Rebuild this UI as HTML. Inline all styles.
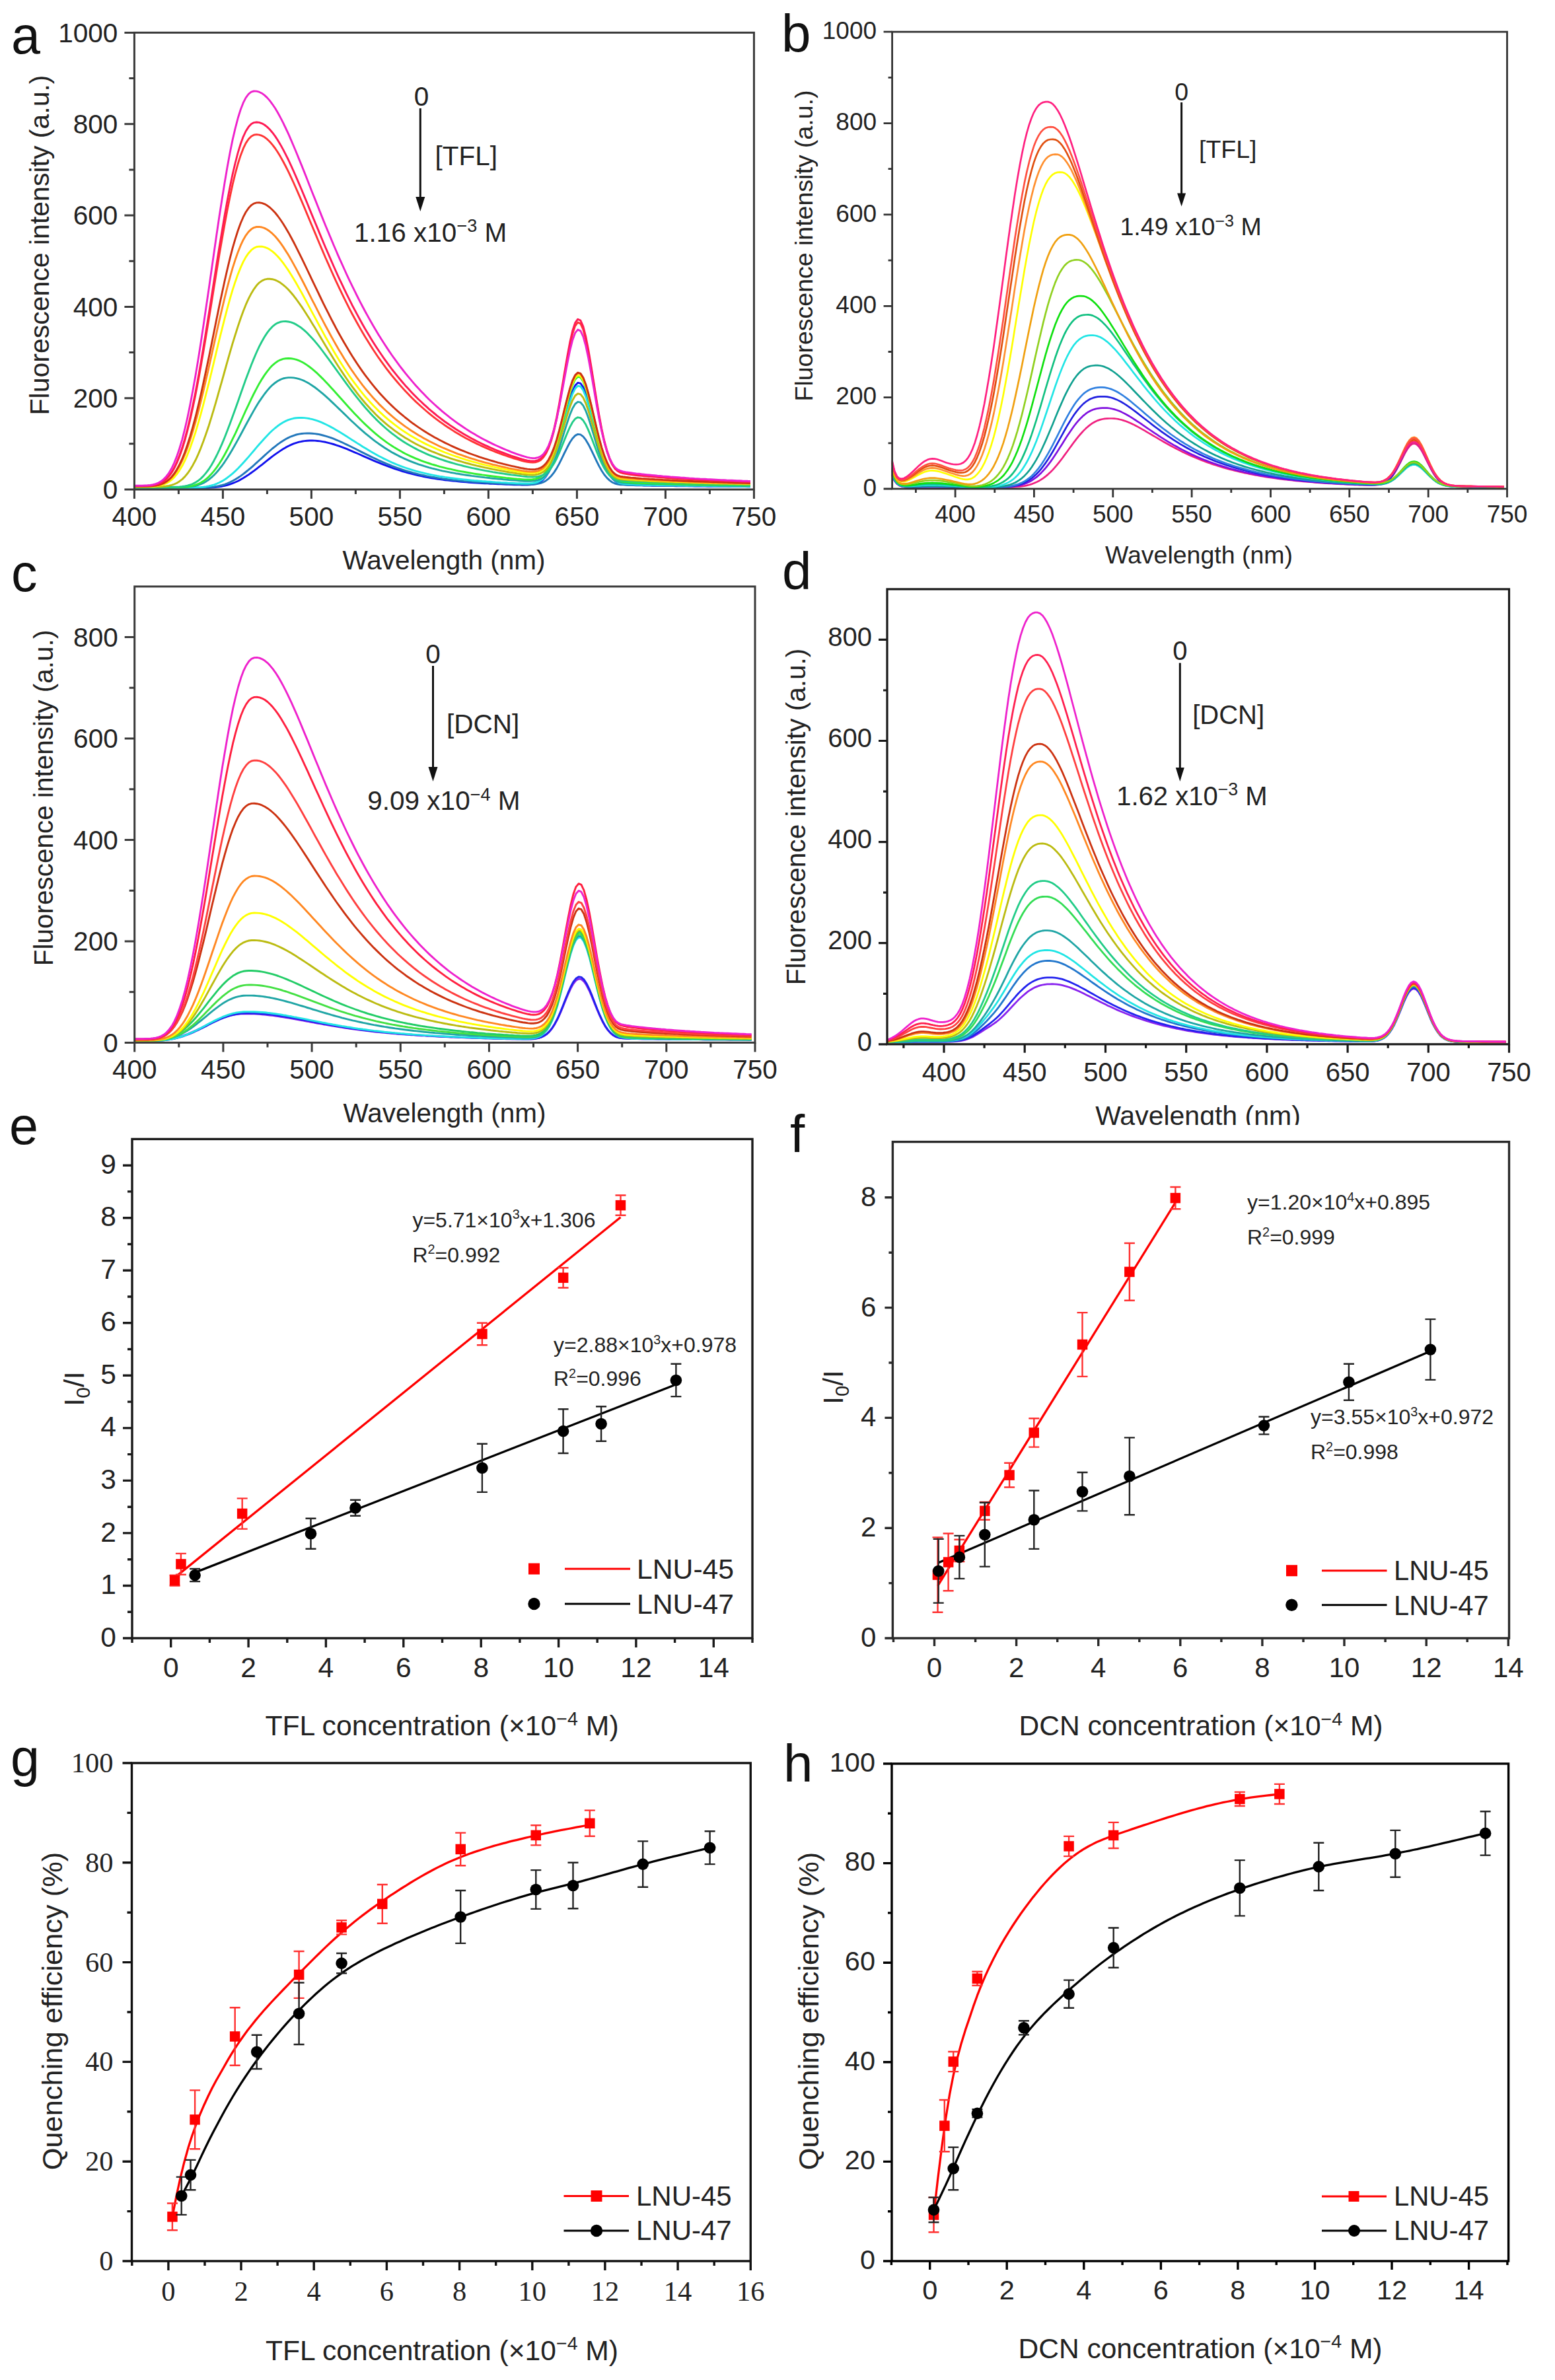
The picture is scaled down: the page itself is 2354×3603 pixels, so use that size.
<!DOCTYPE html>
<html><head><meta charset="utf-8"><title>Figure</title>
<style>html,body{margin:0;padding:0;background:#fff}svg{display:block}</style></head>
<body><svg width="2354" height="3603" viewBox="0 0 2354 3603">
<rect width="2354" height="3603" fill="#fff"/>
<path d="M203.4 738.5 207.4 738.5 211.4 738.5 215.5 738.5 219.5 738.5 223.5 738.5 227.5 738.5 231.5 738.5 235.6 738.5 239.6 738.5 243.6 738.5 247.6 738.5 251.6 738.5 255.7 738.5 259.7 738.5 263.7 738.5 267.7 738.5 271.7 738.5 275.8 738.5 279.8 738.5 283.8 738.5 287.8 738.5 291.8 738.5 295.9 738.5 299.9 738.5 303.9 738.4 307.9 738.4 311.9 738.3 316.0 738.2 320.0 738.0 324.0 737.7 328.0 737.4 332.0 736.9 336.1 736.2 340.1 735.4 344.1 734.4 348.1 733.1 352.1 731.7 356.2 730.0 360.2 728.2 364.2 726.1 368.2 723.8 372.2 721.3 376.3 718.6 380.3 715.8 384.3 712.9 388.3 709.8 392.3 706.7 396.4 703.6 400.4 700.4 404.4 697.2 408.4 694.0 412.4 690.9 416.5 687.9 420.5 685.1 424.5 682.4 428.5 679.8 432.5 677.4 436.6 675.3 440.6 673.4 444.6 671.7 448.6 670.3 452.6 669.2 456.7 668.3 460.7 667.6 464.7 667.2 468.7 667.0 472.7 667.0 476.8 667.1 480.8 667.5 484.8 667.9 488.8 668.6 492.8 669.3 496.9 670.3 500.9 671.3 504.9 672.5 508.9 673.8 512.9 675.1 517.0 676.6 521.0 678.1 525.0 679.7 529.0 681.4 533.0 683.1 537.1 684.8 541.1 686.5 545.1 688.3 549.1 690.1 553.1 691.8 557.2 693.6 561.2 695.3 565.2 697.1 569.2 698.8 573.2 700.4 577.3 702.1 581.3 703.7 585.3 705.2 589.3 706.7 593.3 708.2 597.4 709.6 601.4 710.9 605.4 712.2 609.4 713.5 613.4 714.7 617.5 715.8 621.5 716.9 625.5 717.9 629.5 718.9 633.5 719.8 637.6 720.7 641.6 721.5 645.6 722.3 649.6 723.0 653.6 723.7 657.7 724.4 661.7 725.0 665.7 725.6 669.7 726.1 673.7 726.7 677.8 727.1 681.8 727.6 685.8 728.0 689.8 728.4 693.8 728.8 697.9 729.2 701.9 729.5 705.9 729.9 709.9 730.2 713.9 730.5 718.0 730.7 722.0 731.0 726.0 731.3 730.0 731.5 734.0 731.7 738.1 731.9 742.1 732.2 746.1 732.4 750.1 732.5 754.1 732.7 758.2 732.9 762.2 733.1 766.2 733.2 770.2 733.4 774.2 733.6 778.3 733.7 782.3 733.8 786.3 733.9 790.3 734.0 794.3 734.0 798.4 734.0 802.4 733.8 806.4 733.3 810.4 732.5 814.4 731.1 818.5 729.0 822.5 725.8 826.5 721.3 830.5 715.0 834.5 706.7 838.6 696.3 842.6 683.6 846.6 669.0 850.6 652.9 854.6 636.0 858.7 619.5 862.7 604.4 866.7 592.1 870.7 583.5 874.7 579.4 878.8 580.3 882.8 586.1 886.8 596.2 890.8 609.7 894.8 625.5 898.9 642.4 902.9 659.3 906.9 675.1 910.9 689.3 914.9 701.3 919.0 711.1 923.0 718.8 927.0 724.4 931.0 728.3 935.0 730.9 939.1 732.4 943.1 733.3 947.1 733.8 951.1 734.2 955.1 734.4 959.2 734.6 963.2 734.7 967.2 734.8 971.2 734.9 975.2 735.0 979.3 735.1 983.3 735.1 987.3 735.2 991.3 735.2 995.3 735.3 999.4 735.4 1003.4 735.4 1007.4 735.5 1011.4 735.5 1015.4 735.6 1019.5 735.6 1023.5 735.7 1027.5 735.7 1031.5 735.8 1035.5 735.8 1039.6 735.9 1043.6 735.9 1047.6 735.9 1051.6 736.0 1055.6 736.0 1059.7 736.1 1063.7 736.1 1067.7 736.1 1071.7 736.2 1075.7 736.2 1079.8 736.3 1083.8 736.3 1087.8 736.3 1091.8 736.4 1095.8 736.4 1099.9 736.4 1103.9 736.5 1107.9 736.5 1111.9 736.5 1115.9 736.6 1120.0 736.6 1124.0 736.6 1128.0 736.6 1132.0 736.7 1136.0 736.7" fill="none" stroke="#1111ee" stroke-width="2.9" stroke-linejoin="round"/>
<path d="M203.4 738.4 207.4 738.4 211.4 738.4 215.5 738.4 219.5 738.4 223.5 738.4 227.5 738.4 231.5 738.4 235.6 738.4 239.6 738.4 243.6 738.4 247.6 738.4 251.6 738.4 255.7 738.4 259.7 738.4 263.7 738.4 267.7 738.4 271.7 738.4 275.8 738.4 279.8 738.4 283.8 738.4 287.8 738.4 291.8 738.4 295.9 738.4 299.9 738.3 303.9 738.3 307.9 738.2 311.9 738.0 316.0 737.8 320.0 737.4 324.0 737.0 328.0 736.3 332.0 735.5 336.1 734.5 340.1 733.3 344.1 731.8 348.1 730.0 352.1 728.0 356.2 725.8 360.2 723.3 364.2 720.6 368.2 717.7 372.2 714.5 376.3 711.2 380.3 707.8 384.3 704.3 388.3 700.6 392.3 697.0 396.4 693.3 400.4 689.6 404.4 686.0 408.4 682.5 412.4 679.0 416.5 675.8 420.5 672.7 424.5 669.8 428.5 667.2 432.5 664.8 436.6 662.6 440.6 660.8 444.6 659.3 448.6 658.0 452.6 657.1 456.7 656.5 460.7 656.1 464.7 655.9 468.7 656.0 472.7 656.2 476.8 656.6 480.8 657.2 484.8 658.0 488.8 659.0 492.8 660.1 496.9 661.3 500.9 662.7 504.9 664.2 508.9 665.8 512.9 667.5 517.0 669.3 521.0 671.2 525.0 673.1 529.0 675.0 533.0 677.0 537.1 679.0 541.1 681.0 545.1 683.1 549.1 685.1 553.1 687.1 557.2 689.1 561.2 691.1 565.2 693.0 569.2 694.9 573.2 696.8 577.3 698.6 581.3 700.4 585.3 702.1 589.3 703.7 593.3 705.3 597.4 706.8 601.4 708.3 605.4 709.7 609.4 711.1 613.4 712.4 617.5 713.6 621.5 714.7 625.5 715.9 629.5 716.9 633.5 717.9 637.6 718.8 641.6 719.7 645.6 720.6 649.6 721.4 653.6 722.1 657.7 722.8 661.7 723.5 665.7 724.1 669.7 724.7 673.7 725.2 677.8 725.8 681.8 726.3 685.8 726.7 689.8 727.2 693.8 727.6 697.9 728.0 701.9 728.4 705.9 728.7 709.9 729.0 713.9 729.4 718.0 729.7 722.0 730.0 726.0 730.2 730.0 730.5 734.0 730.8 738.1 731.0 742.1 731.2 746.1 731.5 750.1 731.7 754.1 731.9 758.2 732.1 762.2 732.3 766.2 732.5 770.2 732.6 774.2 732.8 778.3 733.0 782.3 733.1 786.3 733.3 790.3 733.4 794.3 733.5 798.4 733.5 802.4 733.5 806.4 733.4 810.4 733.0 814.4 732.4 818.5 731.4 822.5 729.9 826.5 727.7 830.5 724.6 834.5 720.5 838.6 715.4 842.6 709.1 846.6 701.9 850.6 693.8 854.6 685.5 858.7 677.3 862.7 669.8 866.7 663.7 870.7 659.4 874.7 657.4 878.8 657.9 882.8 660.8 886.8 665.9 890.8 672.7 894.8 680.7 898.9 689.2 902.9 697.6 906.9 705.6 910.9 712.7 914.9 718.7 919.0 723.6 923.0 727.4 927.0 730.2 931.0 732.0 935.0 733.1 939.1 733.7 943.1 733.9 947.1 734.0 951.1 734.2 955.1 734.3 959.2 734.4 963.2 734.5 967.2 734.6 971.2 734.6 975.2 734.7 979.3 734.8 983.3 734.8 987.3 734.9 991.3 735.0 995.3 735.0 999.4 735.1 1003.4 735.1 1007.4 735.2 1011.4 735.3 1015.4 735.3 1019.5 735.4 1023.5 735.4 1027.5 735.5 1031.5 735.5 1035.5 735.6 1039.6 735.6 1043.6 735.7 1047.6 735.7 1051.6 735.8 1055.6 735.8 1059.7 735.9 1063.7 735.9 1067.7 735.9 1071.7 736.0 1075.7 736.0 1079.8 736.1 1083.8 736.1 1087.8 736.1 1091.8 736.2 1095.8 736.2 1099.9 736.3 1103.9 736.3 1107.9 736.3 1111.9 736.4 1115.9 736.4 1120.0 736.4 1124.0 736.5 1128.0 736.5 1132.0 736.5 1136.0 736.5" fill="none" stroke="#2277bb" stroke-width="2.9" stroke-linejoin="round"/>
<path d="M203.4 738.3 207.4 738.3 211.4 738.3 215.5 738.3 219.5 738.3 223.5 738.3 227.5 738.3 231.5 738.3 235.6 738.3 239.6 738.3 243.6 738.3 247.6 738.3 251.6 738.3 255.7 738.3 259.7 738.3 263.7 738.3 267.7 738.3 271.7 738.3 275.8 738.3 279.8 738.3 283.8 738.2 287.8 738.2 291.8 738.1 295.9 738.0 299.9 737.9 303.9 737.6 307.9 737.2 311.9 736.7 316.0 735.9 320.0 735.0 324.0 733.8 328.0 732.3 332.0 730.5 336.1 728.4 340.1 726.0 344.1 723.2 348.1 720.2 352.1 716.8 356.2 713.1 360.2 709.2 364.2 705.1 368.2 700.7 372.2 696.2 376.3 691.6 380.3 686.9 384.3 682.2 388.3 677.4 392.3 672.7 396.4 668.2 400.4 663.7 404.4 659.4 408.4 655.3 412.4 651.5 416.5 648.0 420.5 644.8 424.5 642.0 428.5 639.5 432.5 637.4 436.6 635.6 440.6 634.3 444.6 633.3 448.6 632.7 452.6 632.5 456.7 632.4 460.7 632.6 464.7 633.1 468.7 633.8 472.7 634.7 476.8 635.8 480.8 637.2 484.8 638.7 488.8 640.4 492.8 642.3 496.9 644.3 500.9 646.4 504.9 648.6 508.9 650.9 512.9 653.3 517.0 655.8 521.0 658.3 525.0 660.8 529.0 663.4 533.0 666.0 537.1 668.5 541.1 671.1 545.1 673.6 549.1 676.2 553.1 678.6 557.2 681.1 561.2 683.4 565.2 685.8 569.2 688.0 573.2 690.2 577.3 692.3 581.3 694.4 585.3 696.3 589.3 698.2 593.3 700.1 597.4 701.8 601.4 703.5 605.4 705.1 609.4 706.6 613.4 708.0 617.5 709.4 621.5 710.7 625.5 711.9 629.5 713.1 633.5 714.2 637.6 715.2 641.6 716.2 645.6 717.1 649.6 718.0 653.6 718.8 657.7 719.6 661.7 720.4 665.7 721.1 669.7 721.7 673.7 722.4 677.8 722.9 681.8 723.5 685.8 724.0 689.8 724.5 693.8 725.0 697.9 725.5 701.9 725.9 705.9 726.3 709.9 726.7 713.9 727.1 718.0 727.5 722.0 727.8 726.0 728.1 730.0 728.5 734.0 728.8 738.1 729.1 742.1 729.3 746.1 729.6 750.1 729.9 754.1 730.1 758.2 730.4 762.2 730.6 766.2 730.8 770.2 731.1 774.2 731.3 778.3 731.5 782.3 731.7 786.3 731.8 790.3 732.0 794.3 732.0 798.4 732.0 802.4 731.9 806.4 731.5 810.4 730.8 814.4 729.5 818.5 727.5 822.5 724.5 826.5 720.2 830.5 714.2 834.5 706.3 838.6 696.3 842.6 684.2 846.6 670.1 850.6 654.7 854.6 638.5 858.7 622.6 862.7 608.2 866.7 596.3 870.7 588.1 874.7 584.2 878.8 585.1 882.8 590.7 886.8 600.4 890.8 613.5 894.8 628.7 898.9 645.0 902.9 661.2 906.9 676.5 910.9 690.1 914.9 701.7 919.0 711.2 923.0 718.5 927.0 724.0 931.0 727.7 935.0 730.1 939.1 731.6 943.1 732.4 947.1 732.9 951.1 733.2 955.1 733.4 959.2 733.6 963.2 733.8 967.2 733.9 971.2 734.0 975.2 734.1 979.3 734.2 983.3 734.2 987.3 734.3 991.3 734.4 995.3 734.5 999.4 734.5 1003.4 734.6 1007.4 734.7 1011.4 734.7 1015.4 734.8 1019.5 734.9 1023.5 734.9 1027.5 735.0 1031.5 735.0 1035.5 735.1 1039.6 735.2 1043.6 735.2 1047.6 735.3 1051.6 735.3 1055.6 735.4 1059.7 735.4 1063.7 735.5 1067.7 735.5 1071.7 735.6 1075.7 735.6 1079.8 735.7 1083.8 735.7 1087.8 735.7 1091.8 735.8 1095.8 735.8 1099.9 735.9 1103.9 735.9 1107.9 736.0 1111.9 736.0 1115.9 736.0 1120.0 736.1 1124.0 736.1 1128.0 736.1 1132.0 736.2 1136.0 736.2" fill="none" stroke="#22e5e5" stroke-width="2.9" stroke-linejoin="round"/>
<path d="M203.4 737.9 207.4 737.9 211.4 737.9 215.5 737.9 219.5 737.9 223.5 737.9 227.5 737.9 231.5 737.9 235.6 737.9 239.6 737.9 243.6 737.9 247.6 737.9 251.6 737.9 255.7 737.9 259.7 737.9 263.7 737.9 267.7 737.9 271.7 737.8 275.8 737.7 279.8 737.5 283.8 737.3 287.8 736.9 291.8 736.3 295.9 735.5 299.9 734.4 303.9 733.0 307.9 731.2 311.9 728.9 316.0 726.2 320.0 722.9 324.0 719.2 328.0 715.0 332.0 710.2 336.1 705.0 340.1 699.3 344.1 693.2 348.1 686.7 352.1 679.9 356.2 672.8 360.2 665.6 364.2 658.2 368.2 650.7 372.2 643.2 376.3 635.8 380.3 628.5 384.3 621.4 388.3 614.6 392.3 608.1 396.4 602.1 400.4 596.5 404.4 591.4 408.4 586.8 412.4 582.8 416.5 579.5 420.5 576.7 424.5 574.6 428.5 573.0 432.5 572.1 436.6 571.6 440.6 571.6 444.6 571.9 448.6 572.6 452.6 573.6 456.7 575.0 460.7 576.7 464.7 578.8 468.7 581.1 472.7 583.7 476.8 586.5 480.8 589.6 484.8 592.8 488.8 596.2 492.8 599.7 496.9 603.3 500.9 607.1 504.9 610.9 508.9 614.7 512.9 618.6 517.0 622.5 521.0 626.4 525.0 630.3 529.0 634.2 533.0 638.0 537.1 641.8 541.1 645.5 545.1 649.1 549.1 652.6 553.1 656.1 557.2 659.4 561.2 662.7 565.2 665.8 569.2 668.8 573.2 671.7 577.3 674.5 581.3 677.2 585.3 679.8 589.3 682.3 593.3 684.7 597.4 686.9 601.4 689.0 605.4 691.1 609.4 693.0 613.4 694.9 617.5 696.6 621.5 698.3 625.5 699.9 629.5 701.4 633.5 702.8 637.6 704.1 641.6 705.4 645.6 706.6 649.6 707.8 653.6 708.9 657.7 709.9 661.7 710.9 665.7 711.9 669.7 712.8 673.7 713.6 677.8 714.4 681.8 715.2 685.8 715.9 689.8 716.7 693.8 717.3 697.9 718.0 701.9 718.6 705.9 719.2 709.9 719.8 713.9 720.4 718.0 720.9 722.0 721.4 726.0 721.9 730.0 722.4 734.0 722.9 738.1 723.3 742.1 723.8 746.1 724.2 750.1 724.6 754.1 725.0 758.2 725.4 762.2 725.8 766.2 726.1 770.2 726.5 774.2 726.8 778.3 727.1 782.3 727.4 786.3 727.7 790.3 728.0 794.3 728.2 798.4 728.3 802.4 728.3 806.4 728.1 810.4 727.7 814.4 726.7 818.5 725.2 822.5 722.8 826.5 719.4 830.5 714.5 834.5 708.1 838.6 700.0 842.6 690.1 846.6 678.6 850.6 665.9 854.6 652.7 858.7 639.7 862.7 627.9 866.7 618.2 870.7 611.5 874.7 608.4 878.8 609.2 882.8 613.9 886.8 622.0 890.8 632.8 894.8 645.4 898.9 658.9 902.9 672.4 906.9 685.0 910.9 696.3 914.9 705.9 919.0 713.7 923.0 719.8 927.0 724.3 931.0 727.3 935.0 729.2 939.1 730.2 943.1 730.8 947.1 731.1 951.1 731.4 955.1 731.6 959.2 731.8 963.2 732.0 967.2 732.1 971.2 732.2 975.2 732.4 979.3 732.5 983.3 732.6 987.3 732.7 991.3 732.8 995.3 732.9 999.4 733.0 1003.4 733.1 1007.4 733.2 1011.4 733.3 1015.4 733.4 1019.5 733.5 1023.5 733.6 1027.5 733.6 1031.5 733.7 1035.5 733.8 1039.6 733.9 1043.6 734.0 1047.6 734.0 1051.6 734.1 1055.6 734.2 1059.7 734.2 1063.7 734.3 1067.7 734.4 1071.7 734.4 1075.7 734.5 1079.8 734.6 1083.8 734.6 1087.8 734.7 1091.8 734.7 1095.8 734.8 1099.9 734.9 1103.9 734.9 1107.9 735.0 1111.9 735.0 1115.9 735.1 1120.0 735.1 1124.0 735.2 1128.0 735.2 1132.0 735.3 1136.0 735.3" fill="none" stroke="#1fa5a5" stroke-width="2.9" stroke-linejoin="round"/>
<path d="M203.4 737.7 207.4 737.7 211.4 737.7 215.5 737.7 219.5 737.7 223.5 737.7 227.5 737.7 231.5 737.7 235.6 737.7 239.6 737.7 243.6 737.7 247.6 737.7 251.6 737.7 255.7 737.7 259.7 737.7 263.7 737.7 267.7 737.6 271.7 737.5 275.8 737.4 279.8 737.1 283.8 736.7 287.8 736.2 291.8 735.3 295.9 734.2 299.9 732.7 303.9 730.7 307.9 728.3 311.9 725.3 316.0 721.8 320.0 717.6 324.0 712.9 328.0 707.6 332.0 701.7 336.1 695.2 340.1 688.2 344.1 680.8 348.1 672.9 352.1 664.7 356.2 656.3 360.2 647.6 364.2 638.8 368.2 630.0 372.2 621.2 376.3 612.6 380.3 604.2 384.3 596.0 388.3 588.3 392.3 580.9 396.4 574.1 400.4 567.9 404.4 562.3 408.4 557.3 412.4 553.1 416.5 549.6 420.5 546.8 424.5 544.8 428.5 543.4 432.5 542.7 436.6 542.5 440.6 542.7 444.6 543.4 448.6 544.4 452.6 545.9 456.7 547.8 460.7 550.0 464.7 552.6 468.7 555.5 472.7 558.6 476.8 562.1 480.8 565.7 484.8 569.6 488.8 573.6 492.8 577.8 496.9 582.0 500.9 586.4 504.9 590.8 508.9 595.3 512.9 599.8 517.0 604.3 521.0 608.8 525.0 613.3 529.0 617.7 533.0 622.1 537.1 626.4 541.1 630.6 545.1 634.7 549.1 638.7 553.1 642.6 557.2 646.4 561.2 650.1 565.2 653.7 569.2 657.1 573.2 660.4 577.3 663.6 581.3 666.6 585.3 669.6 589.3 672.4 593.3 675.0 597.4 677.6 601.4 680.0 605.4 682.3 609.4 684.6 613.4 686.7 617.5 688.7 621.5 690.6 625.5 692.4 629.5 694.1 633.5 695.7 637.6 697.3 641.6 698.8 645.6 700.2 649.6 701.5 653.6 702.8 657.7 704.0 661.7 705.2 665.7 706.3 669.7 707.3 673.7 708.3 677.8 709.3 681.8 710.2 685.8 711.1 689.8 712.0 693.8 712.8 697.9 713.6 701.9 714.3 705.9 715.0 709.9 715.7 713.9 716.4 718.0 717.1 722.0 717.7 726.0 718.3 730.0 718.9 734.0 719.4 738.1 720.0 742.1 720.5 746.1 721.0 750.1 721.5 754.1 722.0 758.2 722.5 762.2 722.9 766.2 723.4 770.2 723.8 774.2 724.2 778.3 724.6 782.3 725.0 786.3 725.3 790.3 725.6 794.3 725.9 798.4 726.0 802.4 726.0 806.4 725.7 810.4 725.1 814.4 723.9 818.5 721.9 822.5 718.8 826.5 714.3 830.5 708.0 834.5 699.7 838.6 689.2 842.6 676.3 846.6 661.4 850.6 645.0 854.6 627.9 858.7 611.0 862.7 595.7 866.7 583.1 870.7 574.4 874.7 570.4 878.8 571.4 882.8 577.5 886.8 587.9 890.8 601.9 894.8 618.3 898.9 635.8 902.9 653.2 906.9 669.5 910.9 684.1 914.9 696.6 919.0 706.7 923.0 714.6 927.0 720.5 931.0 724.5 935.0 727.0 939.1 728.5 943.1 729.3 947.1 729.9 951.1 730.3 955.1 730.6 959.2 730.8 963.2 731.0 967.2 731.2 971.2 731.3 975.2 731.5 979.3 731.6 983.3 731.7 987.3 731.8 991.3 732.0 995.3 732.1 999.4 732.2 1003.4 732.3 1007.4 732.4 1011.4 732.5 1015.4 732.6 1019.5 732.7 1023.5 732.8 1027.5 732.9 1031.5 733.0 1035.5 733.1 1039.6 733.2 1043.6 733.3 1047.6 733.4 1051.6 733.5 1055.6 733.5 1059.7 733.6 1063.7 733.7 1067.7 733.8 1071.7 733.9 1075.7 733.9 1079.8 734.0 1083.8 734.1 1087.8 734.1 1091.8 734.2 1095.8 734.3 1099.9 734.3 1103.9 734.4 1107.9 734.5 1111.9 734.5 1115.9 734.6 1120.0 734.6 1124.0 734.7 1128.0 734.7 1132.0 734.8 1136.0 734.9" fill="none" stroke="#33ee33" stroke-width="2.9" stroke-linejoin="round"/>
<path d="M203.4 737.4 207.4 737.4 211.4 737.4 215.5 737.4 219.5 737.4 223.5 737.4 227.5 737.4 231.5 737.4 235.6 737.4 239.6 737.4 243.6 737.4 247.6 737.4 251.6 737.4 255.7 737.4 259.7 737.3 263.7 737.3 267.7 737.1 271.7 736.9 275.8 736.5 279.8 736.0 283.8 735.2 287.8 734.0 291.8 732.5 295.9 730.4 299.9 727.8 303.9 724.6 307.9 720.6 311.9 715.9 316.0 710.5 320.0 704.2 324.0 697.2 328.0 689.5 332.0 681.1 336.1 671.9 340.1 662.3 344.1 652.0 348.1 641.4 352.1 630.4 356.2 619.2 360.2 607.9 364.2 596.5 368.2 585.2 372.2 574.0 376.3 563.2 380.3 552.8 384.3 542.9 388.3 533.5 392.3 524.9 396.4 517.0 400.4 510.0 404.4 503.9 408.4 498.7 412.4 494.4 416.5 491.1 420.5 488.8 424.5 487.3 428.5 486.6 432.5 486.5 436.6 487.0 440.6 487.9 444.6 489.4 448.6 491.4 452.6 493.9 456.7 496.8 460.7 500.1 464.7 503.8 468.7 507.9 472.7 512.2 476.8 516.8 480.8 521.7 484.8 526.7 488.8 532.0 492.8 537.3 496.9 542.8 500.9 548.3 504.9 553.9 508.9 559.4 512.9 565.0 517.0 570.6 521.0 576.2 525.0 581.6 529.0 587.0 533.0 592.3 537.1 597.6 541.1 602.7 545.1 607.6 549.1 612.5 553.1 617.2 557.2 621.8 561.2 626.2 565.2 630.5 569.2 634.6 573.2 638.5 577.3 642.4 581.3 646.0 585.3 649.5 589.3 652.9 593.3 656.1 597.4 659.2 601.4 662.2 605.4 665.0 609.4 667.7 613.4 670.3 617.5 672.7 621.5 675.1 625.5 677.3 629.5 679.4 633.5 681.5 637.6 683.4 641.6 685.3 645.6 687.1 649.6 688.8 653.6 690.4 657.7 691.9 661.7 693.4 665.7 694.9 669.7 696.2 673.7 697.5 677.8 698.8 681.8 700.0 685.8 701.2 689.8 702.3 693.8 703.4 697.9 704.4 701.9 705.5 705.9 706.4 709.9 707.4 713.9 708.3 718.0 709.2 722.0 710.0 726.0 710.8 730.0 711.6 734.0 712.4 738.1 713.1 742.1 713.9 746.1 714.6 750.1 715.2 754.1 715.9 758.2 716.5 762.2 717.1 766.2 717.7 770.2 718.3 774.2 718.9 778.3 719.4 782.3 719.9 786.3 720.4 790.3 720.9 794.3 721.3 798.4 721.7 802.4 721.9 806.4 722.0 810.4 721.9 814.4 721.4 818.5 720.4 822.5 718.8 826.5 716.3 830.5 712.7 834.5 707.9 838.6 701.8 842.6 694.2 846.6 685.5 850.6 675.8 854.6 665.6 858.7 655.6 862.7 646.6 866.7 639.2 870.7 634.1 874.7 631.8 878.8 632.6 882.8 636.4 886.8 642.8 890.8 651.4 894.8 661.3 898.9 672.0 902.9 682.6 906.9 692.5 910.9 701.4 914.9 709.0 919.0 715.2 923.0 720.0 927.0 723.5 931.0 725.8 935.0 727.1 939.1 727.8 943.1 728.1 947.1 728.3 951.1 728.5 955.1 728.7 959.2 728.9 963.2 729.1 967.2 729.3 971.2 729.5 975.2 729.6 979.3 729.8 983.3 730.0 987.3 730.1 991.3 730.3 995.3 730.4 999.4 730.6 1003.4 730.7 1007.4 730.9 1011.4 731.0 1015.4 731.1 1019.5 731.3 1023.5 731.4 1027.5 731.5 1031.5 731.6 1035.5 731.8 1039.6 731.9 1043.6 732.0 1047.6 732.1 1051.6 732.2 1055.6 732.3 1059.7 732.4 1063.7 732.5 1067.7 732.6 1071.7 732.7 1075.7 732.8 1079.8 732.9 1083.8 733.0 1087.8 733.1 1091.8 733.1 1095.8 733.2 1099.9 733.3 1103.9 733.4 1107.9 733.5 1111.9 733.5 1115.9 733.6 1120.0 733.7 1124.0 733.8 1128.0 733.8 1132.0 733.9 1136.0 734.0" fill="none" stroke="#22cc88" stroke-width="2.9" stroke-linejoin="round"/>
<path d="M203.4 737.0 207.4 737.0 211.4 737.0 215.5 737.0 219.5 737.0 223.5 737.0 227.5 737.0 231.5 737.0 235.6 736.9 239.6 736.8 243.6 736.7 247.6 736.4 251.6 736.0 255.7 735.4 259.7 734.4 263.7 733.0 267.7 731.2 271.7 728.7 275.8 725.6 279.8 721.6 283.8 716.8 287.8 711.1 291.8 704.4 295.9 696.8 299.9 688.1 303.9 678.6 307.9 668.1 311.9 656.8 316.0 644.7 320.0 631.9 324.0 618.6 328.0 604.8 332.0 590.7 336.1 576.4 340.1 562.0 344.1 547.7 348.1 533.7 352.1 519.9 356.2 506.7 360.2 494.1 364.2 482.2 368.2 471.2 372.2 461.2 376.3 452.2 380.3 444.4 384.3 437.8 388.3 432.3 392.3 428.1 396.4 425.1 400.4 423.2 404.4 422.3 408.4 422.2 412.4 422.7 416.5 423.9 420.5 425.7 424.5 428.1 428.5 431.1 432.5 434.5 436.6 438.5 440.6 443.0 444.6 447.8 448.6 453.0 452.6 458.6 456.7 464.4 460.7 470.5 464.7 476.7 468.7 483.1 472.7 489.7 476.8 496.3 480.8 503.0 484.8 509.8 488.8 516.5 492.8 523.2 496.9 529.9 500.9 536.5 504.9 543.0 508.9 549.4 512.9 555.7 517.0 561.9 521.0 567.9 525.0 573.8 529.0 579.6 533.0 585.1 537.1 590.5 541.1 595.8 545.1 600.9 549.1 605.7 553.1 610.5 557.2 615.0 561.2 619.4 565.2 623.6 569.2 627.7 573.2 631.6 577.3 635.3 581.3 638.9 585.3 642.3 589.3 645.6 593.3 648.7 597.4 651.8 601.4 654.7 605.4 657.5 609.4 660.1 613.4 662.7 617.5 665.1 621.5 667.5 625.5 669.7 629.5 671.9 633.5 674.0 637.6 676.0 641.6 677.9 645.6 679.8 649.6 681.6 653.6 683.3 657.7 684.9 661.7 686.5 665.7 688.1 669.7 689.6 673.7 691.0 677.8 692.4 681.8 693.8 685.8 695.1 689.8 696.3 693.8 697.5 697.9 698.7 701.9 699.9 705.9 701.0 709.9 702.0 713.9 703.1 718.0 704.1 722.0 705.1 726.0 706.0 730.0 706.9 734.0 707.8 738.1 708.7 742.1 709.5 746.1 710.4 750.1 711.1 754.1 711.9 758.2 712.7 762.2 713.4 766.2 714.1 770.2 714.8 774.2 715.4 778.3 716.0 782.3 716.7 786.3 717.2 790.3 717.8 794.3 718.3 798.4 718.6 802.4 718.9 806.4 719.0 810.4 718.7 814.4 717.9 818.5 716.6 822.5 714.3 826.5 710.8 830.5 705.9 834.5 699.4 838.6 691.0 842.6 680.7 846.6 668.8 850.6 655.6 854.6 641.8 858.7 628.3 862.7 616.0 866.7 605.9 870.7 599.0 874.7 595.9 878.8 596.9 882.8 601.9 886.8 610.6 890.8 622.1 894.8 635.6 898.9 649.9 902.9 664.2 906.9 677.6 910.9 689.6 914.9 699.9 919.0 708.2 923.0 714.7 927.0 719.4 931.0 722.6 935.0 724.6 939.1 725.6 943.1 726.1 947.1 726.4 951.1 726.7 955.1 727.0 959.2 727.2 963.2 727.5 967.2 727.7 971.2 727.9 975.2 728.1 979.3 728.3 983.3 728.5 987.3 728.7 991.3 728.9 995.3 729.1 999.4 729.2 1003.4 729.4 1007.4 729.6 1011.4 729.7 1015.4 729.9 1019.5 730.0 1023.5 730.2 1027.5 730.3 1031.5 730.4 1035.5 730.6 1039.6 730.7 1043.6 730.8 1047.6 731.0 1051.6 731.1 1055.6 731.2 1059.7 731.3 1063.7 731.4 1067.7 731.6 1071.7 731.7 1075.7 731.8 1079.8 731.9 1083.8 732.0 1087.8 732.1 1091.8 732.2 1095.8 732.3 1099.9 732.4 1103.9 732.5 1107.9 732.5 1111.9 732.6 1115.9 732.7 1120.0 732.8 1124.0 732.9 1128.0 733.0 1132.0 733.0 1136.0 733.1" fill="none" stroke="#bbbb11" stroke-width="2.9" stroke-linejoin="round"/>
<path d="M203.4 736.7 207.4 736.7 211.4 736.7 215.5 736.7 219.5 736.7 223.5 736.6 227.5 736.5 231.5 736.3 235.6 736.0 239.6 735.4 243.6 734.6 247.6 733.4 251.6 731.7 255.7 729.4 259.7 726.4 263.7 722.6 267.7 717.9 271.7 712.1 275.8 705.3 279.8 697.3 283.8 688.3 287.8 678.1 291.8 666.8 295.9 654.5 299.9 641.2 303.9 627.0 307.9 612.1 311.9 596.5 316.0 580.5 320.0 564.0 324.0 547.4 328.0 530.7 332.0 514.2 336.1 497.9 340.1 482.1 344.1 466.9 348.1 452.4 352.1 438.9 356.2 426.4 360.2 415.1 364.2 405.1 368.2 396.4 372.2 389.1 376.3 383.2 380.3 378.7 384.3 375.6 388.3 373.8 392.3 373.1 396.4 373.2 400.4 374.1 404.4 375.6 408.4 377.8 412.4 380.7 416.5 384.2 420.5 388.2 424.5 392.8 428.5 397.9 432.5 403.5 436.6 409.4 440.6 415.7 444.6 422.3 448.6 429.1 452.6 436.1 456.7 443.3 460.7 450.7 464.7 458.1 468.7 465.6 472.7 473.1 476.8 480.6 480.8 488.1 484.8 495.5 488.8 502.9 492.8 510.2 496.9 517.3 500.9 524.3 504.9 531.2 508.9 538.0 512.9 544.6 517.0 551.0 521.0 557.2 525.0 563.3 529.0 569.2 533.0 574.9 537.1 580.4 541.1 585.7 545.1 590.9 549.1 595.9 553.1 600.7 557.2 605.3 561.2 609.7 565.2 614.0 569.2 618.1 573.2 622.1 577.3 625.9 581.3 629.6 585.3 633.1 589.3 636.5 593.3 639.7 597.4 642.9 601.4 645.9 605.4 648.8 609.4 651.6 613.4 654.3 617.5 656.9 621.5 659.4 625.5 661.8 629.5 664.1 633.5 666.3 637.6 668.5 641.6 670.6 645.6 672.6 649.6 674.5 653.6 676.4 657.7 678.2 661.7 680.0 665.7 681.7 669.7 683.4 673.7 685.0 677.8 686.5 681.8 688.0 685.8 689.5 689.8 690.9 693.8 692.2 697.9 693.6 701.9 694.8 705.9 696.1 709.9 697.3 713.9 698.5 718.0 699.6 722.0 700.7 726.0 701.8 730.0 702.8 734.0 703.8 738.1 704.8 742.1 705.7 746.1 706.7 750.1 707.6 754.1 708.4 758.2 709.3 762.2 710.1 766.2 710.9 770.2 711.6 774.2 712.4 778.3 713.1 782.3 713.8 786.3 714.4 790.3 715.0 794.3 715.6 798.4 716.0 802.4 716.3 806.4 716.3 810.4 715.9 814.4 715.0 818.5 713.3 822.5 710.6 826.5 706.4 830.5 700.5 834.5 692.6 838.6 682.5 842.6 670.2 846.6 655.9 850.6 640.0 854.6 623.5 858.7 607.2 862.7 592.4 866.7 580.4 870.7 572.0 874.7 568.3 878.8 569.4 882.8 575.5 886.8 585.8 890.8 599.6 894.8 615.7 898.9 632.9 902.9 650.0 906.9 666.1 910.9 680.5 914.9 692.8 919.0 702.8 923.0 710.5 927.0 716.2 931.0 720.1 935.0 722.5 939.1 723.8 943.1 724.4 947.1 724.9 951.1 725.3 955.1 725.6 959.2 725.9 963.2 726.2 967.2 726.4 971.2 726.7 975.2 726.9 979.3 727.1 983.3 727.3 987.3 727.6 991.3 727.8 995.3 727.9 999.4 728.1 1003.4 728.3 1007.4 728.5 1011.4 728.7 1015.4 728.8 1019.5 729.0 1023.5 729.2 1027.5 729.3 1031.5 729.5 1035.5 729.6 1039.6 729.8 1043.6 729.9 1047.6 730.1 1051.6 730.2 1055.6 730.3 1059.7 730.5 1063.7 730.6 1067.7 730.7 1071.7 730.8 1075.7 731.0 1079.8 731.1 1083.8 731.2 1087.8 731.3 1091.8 731.4 1095.8 731.5 1099.9 731.6 1103.9 731.7 1107.9 731.8 1111.9 731.9 1115.9 732.0 1120.0 732.1 1124.0 732.2 1128.0 732.3 1132.0 732.4 1136.0 732.4" fill="none" stroke="#ffff00" stroke-width="2.9" stroke-linejoin="round"/>
<path d="M203.4 736.5 207.4 736.5 211.4 736.5 215.5 736.5 219.5 736.4 223.5 736.4 227.5 736.2 231.5 735.9 235.6 735.4 239.6 734.6 243.6 733.5 247.6 731.9 251.6 729.7 255.7 726.8 259.7 723.1 263.7 718.4 267.7 712.6 271.7 705.7 275.8 697.6 279.8 688.3 283.8 677.8 287.8 666.1 291.8 653.2 295.9 639.2 299.9 624.3 303.9 608.4 307.9 591.9 311.9 574.6 316.0 557.0 320.0 539.0 324.0 520.9 328.0 502.9 332.0 485.1 336.1 467.7 340.1 450.9 344.1 434.9 348.1 419.9 352.1 405.9 356.2 393.1 360.2 381.7 364.2 371.7 368.2 363.2 372.2 356.3 376.3 350.9 380.3 347.1 384.3 344.6 388.3 343.5 392.3 343.4 396.4 344.0 400.4 345.4 404.4 347.5 408.4 350.3 412.4 353.7 416.5 357.8 420.5 362.5 424.5 367.7 428.5 373.4 432.5 379.6 436.6 386.1 440.6 392.9 444.6 400.1 448.6 407.4 452.6 415.0 456.7 422.7 460.7 430.5 464.7 438.4 468.7 446.4 472.7 454.3 476.8 462.2 480.8 470.1 484.8 478.0 488.8 485.7 492.8 493.3 496.9 500.8 500.9 508.2 504.9 515.4 508.9 522.5 512.9 529.4 517.0 536.1 521.0 542.7 525.0 549.0 529.0 555.2 533.0 561.2 537.1 567.0 541.1 572.6 545.1 578.0 549.1 583.3 553.1 588.3 557.2 593.2 561.2 597.9 565.2 602.5 569.2 606.8 573.2 611.1 577.3 615.1 581.3 619.0 585.3 622.8 589.3 626.4 593.3 629.9 597.4 633.3 601.4 636.6 605.4 639.7 609.4 642.7 613.4 645.6 617.5 648.4 621.5 651.2 625.5 653.8 629.5 656.3 633.5 658.8 637.6 661.1 641.6 663.4 645.6 665.6 649.6 667.8 653.6 669.8 657.7 671.8 661.7 673.8 665.7 675.7 669.7 677.5 673.7 679.2 677.8 680.9 681.8 682.6 685.8 684.2 689.8 685.8 693.8 687.3 697.9 688.7 701.9 690.2 705.9 691.5 709.9 692.9 713.9 694.2 718.0 695.4 722.0 696.7 726.0 697.8 730.0 699.0 734.0 700.1 738.1 701.2 742.1 702.2 746.1 703.3 750.1 704.2 754.1 705.2 758.2 706.1 762.2 707.0 766.2 707.9 770.2 708.8 774.2 709.6 778.3 710.4 782.3 711.2 786.3 711.9 790.3 712.6 794.3 713.2 798.4 713.7 802.4 714.0 806.4 714.1 810.4 713.8 814.4 712.9 818.5 711.2 822.5 708.5 826.5 704.3 830.5 698.4 834.5 690.4 838.6 680.2 842.6 667.8 846.6 653.3 850.6 637.3 854.6 620.6 858.7 604.1 862.7 589.2 866.7 577.0 870.7 568.6 874.7 564.8 878.8 566.0 882.8 572.2 886.8 582.7 890.8 596.7 894.8 613.1 898.9 630.5 902.9 647.9 906.9 664.2 910.9 678.8 914.9 691.2 919.0 701.4 923.0 709.3 927.0 715.1 931.0 719.0 935.0 721.4 939.1 722.7 943.1 723.3 947.1 723.8 951.1 724.2 955.1 724.6 959.2 724.9 963.2 725.2 967.2 725.5 971.2 725.7 975.2 726.0 979.3 726.2 983.3 726.4 987.3 726.7 991.3 726.9 995.3 727.1 999.4 727.3 1003.4 727.5 1007.4 727.7 1011.4 727.9 1015.4 728.1 1019.5 728.3 1023.5 728.4 1027.5 728.6 1031.5 728.8 1035.5 728.9 1039.6 729.1 1043.6 729.3 1047.6 729.4 1051.6 729.6 1055.6 729.7 1059.7 729.8 1063.7 730.0 1067.7 730.1 1071.7 730.2 1075.7 730.4 1079.8 730.5 1083.8 730.6 1087.8 730.7 1091.8 730.9 1095.8 731.0 1099.9 731.1 1103.9 731.2 1107.9 731.3 1111.9 731.4 1115.9 731.5 1120.0 731.6 1124.0 731.7 1128.0 731.8 1132.0 731.9 1136.0 732.0" fill="none" stroke="#ff8822" stroke-width="2.9" stroke-linejoin="round"/>
<path d="M203.4 736.3 207.4 736.3 211.4 736.3 215.5 736.3 219.5 736.2 223.5 736.1 227.5 735.9 231.5 735.6 235.6 735.1 239.6 734.3 243.6 733.1 247.6 731.5 251.6 729.1 255.7 726.0 259.7 722.0 263.7 717.0 267.7 710.8 271.7 703.4 275.8 694.7 279.8 684.7 283.8 673.3 287.8 660.6 291.8 646.7 295.9 631.5 299.9 615.2 303.9 598.0 307.9 579.9 311.9 561.1 316.0 541.7 320.0 522.1 324.0 502.2 328.0 482.4 332.0 462.9 336.1 443.8 340.1 425.3 344.1 407.7 348.1 391.1 352.1 375.7 356.2 361.6 360.2 349.0 364.2 338.0 368.2 328.7 372.2 321.0 376.3 315.1 380.3 310.8 384.3 308.1 388.3 306.9 392.3 306.7 396.4 307.4 400.4 308.8 404.4 311.1 408.4 314.0 412.4 317.7 416.5 322.0 420.5 327.0 424.5 332.5 428.5 338.5 432.5 345.0 436.6 351.9 440.6 359.2 444.6 366.8 448.6 374.6 452.6 382.6 456.7 390.8 460.7 399.1 464.7 407.5 468.7 415.9 472.7 424.4 476.8 432.8 480.8 441.2 484.8 449.5 488.8 457.8 492.8 465.9 496.9 473.9 500.9 481.8 504.9 489.5 508.9 497.1 512.9 504.5 517.0 511.7 521.0 518.8 525.0 525.6 529.0 532.3 533.0 538.8 537.1 545.1 541.1 551.2 545.1 557.1 549.1 562.8 553.1 568.3 557.2 573.7 561.2 578.9 565.2 583.9 569.2 588.7 573.2 593.4 577.3 597.9 581.3 602.2 585.3 606.4 589.3 610.5 593.3 614.4 597.4 618.2 601.4 621.8 605.4 625.3 609.4 628.7 613.4 632.0 617.5 635.2 621.5 638.3 625.5 641.3 629.5 644.1 633.5 646.9 637.6 649.6 641.6 652.2 645.6 654.8 649.6 657.2 653.6 659.6 657.7 661.9 661.7 664.1 665.7 666.2 669.7 668.3 673.7 670.4 677.8 672.3 681.8 674.2 685.8 676.1 689.8 677.9 693.8 679.6 697.9 681.3 701.9 682.9 705.9 684.5 709.9 686.1 713.9 687.5 718.0 689.0 722.0 690.4 726.0 691.8 730.0 693.1 734.0 694.4 738.1 695.6 742.1 696.8 746.1 698.0 750.1 699.2 754.1 700.3 758.2 701.3 762.2 702.4 766.2 703.4 770.2 704.4 774.2 705.3 778.3 706.2 782.3 707.1 786.3 708.0 790.3 708.8 794.3 709.5 798.4 710.1 802.4 710.5 806.4 710.7 810.4 710.5 814.4 709.7 818.5 708.2 822.5 705.5 826.5 701.5 830.5 695.7 834.5 687.9 838.6 677.9 842.6 665.6 846.6 651.3 850.6 635.6 854.6 619.0 858.7 602.8 862.7 588.1 866.7 576.0 870.7 567.8 874.7 564.1 878.8 565.4 882.8 571.5 886.8 582.0 890.8 596.0 894.8 612.2 898.9 629.5 902.9 646.8 906.9 663.0 910.9 677.6 914.9 689.9 919.0 700.0 923.0 707.9 927.0 713.7 931.0 717.6 935.0 719.9 939.1 721.2 943.1 721.8 947.1 722.3 951.1 722.7 955.1 723.1 959.2 723.4 963.2 723.8 967.2 724.1 971.2 724.4 975.2 724.6 979.3 724.9 983.3 725.2 987.3 725.4 991.3 725.7 995.3 725.9 999.4 726.1 1003.4 726.4 1007.4 726.6 1011.4 726.8 1015.4 727.0 1019.5 727.2 1023.5 727.4 1027.5 727.6 1031.5 727.8 1035.5 728.0 1039.6 728.1 1043.6 728.3 1047.6 728.5 1051.6 728.7 1055.6 728.8 1059.7 729.0 1063.7 729.1 1067.7 729.3 1071.7 729.4 1075.7 729.6 1079.8 729.7 1083.8 729.8 1087.8 730.0 1091.8 730.1 1095.8 730.2 1099.9 730.4 1103.9 730.5 1107.9 730.6 1111.9 730.7 1115.9 730.8 1120.0 730.9 1124.0 731.0 1128.0 731.1 1132.0 731.2 1136.0 731.3" fill="none" stroke="#cc3311" stroke-width="2.9" stroke-linejoin="round"/>
<path d="M203.4 735.7 207.4 735.7 211.4 735.7 215.5 735.6 219.5 735.5 223.5 735.4 227.5 735.1 231.5 734.6 235.6 733.8 239.6 732.7 243.6 731.0 247.6 728.6 251.6 725.4 255.7 721.1 259.7 715.7 263.7 708.9 267.7 700.7 271.7 690.9 275.8 679.5 279.8 666.5 283.8 651.7 287.8 635.3 291.8 617.4 295.9 598.0 299.9 577.2 303.9 555.2 307.9 532.2 311.9 508.5 316.0 484.1 320.0 459.4 324.0 434.6 328.0 409.9 332.0 385.6 336.1 362.1 340.1 339.4 344.1 317.9 348.1 297.9 352.1 279.4 356.2 262.7 360.2 248.0 364.2 235.4 368.2 224.9 372.2 216.6 376.3 210.5 380.3 206.4 384.3 204.2 388.3 203.6 392.3 204.1 396.4 205.4 400.4 207.6 404.4 210.7 408.4 214.5 412.4 219.1 416.5 224.5 420.5 230.5 424.5 237.1 428.5 244.2 432.5 251.8 436.6 259.9 440.6 268.3 444.6 277.0 448.6 286.0 452.6 295.2 456.7 304.6 460.7 314.0 464.7 323.6 468.7 333.2 472.7 342.8 476.8 352.4 480.8 362.0 484.8 371.5 488.8 380.9 492.8 390.2 496.9 399.4 500.9 408.5 504.9 417.4 508.9 426.1 512.9 434.7 517.0 443.1 521.0 451.3 525.0 459.4 529.0 467.3 533.0 475.0 537.1 482.5 541.1 489.8 545.1 496.9 549.1 503.8 553.1 510.6 557.2 517.1 561.2 523.5 565.2 529.8 569.2 535.8 573.2 541.7 577.3 547.4 581.3 552.9 585.3 558.3 589.3 563.5 593.3 568.6 597.4 573.5 601.4 578.3 605.4 582.9 609.4 587.4 613.4 591.8 617.5 596.1 621.5 600.2 625.5 604.2 629.5 608.1 633.5 611.8 637.6 615.5 641.6 619.0 645.6 622.5 649.6 625.8 653.6 629.1 657.7 632.3 661.7 635.3 665.7 638.3 669.7 641.2 673.7 644.0 677.8 646.7 681.8 649.3 685.8 651.9 689.8 654.4 693.8 656.8 697.9 659.2 701.9 661.4 705.9 663.7 709.9 665.8 713.9 667.9 718.0 669.9 722.0 671.9 726.0 673.8 730.0 675.6 734.0 677.4 738.1 679.2 742.1 680.9 746.1 682.5 750.1 684.1 754.1 685.6 758.2 687.1 762.2 688.6 766.2 690.0 770.2 691.4 774.2 692.7 778.3 694.0 782.3 695.2 786.3 696.4 790.3 697.5 794.3 698.5 798.4 699.3 802.4 699.9 806.4 700.1 810.4 699.8 814.4 698.7 818.5 696.4 822.5 692.5 826.5 686.6 830.5 678.3 834.5 667.0 838.6 652.5 842.6 634.8 846.6 614.2 850.6 591.4 854.6 567.5 858.7 544.1 862.7 522.8 866.7 505.4 870.7 493.4 874.7 488.1 878.8 489.9 882.8 498.7 886.8 513.9 890.8 534.0 894.8 557.4 898.9 582.4 902.9 607.3 906.9 630.7 910.9 651.6 914.9 669.5 919.0 684.1 923.0 695.4 927.0 703.8 931.0 709.6 935.0 713.3 939.1 715.4 943.1 716.5 947.1 717.4 951.1 718.0 955.1 718.6 959.2 719.1 963.2 719.6 967.2 720.0 971.2 720.4 975.2 720.8 979.3 721.1 983.3 721.5 987.3 721.8 991.3 722.1 995.3 722.4 999.4 722.7 1003.4 723.0 1007.4 723.3 1011.4 723.6 1015.4 723.9 1019.5 724.2 1023.5 724.4 1027.5 724.7 1031.5 724.9 1035.5 725.2 1039.6 725.4 1043.6 725.6 1047.6 725.9 1051.6 726.1 1055.6 726.3 1059.7 726.5 1063.7 726.7 1067.7 726.9 1071.7 727.1 1075.7 727.3 1079.8 727.5 1083.8 727.6 1087.8 727.8 1091.8 728.0 1095.8 728.1 1099.9 728.3 1103.9 728.4 1107.9 728.6 1111.9 728.8 1115.9 728.9 1120.0 729.0 1124.0 729.2 1128.0 729.3 1132.0 729.4 1136.0 729.6" fill="none" stroke="#ff3535" stroke-width="2.9" stroke-linejoin="round"/>
<path d="M203.4 735.6 207.4 735.6 211.4 735.6 215.5 735.5 219.5 735.4 223.5 735.3 227.5 735.0 231.5 734.5 235.6 733.7 239.6 732.5 243.6 730.8 247.6 728.4 251.6 725.1 255.7 720.7 259.7 715.2 263.7 708.3 267.7 699.9 271.7 689.8 275.8 678.1 279.8 664.7 283.8 649.5 287.8 632.6 291.8 614.1 295.9 594.0 299.9 572.6 303.9 549.9 307.9 526.1 311.9 501.5 316.0 476.3 320.0 450.7 324.0 424.9 328.0 399.3 332.0 374.2 336.1 349.7 340.1 326.1 344.1 303.8 348.1 283.0 352.1 263.8 356.2 246.5 360.2 231.2 364.2 218.0 368.2 207.1 372.2 198.5 376.3 192.1 380.3 187.8 384.3 185.6 388.3 185.0 392.3 185.4 396.4 186.8 400.4 189.0 404.4 192.1 408.4 196.0 412.4 200.7 416.5 206.1 420.5 212.2 424.5 218.9 428.5 226.1 432.5 233.9 436.6 242.0 440.6 250.6 444.6 259.5 448.6 268.6 452.6 277.9 456.7 287.5 460.7 297.1 464.7 306.8 468.7 316.6 472.7 326.4 476.8 336.2 480.8 345.9 484.8 355.6 488.8 365.2 492.8 374.7 496.9 384.1 500.9 393.4 504.9 402.5 508.9 411.5 512.9 420.3 517.0 428.9 521.0 437.4 525.0 445.6 529.0 453.7 533.0 461.7 537.1 469.4 541.1 476.9 545.1 484.3 549.1 491.5 553.1 498.5 557.2 505.3 561.2 511.9 565.2 518.4 569.2 524.7 573.2 530.8 577.3 536.8 581.3 542.6 585.3 548.2 589.3 553.6 593.3 559.0 597.4 564.1 601.4 569.1 605.4 574.0 609.4 578.8 613.4 583.4 617.5 587.8 621.5 592.2 625.5 596.4 629.5 600.5 633.5 604.5 637.6 608.3 641.6 612.1 645.6 615.7 649.6 619.3 653.6 622.7 657.7 626.0 661.7 629.3 665.7 632.4 669.7 635.5 673.7 638.5 677.8 641.3 681.8 644.1 685.8 646.8 689.8 649.5 693.8 652.0 697.9 654.5 701.9 656.9 705.9 659.3 709.9 661.6 713.9 663.8 718.0 665.9 722.0 668.0 726.0 670.0 730.0 672.0 734.0 673.9 738.1 675.7 742.1 677.5 746.1 679.3 750.1 681.0 754.1 682.6 758.2 684.2 762.2 685.7 766.2 687.2 770.2 688.7 774.2 690.1 778.3 691.4 782.3 692.7 786.3 694.0 790.3 695.2 794.3 696.2 798.4 697.1 802.4 697.8 806.4 698.0 810.4 697.7 814.4 696.6 818.5 694.3 822.5 690.5 826.5 684.5 830.5 676.1 834.5 664.6 838.6 649.9 842.6 632.0 846.6 611.1 850.6 588.0 854.6 563.8 858.7 540.0 862.7 518.4 866.7 500.7 870.7 488.6 874.7 483.2 878.8 485.1 882.8 494.1 886.8 509.5 890.8 530.0 894.8 553.8 898.9 579.2 902.9 604.5 906.9 628.3 910.9 649.6 914.9 667.7 919.0 682.6 923.0 694.1 927.0 702.7 931.0 708.6 935.0 712.3 939.1 714.4 943.1 715.6 947.1 716.4 951.1 717.1 955.1 717.7 959.2 718.3 963.2 718.7 967.2 719.2 971.2 719.6 975.2 720.0 979.3 720.4 983.3 720.7 987.3 721.1 991.3 721.4 995.3 721.7 999.4 722.1 1003.4 722.4 1007.4 722.7 1011.4 723.0 1015.4 723.3 1019.5 723.6 1023.5 723.8 1027.5 724.1 1031.5 724.4 1035.5 724.6 1039.6 724.9 1043.6 725.1 1047.6 725.3 1051.6 725.6 1055.6 725.8 1059.7 726.0 1063.7 726.2 1067.7 726.4 1071.7 726.6 1075.7 726.8 1079.8 727.0 1083.8 727.2 1087.8 727.4 1091.8 727.6 1095.8 727.7 1099.9 727.9 1103.9 728.1 1107.9 728.2 1111.9 728.4 1115.9 728.5 1120.0 728.7 1124.0 728.8 1128.0 729.0 1132.0 729.1 1136.0 729.2" fill="none" stroke="#ff1a55" stroke-width="2.9" stroke-linejoin="round"/>
<path d="M203.4 735.3 207.4 735.3 211.4 735.2 215.5 735.2 219.5 735.0 223.5 734.8 227.5 734.4 231.5 733.7 235.6 732.6 239.6 731.0 243.6 728.8 247.6 725.6 251.6 721.5 255.7 716.1 259.7 709.3 263.7 700.9 267.7 690.9 271.7 679.0 275.8 665.3 279.8 649.7 283.8 632.2 287.8 612.9 291.8 591.8 295.9 569.1 299.9 545.0 303.9 519.7 307.9 493.2 311.9 466.0 316.0 438.3 320.0 410.2 324.0 382.2 328.0 354.5 332.0 327.5 336.1 301.4 340.1 276.4 344.1 253.0 348.1 231.3 352.1 211.6 356.2 194.1 360.2 178.8 364.2 166.0 368.2 155.7 372.2 147.8 376.3 142.4 380.3 139.2 384.3 138.0 388.3 138.1 392.3 139.2 396.4 141.2 400.4 144.1 404.4 147.9 408.4 152.4 412.4 157.8 416.5 163.8 420.5 170.5 424.5 177.9 428.5 185.7 432.5 194.0 436.6 202.7 440.6 211.8 444.6 221.2 448.6 230.8 452.6 240.6 456.7 250.6 460.7 260.6 464.7 270.8 468.7 281.0 472.7 291.2 476.8 301.4 480.8 311.5 484.8 321.6 488.8 331.6 492.8 341.5 496.9 351.3 500.9 360.9 504.9 370.5 508.9 379.8 512.9 389.1 517.0 398.1 521.0 407.0 525.0 415.8 529.0 424.3 533.0 432.7 537.1 440.9 541.1 449.0 545.1 456.8 549.1 464.5 553.1 472.0 557.2 479.4 561.2 486.5 565.2 493.5 569.2 500.3 573.2 506.9 577.3 513.4 581.3 519.7 585.3 525.9 589.3 531.9 593.3 537.7 597.4 543.4 601.4 548.9 605.4 554.3 609.4 559.5 613.4 564.6 617.5 569.6 621.5 574.4 625.5 579.1 629.5 583.7 633.5 588.1 637.6 592.4 641.6 596.6 645.6 600.7 649.6 604.7 653.6 608.5 657.7 612.3 661.7 615.9 665.7 619.4 669.7 622.9 673.7 626.2 677.8 629.4 681.8 632.6 685.8 635.6 689.8 638.6 693.8 641.5 697.9 644.3 701.9 647.0 705.9 649.6 709.9 652.2 713.9 654.7 718.0 657.1 722.0 659.4 726.0 661.7 730.0 663.9 734.0 666.0 738.1 668.1 742.1 670.1 746.1 672.1 750.1 674.0 754.1 675.8 758.2 677.6 762.2 679.4 766.2 681.0 770.2 682.7 774.2 684.3 778.3 685.8 782.3 687.3 786.3 688.7 790.3 690.0 794.3 691.2 798.4 692.3 802.4 693.1 806.4 693.6 810.4 693.5 814.4 692.7 818.5 690.8 822.5 687.5 826.5 682.2 830.5 674.6 834.5 664.3 838.6 651.0 842.6 634.6 846.6 615.6 850.6 594.5 854.6 572.4 858.7 550.7 862.7 531.0 866.7 514.9 870.7 503.9 874.7 499.1 878.8 500.9 882.8 509.3 886.8 523.6 890.8 542.5 894.8 564.5 898.9 588.0 902.9 611.4 906.9 633.4 910.9 653.0 914.9 669.8 919.0 683.5 923.0 694.2 927.0 702.1 931.0 707.5 935.0 710.9 939.1 712.7 943.1 713.8 947.1 714.6 951.1 715.2 955.1 715.8 959.2 716.4 963.2 716.9 967.2 717.3 971.2 717.8 975.2 718.2 979.3 718.6 983.3 719.0 987.3 719.4 991.3 719.8 995.3 720.2 999.4 720.5 1003.4 720.9 1007.4 721.2 1011.4 721.5 1015.4 721.9 1019.5 722.2 1023.5 722.5 1027.5 722.8 1031.5 723.1 1035.5 723.3 1039.6 723.6 1043.6 723.9 1047.6 724.1 1051.6 724.4 1055.6 724.6 1059.7 724.9 1063.7 725.1 1067.7 725.3 1071.7 725.6 1075.7 725.8 1079.8 726.0 1083.8 726.2 1087.8 726.4 1091.8 726.6 1095.8 726.8 1099.9 727.0 1103.9 727.1 1107.9 727.3 1111.9 727.5 1115.9 727.7 1120.0 727.8 1124.0 728.0 1128.0 728.1 1132.0 728.3 1136.0 728.4" fill="none" stroke="#ee22cc" stroke-width="2.9" stroke-linejoin="round"/>
<rect x="203.4" y="49.4" width="938" height="691.6" fill="none" stroke="#3a3a3a" stroke-width="3"/>
<path d="M203.4 741v14M337.4 741v14M471.4 741v14M605.4 741v14M739.4 741v14M873.4 741v14M1007.4 741v14M1141.4 741v14M270.4 741v7M404.4 741v7M538.4 741v7M672.4 741v7M806.4 741v7M940.4 741v7M1074.4 741v7" stroke="#3a3a3a" stroke-width="3" fill="none"/>
<g font-family="Liberation Sans, Arial, Helvetica, sans-serif" font-size="40.5" fill="#222" text-anchor="middle"><text x="203.4" y="796">400</text><text x="337.4" y="796">450</text><text x="471.4" y="796">500</text><text x="605.4" y="796">550</text><text x="739.4" y="796">600</text><text x="873.4" y="796">650</text><text x="1007.4" y="796">700</text><text x="1141.4" y="796">750</text></g>
<path d="M203.4 741h-15M203.4 602.7h-15M203.4 464.4h-15M203.4 326h-15M203.4 187.7h-15M203.4 49.4h-15M203.4 671.8h-8M203.4 533.5h-8M203.4 395.2h-8M203.4 256.9h-8M203.4 118.6h-8" stroke="#3a3a3a" stroke-width="3" fill="none"/>
<g font-family="Liberation Sans, Arial, Helvetica, sans-serif" font-size="40.5" fill="#222" text-anchor="end"><text x="178.4" y="755.4">0</text><text x="178.4" y="617.1">200</text><text x="178.4" y="478.7">400</text><text x="178.4" y="340.4">600</text><text x="178.4" y="202.1">800</text><text x="178.4" y="63.8">1000</text></g>
<text x="17" y="80.5" font-family="Liberation Sans, Arial, Helvetica, sans-serif" font-size="79" fill="#111" text-anchor="start" >a</text>
<text transform="translate(74 371) rotate(-90)" font-family="Liberation Sans, Arial, Helvetica, sans-serif" font-size="41" fill="#222" text-anchor="middle">Fluorescence intensity (a.u.)</text>
<text x="672" y="862" font-family="Liberation Sans, Arial, Helvetica, sans-serif" font-size="40.5" fill="#222" text-anchor="middle" >Wavelength (nm)</text>
<text x="638" y="159.5" font-family="Liberation Sans, Arial, Helvetica, sans-serif" font-size="40.5" fill="#222" text-anchor="middle" >0</text>
<path d="M636.3 164V300" stroke="#111" stroke-width="3"/>
<path d="M629.3 298L643.3 298L636.3 320Z" fill="#111"/>
<text x="658.5" y="250" font-family="Liberation Sans, Arial, Helvetica, sans-serif" font-size="40.5" fill="#222" text-anchor="start" >[TFL]</text>
<text x="536" y="366" font-family="Liberation Sans, Arial, Helvetica, sans-serif" font-size="40.5" fill="#222" text-anchor="start" >1.16 x10<tspan dy="-14.6" font-size="27.1">−3</tspan><tspan dy="14.6"> </tspan>M</text>
<path d="M1350.6 719.9 1354.2 728.0 1357.8 732.4 1361.3 734.9 1364.9 736.2 1368.5 736.9 1372.1 737.3 1375.6 737.4 1379.2 737.5 1382.8 737.6 1386.4 737.6 1389.9 737.5 1393.5 737.5 1397.1 737.5 1400.7 737.5 1404.2 737.4 1407.8 737.4 1411.4 737.4 1415.0 737.4 1418.5 737.4 1422.1 737.5 1425.7 737.5 1429.3 737.5 1432.8 737.5 1436.4 737.6 1440.0 737.6 1443.6 737.6 1447.1 737.6 1450.7 737.7 1454.3 737.7 1457.9 737.8 1461.4 737.8 1465.0 737.8 1468.6 737.8 1472.2 737.9 1475.8 737.9 1479.3 737.9 1482.9 737.9 1486.5 737.9 1490.1 737.9 1493.6 737.9 1497.2 737.9 1500.8 737.9 1504.4 737.9 1507.9 737.9 1511.5 737.9 1515.1 737.8 1518.7 737.8 1522.2 737.7 1525.8 737.7 1529.4 737.5 1533.0 737.4 1536.5 737.2 1540.1 736.9 1543.7 736.6 1547.3 736.1 1550.8 735.6 1554.4 734.9 1558.0 734.0 1561.6 732.9 1565.1 731.6 1568.7 730.1 1572.3 728.3 1575.9 726.2 1579.4 723.9 1583.0 721.1 1586.6 718.1 1590.2 714.8 1593.8 711.1 1597.3 707.1 1600.9 702.9 1604.5 698.4 1608.1 693.7 1611.6 688.9 1615.2 684.0 1618.8 679.0 1622.4 674.1 1625.9 669.3 1629.5 664.7 1633.1 660.2 1636.7 656.0 1640.2 652.1 1643.8 648.6 1647.4 645.4 1651.0 642.6 1654.5 640.2 1658.1 638.2 1661.7 636.6 1665.3 635.4 1668.8 634.5 1672.4 633.9 1676.0 633.6 1679.6 633.5 1683.1 633.5 1686.7 633.6 1690.3 634.0 1693.9 634.7 1697.5 635.5 1701.0 636.6 1704.6 637.8 1708.2 639.2 1711.8 640.8 1715.3 642.4 1718.9 644.2 1722.5 646.1 1726.1 648.1 1729.6 650.1 1733.2 652.2 1736.8 654.3 1740.4 656.4 1743.9 658.5 1747.5 660.6 1751.1 662.7 1754.7 664.8 1758.2 666.9 1761.8 669.0 1765.4 671.0 1769.0 673.0 1772.5 675.0 1776.1 676.9 1779.7 678.8 1783.3 680.6 1786.8 682.4 1790.4 684.2 1794.0 685.9 1797.6 687.5 1801.1 689.2 1804.7 690.8 1808.3 692.3 1811.9 693.8 1815.5 695.2 1819.0 696.7 1822.6 698.0 1826.2 699.4 1829.8 700.6 1833.3 701.9 1836.9 703.1 1840.5 704.3 1844.1 705.4 1847.6 706.5 1851.2 707.6 1854.8 708.6 1858.4 709.6 1861.9 710.6 1865.5 711.5 1869.1 712.4 1872.7 713.3 1876.2 714.1 1879.8 715.0 1883.4 715.8 1887.0 716.5 1890.5 717.3 1894.1 718.0 1897.7 718.7 1901.3 719.3 1904.8 720.0 1908.4 720.6 1912.0 721.2 1915.6 721.8 1919.1 722.4 1922.7 722.9 1926.3 723.4 1929.9 723.9 1933.5 724.4 1937.0 724.9 1940.6 725.4 1944.2 725.8 1947.8 726.2 1951.3 726.6 1954.9 727.0 1958.5 727.4 1962.1 727.8 1965.6 728.1 1969.2 728.5 1972.8 728.8 1976.4 729.1 1979.9 729.4 1983.5 729.7 1987.1 730.0 1990.7 730.3 1994.2 730.6 1997.8 730.8 2001.4 731.1 2005.0 731.3 2008.5 731.6 2012.1 731.8 2015.7 732.0 2019.3 732.2 2022.8 732.4 2026.4 732.6 2030.0 732.8 2033.6 733.0 2037.1 733.2 2040.7 733.3 2044.3 733.5 2047.9 733.6 2051.5 733.8 2055.0 733.9 2058.6 734.1 2062.2 734.2 2065.8 734.3 2069.3 734.4 2072.9 734.5 2076.5 734.5 2080.1 734.4 2083.6 734.2 2087.2 733.8 2090.8 733.0 2094.4 731.8 2097.9 730.1 2101.5 727.5 2105.1 724.1 2108.7 719.7 2112.2 714.3 2115.8 708.0 2119.4 701.1 2123.0 693.8 2126.5 686.8 2130.1 680.5 2133.7 675.6 2137.3 672.5 2140.8 671.5 2144.4 672.8 2148.0 676.2 2151.6 681.4 2155.1 687.9 2158.7 695.1 2162.3 702.5 2165.9 709.5 2169.5 715.9 2173.0 721.3 2176.6 725.7 2180.2 729.2 2183.8 731.8 2187.3 733.6 2190.9 734.9 2194.5 735.7 2198.1 736.3 2201.6 736.6 2205.2 736.8 2208.8 737.0 2212.4 737.1 2215.9 737.1 2219.5 737.2 2223.1 737.2 2226.7 737.2 2230.2 737.2 2233.8 737.3 2237.4 737.3 2241.0 737.3 2244.5 737.3 2248.1 737.4 2251.7 737.4 2255.3 737.4 2258.8 737.4 2262.4 737.4 2266.0 737.5 2269.6 737.5 2273.2 737.5 2276.7 737.5" fill="none" stroke="#f02080" stroke-width="2.7" stroke-linejoin="round"/>
<path d="M1350.6 719.2 1354.2 727.6 1357.8 732.2 1361.3 734.7 1364.9 736.1 1368.5 736.8 1372.1 737.2 1375.6 737.3 1379.2 737.4 1382.8 737.4 1386.4 737.4 1389.9 737.4 1393.5 737.3 1397.1 737.3 1400.7 737.3 1404.2 737.2 1407.8 737.2 1411.4 737.2 1415.0 737.2 1418.5 737.2 1422.1 737.3 1425.7 737.3 1429.3 737.3 1432.8 737.4 1436.4 737.4 1440.0 737.4 1443.6 737.5 1447.1 737.5 1450.7 737.6 1454.3 737.6 1457.9 737.7 1461.4 737.7 1465.0 737.8 1468.6 737.8 1472.2 737.8 1475.8 737.9 1479.3 737.9 1482.9 737.9 1486.5 737.9 1490.1 737.9 1493.6 737.9 1497.2 737.9 1500.8 737.9 1504.4 737.8 1507.9 737.8 1511.5 737.7 1515.1 737.6 1518.7 737.5 1522.2 737.4 1525.8 737.2 1529.4 736.9 1533.0 736.5 1536.5 736.0 1540.1 735.4 1543.7 734.7 1547.3 733.7 1550.8 732.6 1554.4 731.2 1558.0 729.5 1561.6 727.5 1565.1 725.2 1568.7 722.6 1572.3 719.6 1575.9 716.2 1579.4 712.4 1583.0 708.3 1586.6 703.8 1590.2 699.1 1593.8 694.0 1597.3 688.7 1600.9 683.2 1604.5 677.5 1608.1 671.9 1611.6 666.2 1615.2 660.6 1618.8 655.2 1622.4 650.0 1625.9 645.0 1629.5 640.4 1633.1 636.2 1636.7 632.4 1640.2 629.1 1643.8 626.2 1647.4 623.7 1651.0 621.8 1654.5 620.2 1658.1 619.1 1661.7 618.3 1665.3 617.8 1668.8 617.6 1672.4 617.6 1676.0 617.7 1679.6 618.0 1683.1 618.7 1686.7 619.6 1690.3 620.7 1693.9 622.1 1697.5 623.6 1701.0 625.4 1704.6 627.3 1708.2 629.3 1711.8 631.4 1715.3 633.7 1718.9 636.0 1722.5 638.3 1726.1 640.7 1729.6 643.2 1733.2 645.6 1736.8 648.1 1740.4 650.5 1743.9 652.9 1747.5 655.3 1751.1 657.7 1754.7 660.1 1758.2 662.4 1761.8 664.6 1765.4 666.9 1769.0 669.1 1772.5 671.2 1776.1 673.3 1779.7 675.3 1783.3 677.3 1786.8 679.3 1790.4 681.1 1794.0 683.0 1797.6 684.8 1801.1 686.5 1804.7 688.2 1808.3 689.8 1811.9 691.4 1815.5 693.0 1819.0 694.5 1822.6 695.9 1826.2 697.3 1829.8 698.7 1833.3 700.0 1836.9 701.3 1840.5 702.5 1844.1 703.8 1847.6 704.9 1851.2 706.0 1854.8 707.1 1858.4 708.2 1861.9 709.2 1865.5 710.2 1869.1 711.1 1872.7 712.1 1876.2 713.0 1879.8 713.8 1883.4 714.7 1887.0 715.5 1890.5 716.2 1894.1 717.0 1897.7 717.7 1901.3 718.4 1904.8 719.1 1908.4 719.8 1912.0 720.4 1915.6 721.0 1919.1 721.6 1922.7 722.2 1926.3 722.7 1929.9 723.2 1933.5 723.8 1937.0 724.3 1940.6 724.7 1944.2 725.2 1947.8 725.6 1951.3 726.1 1954.9 726.5 1958.5 726.9 1962.1 727.3 1965.6 727.7 1969.2 728.0 1972.8 728.4 1976.4 728.7 1979.9 729.0 1983.5 729.3 1987.1 729.6 1990.7 729.9 1994.2 730.2 1997.8 730.5 2001.4 730.7 2005.0 731.0 2008.5 731.2 2012.1 731.5 2015.7 731.7 2019.3 731.9 2022.8 732.1 2026.4 732.3 2030.0 732.5 2033.6 732.7 2037.1 732.9 2040.7 733.1 2044.3 733.3 2047.9 733.4 2051.5 733.6 2055.0 733.7 2058.6 733.9 2062.2 734.0 2065.8 734.1 2069.3 734.2 2072.9 734.3 2076.5 734.3 2080.1 734.2 2083.6 734.0 2087.2 733.5 2090.8 732.7 2094.4 731.4 2097.9 729.5 2101.5 726.7 2105.1 723.0 2108.7 718.3 2112.2 712.4 2115.8 705.6 2119.4 698.0 2123.0 690.2 2126.5 682.5 2130.1 675.7 2133.7 670.4 2137.3 667.0 2140.8 666.0 2144.4 667.4 2148.0 671.1 2151.6 676.7 2155.1 683.8 2158.7 691.6 2162.3 699.6 2165.9 707.2 2169.5 714.1 2173.0 720.0 2176.6 724.8 2180.2 728.5 2183.8 731.3 2187.3 733.3 2190.9 734.7 2194.5 735.6 2198.1 736.2 2201.6 736.5 2205.2 736.8 2208.8 736.9 2212.4 737.0 2215.9 737.1 2219.5 737.1 2223.1 737.2 2226.7 737.2 2230.2 737.2 2233.8 737.2 2237.4 737.3 2241.0 737.3 2244.5 737.3 2248.1 737.3 2251.7 737.4 2255.3 737.4 2258.8 737.4 2262.4 737.4 2266.0 737.4 2269.6 737.4 2273.2 737.5 2276.7 737.5" fill="none" stroke="#8010e0" stroke-width="2.7" stroke-linejoin="round"/>
<path d="M1350.6 718.5 1354.2 727.2 1357.8 732.0 1361.3 734.5 1364.9 735.9 1368.5 736.7 1372.1 737.0 1375.6 737.2 1379.2 737.3 1382.8 737.3 1386.4 737.2 1389.9 737.2 1393.5 737.1 1397.1 737.0 1400.7 737.0 1404.2 736.9 1407.8 736.9 1411.4 736.9 1415.0 736.9 1418.5 736.9 1422.1 737.0 1425.7 737.0 1429.3 737.1 1432.8 737.1 1436.4 737.2 1440.0 737.2 1443.6 737.3 1447.1 737.4 1450.7 737.4 1454.3 737.5 1457.9 737.6 1461.4 737.6 1465.0 737.7 1468.6 737.8 1472.2 737.8 1475.8 737.8 1479.3 737.9 1482.9 737.9 1486.5 737.9 1490.1 737.9 1493.6 737.9 1497.2 737.9 1500.8 737.8 1504.4 737.8 1507.9 737.7 1511.5 737.6 1515.1 737.5 1518.7 737.3 1522.2 737.1 1525.8 736.8 1529.4 736.4 1533.0 735.9 1536.5 735.3 1540.1 734.5 1543.7 733.4 1547.3 732.2 1550.8 730.7 1554.4 728.9 1558.0 726.7 1561.6 724.2 1565.1 721.3 1568.7 718.0 1572.3 714.3 1575.9 710.1 1579.4 705.5 1583.0 700.6 1586.6 695.2 1590.2 689.5 1593.8 683.5 1597.3 677.3 1600.9 670.9 1604.5 664.4 1608.1 657.9 1611.6 651.5 1615.2 645.2 1618.8 639.2 1622.4 633.4 1625.9 628.0 1629.5 623.1 1633.1 618.6 1636.7 614.6 1640.2 611.1 1643.8 608.2 1647.4 605.8 1651.0 603.8 1654.5 602.4 1658.1 601.4 1661.7 600.7 1665.3 600.4 1668.8 600.3 1672.4 600.3 1676.0 600.6 1679.6 601.3 1683.1 602.2 1686.7 603.4 1690.3 604.9 1693.9 606.6 1697.5 608.5 1701.0 610.7 1704.6 612.9 1708.2 615.3 1711.8 617.9 1715.3 620.5 1718.9 623.2 1722.5 625.9 1726.1 628.7 1729.6 631.5 1733.2 634.3 1736.8 637.0 1740.4 639.8 1743.9 642.6 1747.5 645.3 1751.1 648.0 1754.7 650.7 1758.2 653.3 1761.8 655.9 1765.4 658.4 1769.0 660.8 1772.5 663.2 1776.1 665.6 1779.7 667.9 1783.3 670.1 1786.8 672.3 1790.4 674.4 1794.0 676.5 1797.6 678.5 1801.1 680.4 1804.7 682.3 1808.3 684.1 1811.9 685.9 1815.5 687.7 1819.0 689.3 1822.6 691.0 1826.2 692.5 1829.8 694.1 1833.3 695.6 1836.9 697.0 1840.5 698.4 1844.1 699.7 1847.6 701.0 1851.2 702.3 1854.8 703.5 1858.4 704.7 1861.9 705.8 1865.5 706.9 1869.1 708.0 1872.7 709.0 1876.2 710.0 1879.8 711.0 1883.4 711.9 1887.0 712.8 1890.5 713.7 1894.1 714.5 1897.7 715.3 1901.3 716.1 1904.8 716.9 1908.4 717.6 1912.0 718.3 1915.6 719.0 1919.1 719.7 1922.7 720.3 1926.3 720.9 1929.9 721.5 1933.5 722.1 1937.0 722.6 1940.6 723.2 1944.2 723.7 1947.8 724.2 1951.3 724.7 1954.9 725.1 1958.5 725.6 1962.1 726.0 1965.6 726.4 1969.2 726.8 1972.8 727.2 1976.4 727.6 1979.9 728.0 1983.5 728.3 1987.1 728.7 1990.7 729.0 1994.2 729.3 1997.8 729.6 2001.4 729.9 2005.0 730.2 2008.5 730.4 2012.1 730.7 2015.7 731.0 2019.3 731.2 2022.8 731.4 2026.4 731.7 2030.0 731.9 2033.6 732.1 2037.1 732.3 2040.7 732.5 2044.3 732.7 2047.9 732.9 2051.5 733.1 2055.0 733.2 2058.6 733.4 2062.2 733.6 2065.8 733.7 2069.3 733.8 2072.9 733.9 2076.5 733.9 2080.1 733.8 2083.6 733.6 2087.2 733.2 2090.8 732.4 2094.4 731.2 2097.9 729.4 2101.5 726.8 2105.1 723.3 2108.7 718.7 2112.2 713.1 2115.8 706.6 2119.4 699.4 2123.0 691.8 2126.5 684.5 2130.1 678.0 2133.7 672.9 2137.3 669.7 2140.8 668.8 2144.4 670.1 2148.0 673.7 2151.6 679.1 2155.1 685.8 2158.7 693.3 2162.3 701.0 2165.9 708.3 2169.5 714.9 2173.0 720.5 2176.6 725.1 2180.2 728.7 2183.8 731.4 2187.3 733.3 2190.9 734.6 2194.5 735.5 2198.1 736.1 2201.6 736.4 2205.2 736.7 2208.8 736.8 2212.4 736.9 2215.9 737.0 2219.5 737.0 2223.1 737.1 2226.7 737.1 2230.2 737.1 2233.8 737.2 2237.4 737.2 2241.0 737.2 2244.5 737.2 2248.1 737.3 2251.7 737.3 2255.3 737.3 2258.8 737.3 2262.4 737.3 2266.0 737.4 2269.6 737.4 2273.2 737.4 2276.7 737.4" fill="none" stroke="#2020e0" stroke-width="2.7" stroke-linejoin="round"/>
<path d="M1350.6 717.9 1354.2 726.9 1357.8 731.7 1361.3 734.4 1364.9 735.8 1368.5 736.6 1372.1 736.9 1375.6 737.1 1379.2 737.1 1382.8 737.1 1386.4 737.0 1389.9 736.9 1393.5 736.9 1397.1 736.8 1400.7 736.7 1404.2 736.7 1407.8 736.6 1411.4 736.6 1415.0 736.6 1418.5 736.7 1422.1 736.7 1425.7 736.8 1429.3 736.8 1432.8 736.9 1436.4 737.0 1440.0 737.0 1443.6 737.1 1447.1 737.2 1450.7 737.3 1454.3 737.4 1457.9 737.5 1461.4 737.6 1465.0 737.6 1468.6 737.7 1472.2 737.8 1475.8 737.8 1479.3 737.8 1482.9 737.9 1486.5 737.9 1490.1 737.9 1493.6 737.9 1497.2 737.8 1500.8 737.8 1504.4 737.7 1507.9 737.6 1511.5 737.5 1515.1 737.3 1518.7 737.1 1522.2 736.8 1525.8 736.4 1529.4 735.9 1533.0 735.2 1536.5 734.4 1540.1 733.4 1543.7 732.1 1547.3 730.5 1550.8 728.6 1554.4 726.4 1558.0 723.7 1561.6 720.7 1565.1 717.2 1568.7 713.2 1572.3 708.8 1575.9 703.9 1579.4 698.6 1583.0 692.8 1586.6 686.6 1590.2 680.1 1593.8 673.3 1597.3 666.4 1600.9 659.3 1604.5 652.1 1608.1 645.0 1611.6 638.1 1615.2 631.3 1618.8 624.9 1622.4 618.9 1625.9 613.3 1629.5 608.1 1633.1 603.6 1636.7 599.6 1640.2 596.1 1643.8 593.3 1647.4 591.0 1651.0 589.2 1654.5 588.0 1658.1 587.1 1661.7 586.6 1665.3 586.4 1668.8 586.4 1672.4 586.7 1676.0 587.3 1679.6 588.2 1683.1 589.4 1686.7 591.0 1690.3 592.8 1693.9 594.8 1697.5 597.1 1701.0 599.5 1704.6 602.1 1708.2 604.9 1711.8 607.7 1715.3 610.7 1718.9 613.7 1722.5 616.7 1726.1 619.8 1729.6 622.8 1733.2 625.9 1736.8 629.0 1740.4 632.0 1743.9 635.1 1747.5 638.0 1751.1 641.0 1754.7 643.9 1758.2 646.7 1761.8 649.5 1765.4 652.2 1769.0 654.9 1772.5 657.5 1776.1 660.0 1779.7 662.5 1783.3 664.9 1786.8 667.3 1790.4 669.5 1794.0 671.8 1797.6 673.9 1801.1 676.0 1804.7 678.1 1808.3 680.1 1811.9 682.0 1815.5 683.8 1819.0 685.7 1822.6 687.4 1826.2 689.1 1829.8 690.7 1833.3 692.3 1836.9 693.9 1840.5 695.4 1844.1 696.8 1847.6 698.2 1851.2 699.6 1854.8 700.9 1858.4 702.2 1861.9 703.4 1865.5 704.6 1869.1 705.7 1872.7 706.8 1876.2 707.9 1879.8 708.9 1883.4 709.9 1887.0 710.9 1890.5 711.8 1894.1 712.7 1897.7 713.6 1901.3 714.5 1904.8 715.3 1908.4 716.1 1912.0 716.8 1915.6 717.6 1919.1 718.3 1922.7 719.0 1926.3 719.6 1929.9 720.3 1933.5 720.9 1937.0 721.5 1940.6 722.0 1944.2 722.6 1947.8 723.1 1951.3 723.7 1954.9 724.2 1958.5 724.6 1962.1 725.1 1965.6 725.5 1969.2 726.0 1972.8 726.4 1976.4 726.8 1979.9 727.2 1983.5 727.6 1987.1 727.9 1990.7 728.3 1994.2 728.6 1997.8 729.0 2001.4 729.3 2005.0 729.6 2008.5 729.9 2012.1 730.2 2015.7 730.4 2019.3 730.7 2022.8 730.9 2026.4 731.2 2030.0 731.4 2033.6 731.7 2037.1 731.9 2040.7 732.1 2044.3 732.3 2047.9 732.5 2051.5 732.7 2055.0 732.9 2058.6 733.1 2062.2 733.2 2065.8 733.4 2069.3 733.5 2072.9 733.6 2076.5 733.7 2080.1 733.8 2083.6 733.7 2087.2 733.6 2090.8 733.3 2094.4 732.7 2097.9 731.9 2101.5 730.6 2105.1 728.9 2108.7 726.7 2112.2 723.9 2115.8 720.7 2119.4 717.1 2123.0 713.4 2126.5 709.7 2130.1 706.5 2133.7 704.0 2137.3 702.4 2140.8 702.0 2144.4 702.7 2148.0 704.5 2151.6 707.3 2155.1 710.7 2158.7 714.5 2162.3 718.4 2165.9 722.1 2169.5 725.5 2173.0 728.3 2176.6 730.7 2180.2 732.5 2183.8 733.9 2187.3 734.9 2190.9 735.6 2194.5 736.1 2198.1 736.4 2201.6 736.6 2205.2 736.7 2208.8 736.8 2212.4 736.9 2215.9 736.9 2219.5 737.0 2223.1 737.0 2226.7 737.0 2230.2 737.1 2233.8 737.1 2237.4 737.1 2241.0 737.2 2244.5 737.2 2248.1 737.2 2251.7 737.2 2255.3 737.3 2258.8 737.3 2262.4 737.3 2266.0 737.3 2269.6 737.3 2273.2 737.4 2276.7 737.4" fill="none" stroke="#3080e0" stroke-width="2.7" stroke-linejoin="round"/>
<path d="M1350.6 716.5 1354.2 726.0 1357.8 731.2 1361.3 734.0 1364.9 735.5 1368.5 736.3 1372.1 736.6 1375.6 736.7 1379.2 736.7 1382.8 736.6 1386.4 736.5 1389.9 736.3 1393.5 736.2 1397.1 736.0 1400.7 735.9 1404.2 735.8 1407.8 735.8 1411.4 735.8 1415.0 735.8 1418.5 735.8 1422.1 735.9 1425.7 736.0 1429.3 736.1 1432.8 736.2 1436.4 736.3 1440.0 736.4 1443.6 736.6 1447.1 736.7 1450.7 736.9 1454.3 737.0 1457.9 737.2 1461.4 737.3 1465.0 737.5 1468.6 737.6 1472.2 737.7 1475.8 737.7 1479.3 737.8 1482.9 737.8 1486.5 737.8 1490.1 737.8 1493.6 737.7 1497.2 737.7 1500.8 737.6 1504.4 737.4 1507.9 737.2 1511.5 736.9 1515.1 736.5 1518.7 736.0 1522.2 735.4 1525.8 734.6 1529.4 733.5 1533.0 732.3 1536.5 730.7 1540.1 728.7 1543.7 726.4 1547.3 723.6 1550.8 720.4 1554.4 716.6 1558.0 712.4 1561.6 707.5 1565.1 702.1 1568.7 696.1 1572.3 689.6 1575.9 682.5 1579.4 675.0 1583.0 667.1 1586.6 658.8 1590.2 650.3 1593.8 641.7 1597.3 633.0 1600.9 624.3 1604.5 615.9 1608.1 607.7 1611.6 599.9 1615.2 592.6 1618.8 585.8 1622.4 579.6 1625.9 574.0 1629.5 569.2 1633.1 565.0 1636.7 561.5 1640.2 558.7 1643.8 556.6 1647.4 555.1 1651.0 554.0 1654.5 553.5 1658.1 553.2 1661.7 553.2 1665.3 553.5 1668.8 554.3 1672.4 555.4 1676.0 556.9 1679.6 558.8 1683.1 561.0 1686.7 563.5 1690.3 566.3 1693.9 569.3 1697.5 572.5 1701.0 575.8 1704.6 579.3 1708.2 582.9 1711.8 586.5 1715.3 590.2 1718.9 594.0 1722.5 597.7 1726.1 601.5 1729.6 605.2 1733.2 608.9 1736.8 612.6 1740.4 616.2 1743.9 619.8 1747.5 623.3 1751.1 626.8 1754.7 630.2 1758.2 633.5 1761.8 636.7 1765.4 639.9 1769.0 643.0 1772.5 646.0 1776.1 648.9 1779.7 651.8 1783.3 654.6 1786.8 657.3 1790.4 659.9 1794.0 662.5 1797.6 665.0 1801.1 667.4 1804.7 669.7 1808.3 672.0 1811.9 674.2 1815.5 676.3 1819.0 678.4 1822.6 680.4 1826.2 682.3 1829.8 684.2 1833.3 686.0 1836.9 687.8 1840.5 689.5 1844.1 691.1 1847.6 692.7 1851.2 694.3 1854.8 695.8 1858.4 697.2 1861.9 698.6 1865.5 700.0 1869.1 701.3 1872.7 702.5 1876.2 703.7 1879.8 704.9 1883.4 706.1 1887.0 707.2 1890.5 708.2 1894.1 709.2 1897.7 710.2 1901.3 711.2 1904.8 712.1 1908.4 713.0 1912.0 713.9 1915.6 714.7 1919.1 715.5 1922.7 716.3 1926.3 717.1 1929.9 717.8 1933.5 718.5 1937.0 719.2 1940.6 719.8 1944.2 720.5 1947.8 721.1 1951.3 721.7 1954.9 722.2 1958.5 722.8 1962.1 723.3 1965.6 723.8 1969.2 724.3 1972.8 724.8 1976.4 725.2 1979.9 725.7 1983.5 726.1 1987.1 726.5 1990.7 726.9 1994.2 727.3 1997.8 727.7 2001.4 728.1 2005.0 728.4 2008.5 728.7 2012.1 729.1 2015.7 729.4 2019.3 729.7 2022.8 730.0 2026.4 730.2 2030.0 730.5 2033.6 730.8 2037.1 731.0 2040.7 731.3 2044.3 731.5 2047.9 731.7 2051.5 731.9 2055.0 732.2 2058.6 732.4 2062.2 732.5 2065.8 732.7 2069.3 732.9 2072.9 733.0 2076.5 733.2 2080.1 733.2 2083.6 733.2 2087.2 733.1 2090.8 732.8 2094.4 732.3 2097.9 731.5 2101.5 730.4 2105.1 728.8 2108.7 726.7 2112.2 724.1 2115.8 721.0 2119.4 717.6 2123.0 714.1 2126.5 710.7 2130.1 707.6 2133.7 705.2 2137.3 703.8 2140.8 703.3 2144.4 704.0 2148.0 705.8 2151.6 708.4 2155.1 711.7 2158.7 715.3 2162.3 719.0 2165.9 722.6 2169.5 725.8 2173.0 728.5 2176.6 730.8 2180.2 732.5 2183.8 733.8 2187.3 734.8 2190.9 735.4 2194.5 735.9 2198.1 736.2 2201.6 736.4 2205.2 736.5 2208.8 736.6 2212.4 736.7 2215.9 736.8 2219.5 736.8 2223.1 736.9 2226.7 736.9 2230.2 736.9 2233.8 737.0 2237.4 737.0 2241.0 737.0 2244.5 737.1 2248.1 737.1 2251.7 737.1 2255.3 737.2 2258.8 737.2 2262.4 737.2 2266.0 737.2 2269.6 737.3 2273.2 737.3 2276.7 737.3" fill="none" stroke="#10a090" stroke-width="2.7" stroke-linejoin="round"/>
<path d="M1350.6 714.6 1354.2 724.9 1357.8 730.5 1361.3 733.4 1364.9 735.0 1368.5 735.7 1372.1 736.0 1375.6 736.0 1379.2 735.8 1382.8 735.6 1386.4 735.3 1389.9 735.1 1393.5 734.8 1397.1 734.5 1400.7 734.3 1404.2 734.2 1407.8 734.1 1411.4 734.1 1415.0 734.1 1418.5 734.2 1422.1 734.3 1425.7 734.5 1429.3 734.7 1432.8 734.9 1436.4 735.1 1440.0 735.3 1443.6 735.5 1447.1 735.8 1450.7 736.0 1454.3 736.3 1457.9 736.6 1461.4 736.9 1465.0 737.1 1468.6 737.3 1472.2 737.5 1475.8 737.6 1479.3 737.6 1482.9 737.6 1486.5 737.6 1490.1 737.6 1493.6 737.4 1497.2 737.2 1500.8 737.0 1504.4 736.6 1507.9 736.1 1511.5 735.5 1515.1 734.7 1518.7 733.6 1522.2 732.3 1525.8 730.7 1529.4 728.6 1533.0 726.2 1536.5 723.2 1540.1 719.8 1543.7 715.7 1547.3 710.9 1550.8 705.6 1554.4 699.5 1558.0 692.7 1561.6 685.2 1565.1 677.0 1568.7 668.2 1572.3 658.8 1575.9 648.9 1579.4 638.6 1583.0 628.0 1586.6 617.3 1590.2 606.5 1593.8 595.7 1597.3 585.2 1600.9 575.1 1604.5 565.4 1608.1 556.3 1611.6 547.9 1615.2 540.2 1618.8 533.3 1622.4 527.3 1625.9 522.1 1629.5 517.8 1633.1 514.4 1636.7 511.8 1640.2 509.8 1643.8 508.6 1647.4 507.9 1651.0 507.6 1654.5 507.6 1658.1 508.0 1661.7 508.9 1665.3 510.3 1668.8 512.2 1672.4 514.6 1676.0 517.3 1679.6 520.5 1683.1 524.0 1686.7 527.7 1690.3 531.7 1693.9 535.9 1697.5 540.2 1701.0 544.7 1704.6 549.3 1708.2 553.9 1711.8 558.6 1715.3 563.3 1718.9 567.9 1722.5 572.6 1726.1 577.2 1729.6 581.8 1733.2 586.3 1736.8 590.8 1740.4 595.1 1743.9 599.4 1747.5 603.7 1751.1 607.8 1754.7 611.8 1758.2 615.8 1761.8 619.6 1765.4 623.4 1769.0 627.0 1772.5 630.6 1776.1 634.0 1779.7 637.4 1783.3 640.7 1786.8 643.9 1790.4 646.9 1794.0 649.9 1797.6 652.8 1801.1 655.7 1804.7 658.4 1808.3 661.1 1811.9 663.6 1815.5 666.1 1819.0 668.5 1822.6 670.9 1826.2 673.1 1829.8 675.3 1833.3 677.4 1836.9 679.5 1840.5 681.5 1844.1 683.4 1847.6 685.2 1851.2 687.0 1854.8 688.8 1858.4 690.5 1861.9 692.1 1865.5 693.7 1869.1 695.2 1872.7 696.6 1876.2 698.1 1879.8 699.4 1883.4 700.8 1887.0 702.0 1890.5 703.3 1894.1 704.5 1897.7 705.6 1901.3 706.8 1904.8 707.8 1908.4 708.9 1912.0 709.9 1915.6 710.9 1919.1 711.8 1922.7 712.7 1926.3 713.6 1929.9 714.4 1933.5 715.2 1937.0 716.0 1940.6 716.8 1944.2 717.5 1947.8 718.2 1951.3 718.9 1954.9 719.6 1958.5 720.2 1962.1 720.8 1965.6 721.4 1969.2 722.0 1972.8 722.6 1976.4 723.1 1979.9 723.6 1983.5 724.1 1987.1 724.6 1990.7 725.1 1994.2 725.5 1997.8 726.0 2001.4 726.4 2005.0 726.8 2008.5 727.2 2012.1 727.5 2015.7 727.9 2019.3 728.3 2022.8 728.6 2026.4 728.9 2030.0 729.2 2033.6 729.5 2037.1 729.8 2040.7 730.1 2044.3 730.4 2047.9 730.7 2051.5 730.9 2055.0 731.2 2058.6 731.4 2062.2 731.6 2065.8 731.8 2069.3 732.0 2072.9 732.2 2076.5 732.4 2080.1 732.5 2083.6 732.5 2087.2 732.4 2090.8 732.1 2094.4 731.7 2097.9 730.9 2101.5 729.8 2105.1 728.2 2108.7 726.2 2112.2 723.6 2115.8 720.6 2119.4 717.3 2123.0 713.9 2126.5 710.5 2130.1 707.5 2133.7 705.2 2137.3 703.7 2140.8 703.3 2144.4 704.0 2148.0 705.8 2151.6 708.4 2155.1 711.6 2158.7 715.2 2162.3 718.9 2165.9 722.4 2169.5 725.6 2173.0 728.3 2176.6 730.5 2180.2 732.3 2183.8 733.6 2187.3 734.5 2190.9 735.2 2194.5 735.7 2198.1 736.0 2201.6 736.2 2205.2 736.3 2208.8 736.4 2212.4 736.5 2215.9 736.6 2219.5 736.6 2223.1 736.7 2226.7 736.7 2230.2 736.8 2233.8 736.8 2237.4 736.8 2241.0 736.9 2244.5 736.9 2248.1 736.9 2251.7 737.0 2255.3 737.0 2258.8 737.0 2262.4 737.1 2266.0 737.1 2269.6 737.1 2273.2 737.2 2276.7 737.2" fill="none" stroke="#22e5e5" stroke-width="2.7" stroke-linejoin="round"/>
<path d="M1350.6 713.2 1354.2 724.0 1357.8 729.9 1361.3 733.0 1364.9 734.5 1368.5 735.2 1372.1 735.4 1375.6 735.3 1379.2 735.1 1382.8 734.7 1386.4 734.4 1389.9 734.0 1393.5 733.6 1397.1 733.2 1400.7 732.9 1404.2 732.7 1407.8 732.6 1411.4 732.6 1415.0 732.6 1418.5 732.8 1422.1 732.9 1425.7 733.2 1429.3 733.4 1432.8 733.7 1436.4 734.0 1440.0 734.3 1443.6 734.6 1447.1 734.9 1450.7 735.3 1454.3 735.7 1457.9 736.0 1461.4 736.4 1465.0 736.7 1468.6 737.0 1472.2 737.2 1475.8 737.3 1479.3 737.4 1482.9 737.4 1486.5 737.3 1490.1 737.1 1493.6 736.8 1497.2 736.4 1500.8 735.8 1504.4 735.1 1507.9 734.2 1511.5 732.9 1515.1 731.4 1518.7 729.5 1522.2 727.2 1525.8 724.4 1529.4 721.0 1533.0 717.0 1536.5 712.4 1540.1 707.0 1543.7 700.8 1547.3 693.9 1550.8 686.1 1554.4 677.6 1558.0 668.3 1561.6 658.2 1565.1 647.6 1568.7 636.4 1572.3 624.7 1575.9 612.7 1579.4 600.5 1583.0 588.2 1586.6 576.1 1590.2 564.2 1593.8 552.7 1597.3 541.8 1600.9 531.5 1604.5 521.9 1608.1 513.3 1611.6 505.5 1615.2 498.7 1618.8 492.9 1622.4 488.0 1625.9 484.1 1629.5 481.2 1633.1 479.0 1636.7 477.6 1640.2 476.8 1643.8 476.5 1647.4 476.4 1651.0 476.9 1654.5 477.9 1658.1 479.6 1661.7 481.7 1665.3 484.4 1668.8 487.6 1672.4 491.2 1676.0 495.1 1679.6 499.4 1683.1 503.9 1686.7 508.7 1690.3 513.7 1693.9 518.7 1697.5 523.9 1701.0 529.2 1704.6 534.5 1708.2 539.8 1711.8 545.1 1715.3 550.4 1718.9 555.6 1722.5 560.8 1726.1 566.0 1729.6 571.0 1733.2 576.0 1736.8 580.8 1740.4 585.6 1743.9 590.3 1747.5 594.9 1751.1 599.3 1754.7 603.7 1758.2 607.9 1761.8 612.1 1765.4 616.1 1769.0 620.0 1772.5 623.8 1776.1 627.6 1779.7 631.2 1783.3 634.7 1786.8 638.1 1790.4 641.3 1794.0 644.5 1797.6 647.6 1801.1 650.6 1804.7 653.6 1808.3 656.4 1811.9 659.1 1815.5 661.8 1819.0 664.3 1822.6 666.8 1826.2 669.2 1829.8 671.5 1833.3 673.8 1836.9 676.0 1840.5 678.1 1844.1 680.1 1847.6 682.1 1851.2 684.0 1854.8 685.8 1858.4 687.6 1861.9 689.3 1865.5 691.0 1869.1 692.6 1872.7 694.2 1876.2 695.7 1879.8 697.1 1883.4 698.5 1887.0 699.9 1890.5 701.2 1894.1 702.5 1897.7 703.7 1901.3 704.9 1904.8 706.0 1908.4 707.1 1912.0 708.2 1915.6 709.2 1919.1 710.2 1922.7 711.2 1926.3 712.1 1929.9 713.0 1933.5 713.8 1937.0 714.7 1940.6 715.5 1944.2 716.3 1947.8 717.0 1951.3 717.8 1954.9 718.5 1958.5 719.1 1962.1 719.8 1965.6 720.4 1969.2 721.0 1972.8 721.6 1976.4 722.2 1979.9 722.7 1983.5 723.3 1987.1 723.8 1990.7 724.3 1994.2 724.7 1997.8 725.2 2001.4 725.6 2005.0 726.1 2008.5 726.5 2012.1 726.9 2015.7 727.3 2019.3 727.6 2022.8 728.0 2026.4 728.4 2030.0 728.7 2033.6 729.0 2037.1 729.3 2040.7 729.6 2044.3 729.9 2047.9 730.2 2051.5 730.5 2055.0 730.7 2058.6 731.0 2062.2 731.2 2065.8 731.4 2069.3 731.7 2072.9 731.8 2076.5 732.0 2080.1 732.1 2083.6 732.1 2087.2 732.0 2090.8 731.8 2094.4 731.3 2097.9 730.5 2101.5 729.4 2105.1 727.8 2108.7 725.6 2112.2 723.0 2115.8 719.9 2119.4 716.4 2123.0 712.9 2126.5 709.4 2130.1 706.3 2133.7 703.9 2137.3 702.4 2140.8 702.0 2144.4 702.7 2148.0 704.5 2151.6 707.2 2155.1 710.6 2158.7 714.3 2162.3 718.1 2165.9 721.8 2169.5 725.1 2173.0 727.9 2176.6 730.2 2180.2 732.0 2183.8 733.4 2187.3 734.3 2190.9 735.0 2194.5 735.5 2198.1 735.8 2201.6 736.1 2205.2 736.2 2208.8 736.3 2212.4 736.4 2215.9 736.5 2219.5 736.5 2223.1 736.6 2226.7 736.6 2230.2 736.7 2233.8 736.7 2237.4 736.8 2241.0 736.8 2244.5 736.8 2248.1 736.9 2251.7 736.9 2255.3 737.0 2258.8 737.0 2262.4 737.0 2266.0 737.1 2269.6 737.1 2273.2 737.1 2276.7 737.1" fill="none" stroke="#10c080" stroke-width="2.7" stroke-linejoin="round"/>
<path d="M1350.6 712.0 1354.2 723.2 1357.8 729.3 1361.3 732.5 1364.9 734.0 1368.5 734.7 1372.1 734.8 1375.6 734.6 1379.2 734.3 1382.8 733.8 1386.4 733.3 1389.9 732.7 1393.5 732.2 1397.1 731.8 1400.7 731.4 1404.2 731.1 1407.8 731.0 1411.4 730.9 1415.0 731.0 1418.5 731.2 1422.1 731.4 1425.7 731.7 1429.3 732.0 1432.8 732.4 1436.4 732.7 1440.0 733.1 1443.6 733.5 1447.1 734.0 1450.7 734.4 1454.3 734.9 1457.9 735.4 1461.4 735.9 1465.0 736.3 1468.6 736.6 1472.2 736.8 1475.8 736.8 1479.3 736.8 1482.9 736.6 1486.5 736.2 1490.1 735.7 1493.6 735.0 1497.2 734.0 1500.8 732.8 1504.4 731.2 1507.9 729.2 1511.5 726.8 1515.1 723.8 1518.7 720.3 1522.2 716.0 1525.8 711.1 1529.4 705.3 1533.0 698.8 1536.5 691.3 1540.1 683.0 1543.7 673.8 1547.3 663.7 1550.8 652.9 1554.4 641.3 1558.0 629.0 1561.6 616.2 1565.1 603.0 1568.7 589.6 1572.3 576.0 1575.9 562.6 1579.4 549.3 1583.0 536.4 1586.6 524.1 1590.2 512.5 1593.8 501.7 1597.3 491.8 1600.9 482.9 1604.5 475.0 1608.1 468.2 1611.6 462.5 1615.2 457.9 1618.8 454.3 1622.4 451.6 1625.9 449.8 1629.5 448.7 1633.1 448.2 1636.7 448.1 1640.2 448.3 1643.8 449.3 1647.4 450.9 1651.0 453.1 1654.5 455.9 1658.1 459.3 1661.7 463.1 1665.3 467.4 1668.8 472.0 1672.4 477.0 1676.0 482.2 1679.6 487.6 1683.1 493.2 1686.7 498.9 1690.3 504.8 1693.9 510.6 1697.5 516.5 1701.0 522.4 1704.6 528.3 1708.2 534.1 1711.8 539.9 1715.3 545.6 1718.9 551.2 1722.5 556.7 1726.1 562.1 1729.6 567.5 1733.2 572.7 1736.8 577.8 1740.4 582.8 1743.9 587.6 1747.5 592.4 1751.1 597.0 1754.7 601.5 1758.2 605.9 1761.8 610.1 1765.4 614.3 1769.0 618.3 1772.5 622.2 1776.1 626.0 1779.7 629.7 1783.3 633.2 1786.8 636.7 1790.4 640.1 1794.0 643.3 1797.6 646.5 1801.1 649.5 1804.7 652.5 1808.3 655.4 1811.9 658.1 1815.5 660.8 1819.0 663.4 1822.6 665.9 1826.2 668.4 1829.8 670.7 1833.3 673.0 1836.9 675.2 1840.5 677.4 1844.1 679.4 1847.6 681.4 1851.2 683.3 1854.8 685.2 1858.4 687.0 1861.9 688.8 1865.5 690.4 1869.1 692.1 1872.7 693.6 1876.2 695.2 1879.8 696.6 1883.4 698.1 1887.0 699.4 1890.5 700.8 1894.1 702.0 1897.7 703.3 1901.3 704.5 1904.8 705.6 1908.4 706.7 1912.0 707.8 1915.6 708.9 1919.1 709.9 1922.7 710.8 1926.3 711.8 1929.9 712.7 1933.5 713.6 1937.0 714.4 1940.6 715.2 1944.2 716.0 1947.8 716.8 1951.3 717.5 1954.9 718.2 1958.5 718.9 1962.1 719.6 1965.6 720.2 1969.2 720.8 1972.8 721.4 1976.4 722.0 1979.9 722.5 1983.5 723.1 1987.1 723.6 1990.7 724.1 1994.2 724.6 1997.8 725.0 2001.4 725.5 2005.0 725.9 2008.5 726.3 2012.1 726.7 2015.7 727.1 2019.3 727.5 2022.8 727.9 2026.4 728.2 2030.0 728.6 2033.6 728.9 2037.1 729.2 2040.7 729.5 2044.3 729.8 2047.9 730.1 2051.5 730.4 2055.0 730.6 2058.6 730.9 2062.2 731.1 2065.8 731.3 2069.3 731.6 2072.9 731.7 2076.5 731.9 2080.1 732.0 2083.6 732.0 2087.2 731.9 2090.8 731.6 2094.4 731.1 2097.9 730.2 2101.5 728.9 2105.1 727.1 2108.7 724.7 2112.2 721.8 2115.8 718.4 2119.4 714.6 2123.0 710.6 2126.5 706.7 2130.1 703.3 2133.7 700.6 2137.3 699.0 2140.8 698.5 2144.4 699.3 2148.0 701.3 2151.6 704.3 2155.1 708.0 2158.7 712.1 2162.3 716.3 2165.9 720.3 2169.5 723.9 2173.0 727.0 2176.6 729.6 2180.2 731.6 2183.8 733.1 2187.3 734.1 2190.9 734.9 2194.5 735.4 2198.1 735.8 2201.6 736.0 2205.2 736.2 2208.8 736.3 2212.4 736.4 2215.9 736.4 2219.5 736.5 2223.1 736.6 2226.7 736.6 2230.2 736.7 2233.8 736.7 2237.4 736.7 2241.0 736.8 2244.5 736.8 2248.1 736.9 2251.7 736.9 2255.3 736.9 2258.8 737.0 2262.4 737.0 2266.0 737.0 2269.6 737.1 2273.2 737.1 2276.7 737.1" fill="none" stroke="#10e010" stroke-width="2.7" stroke-linejoin="round"/>
<path d="M1350.6 709.5 1354.2 721.6 1357.8 728.1 1361.3 731.4 1364.9 733.0 1368.5 733.5 1372.1 733.4 1375.6 733.0 1379.2 732.3 1382.8 731.5 1386.4 730.7 1389.9 729.8 1393.5 729.0 1397.1 728.3 1400.7 727.7 1404.2 727.3 1407.8 727.1 1411.4 727.0 1415.0 727.1 1418.5 727.3 1422.1 727.7 1425.7 728.2 1429.3 728.7 1432.8 729.2 1436.4 729.8 1440.0 730.4 1443.6 731.0 1447.1 731.7 1450.7 732.4 1454.3 733.2 1457.9 733.9 1461.4 734.6 1465.0 735.2 1468.6 735.6 1472.2 735.8 1475.8 735.8 1479.3 735.6 1482.9 735.2 1486.5 734.5 1490.1 733.4 1493.6 732.1 1497.2 730.3 1500.8 728.1 1504.4 725.3 1507.9 722.0 1511.5 717.9 1515.1 713.1 1518.7 707.4 1522.2 700.8 1525.8 693.3 1529.4 684.7 1533.0 675.1 1536.5 664.5 1540.1 652.8 1543.7 640.1 1547.3 626.6 1550.8 612.3 1554.4 597.3 1558.0 581.8 1561.6 565.9 1565.1 549.9 1568.7 533.8 1572.3 518.0 1575.9 502.7 1579.4 487.9 1583.0 473.8 1586.6 460.7 1590.2 448.7 1593.8 437.8 1597.3 428.1 1600.9 419.7 1604.5 412.5 1608.1 406.7 1611.6 402.0 1615.2 398.5 1618.8 396.0 1622.4 394.5 1625.9 393.7 1629.5 393.4 1633.1 393.5 1636.7 394.4 1640.2 396.1 1643.8 398.5 1647.4 401.6 1651.0 405.5 1654.5 409.9 1658.1 414.8 1661.7 420.2 1665.3 426.0 1668.8 432.1 1672.4 438.5 1676.0 445.1 1679.6 451.9 1683.1 458.8 1686.7 465.8 1690.3 472.8 1693.9 479.8 1697.5 486.8 1701.0 493.7 1704.6 500.6 1708.2 507.4 1711.8 514.1 1715.3 520.7 1718.9 527.1 1722.5 533.5 1726.1 539.7 1729.6 545.8 1733.2 551.7 1736.8 557.5 1740.4 563.2 1743.9 568.7 1747.5 574.1 1751.1 579.3 1754.7 584.4 1758.2 589.4 1761.8 594.2 1765.4 598.9 1769.0 603.4 1772.5 607.8 1776.1 612.1 1779.7 616.2 1783.3 620.3 1786.8 624.2 1790.4 627.9 1794.0 631.6 1797.6 635.1 1801.1 638.6 1804.7 641.9 1808.3 645.1 1811.9 648.2 1815.5 651.3 1819.0 654.2 1822.6 657.0 1826.2 659.7 1829.8 662.4 1833.3 664.9 1836.9 667.4 1840.5 669.8 1844.1 672.1 1847.6 674.4 1851.2 676.5 1854.8 678.6 1858.4 680.6 1861.9 682.6 1865.5 684.5 1869.1 686.3 1872.7 688.1 1876.2 689.8 1879.8 691.4 1883.4 693.0 1887.0 694.6 1890.5 696.1 1894.1 697.5 1897.7 698.9 1901.3 700.2 1904.8 701.5 1908.4 702.8 1912.0 704.0 1915.6 705.2 1919.1 706.3 1922.7 707.4 1926.3 708.4 1929.9 709.4 1933.5 710.4 1937.0 711.4 1940.6 712.3 1944.2 713.2 1947.8 714.0 1951.3 714.9 1954.9 715.7 1958.5 716.4 1962.1 717.2 1965.6 717.9 1969.2 718.6 1972.8 719.3 1976.4 719.9 1979.9 720.5 1983.5 721.1 1987.1 721.7 1990.7 722.3 1994.2 722.8 1997.8 723.3 2001.4 723.8 2005.0 724.3 2008.5 724.8 2012.1 725.3 2015.7 725.7 2019.3 726.1 2022.8 726.5 2026.4 726.9 2030.0 727.3 2033.6 727.7 2037.1 728.0 2040.7 728.4 2044.3 728.7 2047.9 729.0 2051.5 729.3 2055.0 729.6 2058.6 729.9 2062.2 730.2 2065.8 730.5 2069.3 730.7 2072.9 730.9 2076.5 731.1 2080.1 731.2 2083.6 731.3 2087.2 731.2 2090.8 731.0 2094.4 730.5 2097.9 729.7 2101.5 728.5 2105.1 726.8 2108.7 724.6 2112.2 721.8 2115.8 718.6 2119.4 715.0 2123.0 711.2 2126.5 707.6 2130.1 704.4 2133.7 701.8 2137.3 700.3 2140.8 699.9 2144.4 700.7 2148.0 702.6 2151.6 705.4 2155.1 709.0 2158.7 712.9 2162.3 716.9 2165.9 720.7 2169.5 724.2 2173.0 727.1 2176.6 729.6 2180.2 731.5 2183.8 732.9 2187.3 733.9 2190.9 734.7 2194.5 735.2 2198.1 735.5 2201.6 735.8 2205.2 735.9 2208.8 736.1 2212.4 736.2 2215.9 736.2 2219.5 736.3 2223.1 736.4 2226.7 736.4 2230.2 736.5 2233.8 736.5 2237.4 736.6 2241.0 736.6 2244.5 736.7 2248.1 736.7 2251.7 736.7 2255.3 736.8 2258.8 736.8 2262.4 736.9 2266.0 736.9 2269.6 736.9 2273.2 737.0 2276.7 737.0" fill="none" stroke="#90d020" stroke-width="2.7" stroke-linejoin="round"/>
<path d="M1350.6 707.7 1354.2 720.5 1357.8 727.2 1361.3 730.6 1364.9 732.1 1368.5 732.4 1372.1 732.2 1375.6 731.5 1379.2 730.6 1382.8 729.5 1386.4 728.4 1389.9 727.3 1393.5 726.2 1397.1 725.3 1400.7 724.5 1404.2 724.0 1407.8 723.6 1411.4 723.5 1415.0 723.7 1418.5 724.0 1422.1 724.5 1425.7 725.1 1429.3 725.8 1432.8 726.5 1436.4 727.2 1440.0 727.9 1443.6 728.7 1447.1 729.5 1450.7 730.4 1454.3 731.2 1457.9 732.0 1461.4 732.7 1465.0 733.1 1468.6 733.2 1472.2 733.0 1475.8 732.3 1479.3 731.2 1482.9 729.6 1486.5 727.4 1490.1 724.6 1493.6 721.1 1497.2 716.8 1500.8 711.7 1504.4 705.7 1507.9 698.7 1511.5 690.6 1515.1 681.4 1518.7 671.1 1522.2 659.6 1525.8 647.0 1529.4 633.2 1533.0 618.5 1536.5 602.9 1540.1 586.4 1543.7 569.4 1547.3 551.9 1550.8 534.2 1554.4 516.4 1558.0 498.8 1561.6 481.6 1565.1 465.0 1568.7 449.2 1572.3 434.4 1575.9 420.6 1579.4 408.2 1583.0 397.0 1586.6 387.2 1590.2 378.9 1593.8 372.0 1597.3 366.4 1600.9 362.1 1604.5 359.0 1608.1 357.0 1611.6 355.9 1615.2 355.4 1618.8 355.4 1622.4 356.1 1625.9 357.6 1629.5 360.1 1633.1 363.3 1636.7 367.3 1640.2 372.1 1643.8 377.4 1647.4 383.2 1651.0 389.6 1654.5 396.3 1658.1 403.3 1661.7 410.6 1665.3 418.1 1668.8 425.7 1672.4 433.4 1676.0 441.2 1679.6 449.0 1683.1 456.7 1686.7 464.4 1690.3 472.1 1693.9 479.7 1697.5 487.1 1701.0 494.5 1704.6 501.7 1708.2 508.8 1711.8 515.7 1715.3 522.5 1718.9 529.2 1722.5 535.7 1726.1 542.0 1729.6 548.2 1733.2 554.2 1736.8 560.0 1740.4 565.7 1743.9 571.2 1747.5 576.6 1751.1 581.9 1754.7 586.9 1758.2 591.9 1761.8 596.6 1765.4 601.3 1769.0 605.8 1772.5 610.1 1776.1 614.4 1779.7 618.5 1783.3 622.4 1786.8 626.3 1790.4 630.0 1794.0 633.6 1797.6 637.1 1801.1 640.5 1804.7 643.8 1808.3 646.9 1811.9 650.0 1815.5 653.0 1819.0 655.8 1822.6 658.6 1826.2 661.3 1829.8 663.9 1833.3 666.4 1836.9 668.8 1840.5 671.2 1844.1 673.4 1847.6 675.6 1851.2 677.7 1854.8 679.8 1858.4 681.8 1861.9 683.7 1865.5 685.5 1869.1 687.3 1872.7 689.1 1876.2 690.7 1879.8 692.4 1883.4 693.9 1887.0 695.4 1890.5 696.9 1894.1 698.3 1897.7 699.6 1901.3 701.0 1904.8 702.2 1908.4 703.5 1912.0 704.6 1915.6 705.8 1919.1 706.9 1922.7 708.0 1926.3 709.0 1929.9 710.0 1933.5 710.9 1937.0 711.9 1940.6 712.8 1944.2 713.6 1947.8 714.5 1951.3 715.3 1954.9 716.1 1958.5 716.8 1962.1 717.5 1965.6 718.3 1969.2 718.9 1972.8 719.6 1976.4 720.2 1979.9 720.8 1983.5 721.4 1987.1 722.0 1990.7 722.5 1994.2 723.1 1997.8 723.6 2001.4 724.1 2005.0 724.6 2008.5 725.0 2012.1 725.5 2015.7 725.9 2019.3 726.3 2022.8 726.7 2026.4 727.1 2030.0 727.5 2033.6 727.8 2037.1 728.2 2040.7 728.5 2044.3 728.9 2047.9 729.2 2051.5 729.5 2055.0 729.8 2058.6 730.0 2062.2 730.3 2065.8 730.6 2069.3 730.8 2072.9 731.0 2076.5 731.1 2080.1 731.1 2083.6 731.0 2087.2 730.6 2090.8 729.9 2094.4 728.7 2097.9 726.9 2101.5 724.2 2105.1 720.6 2108.7 716.0 2112.2 710.2 2115.8 703.5 2119.4 696.1 2123.0 688.3 2126.5 680.8 2130.1 674.1 2133.7 668.9 2137.3 665.6 2140.8 664.6 2144.4 666.1 2148.0 669.8 2151.6 675.5 2155.1 682.5 2158.7 690.3 2162.3 698.3 2165.9 706.0 2169.5 712.9 2173.0 718.8 2176.6 723.6 2180.2 727.3 2183.8 730.2 2187.3 732.2 2190.9 733.6 2194.5 734.6 2198.1 735.2 2201.6 735.6 2205.2 735.8 2208.8 736.0 2212.4 736.1 2215.9 736.2 2219.5 736.3 2223.1 736.4 2226.7 736.4 2230.2 736.5 2233.8 736.5 2237.4 736.6 2241.0 736.6 2244.5 736.7 2248.1 736.7 2251.7 736.8 2255.3 736.8 2258.8 736.8 2262.4 736.9 2266.0 736.9 2269.6 736.9 2273.2 737.0 2276.7 737.0" fill="none" stroke="#f0a010" stroke-width="2.7" stroke-linejoin="round"/>
<path d="M1350.6 703.1 1354.2 717.2 1357.8 724.6 1361.3 728.0 1364.9 729.2 1368.5 729.1 1372.1 728.2 1375.6 726.8 1379.2 725.0 1382.8 723.1 1386.4 721.1 1389.9 719.1 1393.5 717.2 1397.1 715.5 1400.7 714.1 1404.2 713.1 1407.8 712.5 1411.4 712.3 1415.0 712.6 1418.5 713.1 1422.1 714.0 1425.7 715.0 1429.3 716.2 1432.8 717.3 1436.4 718.5 1440.0 719.7 1443.6 720.9 1447.1 722.2 1450.7 723.4 1454.3 724.5 1457.9 725.4 1461.4 725.9 1465.0 725.9 1468.6 725.2 1472.2 723.7 1475.8 721.3 1479.3 717.9 1482.9 713.5 1486.5 707.9 1490.1 701.2 1493.6 693.2 1497.2 683.9 1500.8 673.2 1504.4 661.1 1507.9 647.6 1511.5 632.6 1515.1 616.3 1518.7 598.6 1522.2 579.8 1525.8 559.9 1529.4 539.2 1533.0 517.7 1536.5 495.9 1540.1 473.8 1543.7 451.8 1547.3 430.2 1550.8 409.2 1554.4 389.0 1558.0 369.8 1561.6 352.0 1565.1 335.5 1568.7 320.7 1572.3 307.6 1575.9 296.1 1579.4 286.5 1583.0 278.5 1586.6 272.2 1590.2 267.5 1593.8 264.1 1597.3 262.0 1600.9 260.9 1604.5 260.6 1608.1 260.8 1611.6 262.0 1615.2 264.4 1618.8 267.8 1622.4 272.3 1625.9 277.7 1629.5 283.9 1633.1 290.9 1636.7 298.5 1640.2 306.6 1643.8 315.2 1647.4 324.2 1651.0 333.4 1654.5 342.8 1658.1 352.4 1661.7 362.1 1665.3 371.8 1668.8 381.5 1672.4 391.1 1676.0 400.7 1679.6 410.2 1683.1 419.6 1686.7 428.8 1690.3 437.9 1693.9 446.8 1697.5 455.6 1701.0 464.1 1704.6 472.5 1708.2 480.7 1711.8 488.7 1715.3 496.4 1718.9 504.0 1722.5 511.4 1726.1 518.6 1729.6 525.6 1733.2 532.4 1736.8 539.0 1740.4 545.4 1743.9 551.7 1747.5 557.7 1751.1 563.6 1754.7 569.3 1758.2 574.8 1761.8 580.2 1765.4 585.3 1769.0 590.4 1772.5 595.3 1776.1 600.0 1779.7 604.6 1783.3 609.0 1786.8 613.3 1790.4 617.4 1794.0 621.4 1797.6 625.3 1801.1 629.1 1804.7 632.7 1808.3 636.3 1811.9 639.7 1815.5 643.0 1819.0 646.2 1822.6 649.3 1826.2 652.2 1829.8 655.1 1833.3 657.9 1836.9 660.6 1840.5 663.2 1844.1 665.8 1847.6 668.2 1851.2 670.6 1854.8 672.8 1858.4 675.1 1861.9 677.2 1865.5 679.2 1869.1 681.2 1872.7 683.2 1876.2 685.0 1879.8 686.8 1883.4 688.6 1887.0 690.2 1890.5 691.9 1894.1 693.4 1897.7 695.0 1901.3 696.4 1904.8 697.8 1908.4 699.2 1912.0 700.5 1915.6 701.8 1919.1 703.0 1922.7 704.2 1926.3 705.4 1929.9 706.5 1933.5 707.6 1937.0 708.6 1940.6 709.6 1944.2 710.6 1947.8 711.5 1951.3 712.4 1954.9 713.3 1958.5 714.1 1962.1 714.9 1965.6 715.7 1969.2 716.5 1972.8 717.2 1976.4 717.9 1979.9 718.6 1983.5 719.3 1987.1 719.9 1990.7 720.5 1994.2 721.1 1997.8 721.7 2001.4 722.3 2005.0 722.8 2008.5 723.3 2012.1 723.8 2015.7 724.3 2019.3 724.8 2022.8 725.2 2026.4 725.7 2030.0 726.1 2033.6 726.5 2037.1 726.9 2040.7 727.3 2044.3 727.6 2047.9 728.0 2051.5 728.3 2055.0 728.7 2058.6 729.0 2062.2 729.3 2065.8 729.5 2069.3 729.8 2072.9 730.0 2076.5 730.2 2080.1 730.2 2083.6 730.1 2087.2 729.8 2090.8 729.2 2094.4 728.1 2097.9 726.4 2101.5 723.9 2105.1 720.5 2108.7 716.1 2112.2 710.7 2115.8 704.3 2119.4 697.2 2123.0 689.9 2126.5 682.7 2130.1 676.3 2133.7 671.4 2137.3 668.3 2140.8 667.4 2144.4 668.8 2148.0 672.4 2151.6 677.8 2155.1 684.5 2158.7 692.0 2162.3 699.6 2165.9 706.9 2169.5 713.5 2173.0 719.2 2176.6 723.8 2180.2 727.4 2183.8 730.1 2187.3 732.0 2190.9 733.4 2194.5 734.3 2198.1 734.9 2201.6 735.3 2205.2 735.6 2208.8 735.8 2212.4 735.9 2215.9 736.0 2219.5 736.1 2223.1 736.1 2226.7 736.2 2230.2 736.3 2233.8 736.3 2237.4 736.4 2241.0 736.4 2244.5 736.5 2248.1 736.5 2251.7 736.6 2255.3 736.6 2258.8 736.7 2262.4 736.7 2266.0 736.8 2269.6 736.8 2273.2 736.8 2276.7 736.9" fill="none" stroke="#ffff00" stroke-width="2.7" stroke-linejoin="round"/>
<path d="M1350.6 701.7 1354.2 716.3 1357.8 723.7 1361.3 727.1 1364.9 728.2 1368.5 728.0 1372.1 726.8 1375.6 725.1 1379.2 723.1 1382.8 720.8 1386.4 718.5 1389.9 716.2 1393.5 714.0 1397.1 712.1 1400.7 710.5 1404.2 709.3 1407.8 708.6 1411.4 708.4 1415.0 708.6 1418.5 709.2 1422.1 710.2 1425.7 711.3 1429.3 712.5 1432.8 713.8 1436.4 715.0 1440.0 716.2 1443.6 717.3 1447.1 718.4 1450.7 719.4 1454.3 720.2 1457.9 720.6 1461.4 720.4 1465.0 719.5 1468.6 717.6 1472.2 714.6 1475.8 710.4 1479.3 704.9 1482.9 698.0 1486.5 689.8 1490.1 680.0 1493.6 668.8 1497.2 656.0 1500.8 641.7 1504.4 625.9 1507.9 608.6 1511.5 589.9 1515.1 570.0 1518.7 549.0 1522.2 527.1 1525.8 504.5 1529.4 481.4 1533.0 458.1 1536.5 434.9 1540.1 412.1 1543.7 390.0 1547.3 368.7 1550.8 348.5 1554.4 329.7 1558.0 312.5 1561.6 296.8 1565.1 283.0 1568.7 271.0 1572.3 260.8 1575.9 252.4 1579.4 245.8 1583.0 240.8 1586.6 237.3 1590.2 235.1 1593.8 234.0 1597.3 233.6 1600.9 233.8 1604.5 235.1 1608.1 237.6 1611.6 241.3 1615.2 246.1 1618.8 251.8 1622.4 258.4 1625.9 265.8 1629.5 273.8 1633.1 282.4 1636.7 291.5 1640.2 301.0 1643.8 310.8 1647.4 320.7 1651.0 330.9 1654.5 341.1 1658.1 351.3 1661.7 361.6 1665.3 371.8 1668.8 381.9 1672.4 392.0 1676.0 401.9 1679.6 411.6 1683.1 421.2 1686.7 430.6 1690.3 439.8 1693.9 448.9 1697.5 457.7 1701.0 466.3 1704.6 474.7 1708.2 482.9 1711.8 490.9 1715.3 498.7 1718.9 506.3 1722.5 513.7 1726.1 520.9 1729.6 527.8 1733.2 534.6 1736.8 541.2 1740.4 547.6 1743.9 553.7 1747.5 559.7 1751.1 565.6 1754.7 571.2 1758.2 576.7 1761.8 582.0 1765.4 587.1 1769.0 592.1 1772.5 596.9 1776.1 601.6 1779.7 606.1 1783.3 610.5 1786.8 614.8 1790.4 618.9 1794.0 622.8 1797.6 626.7 1801.1 630.4 1804.7 634.0 1808.3 637.5 1811.9 640.9 1815.5 644.1 1819.0 647.3 1822.6 650.3 1826.2 653.3 1829.8 656.1 1833.3 658.9 1836.9 661.6 1840.5 664.1 1844.1 666.6 1847.6 669.0 1851.2 671.4 1854.8 673.6 1858.4 675.8 1861.9 677.9 1865.5 679.9 1869.1 681.9 1872.7 683.8 1876.2 685.6 1879.8 687.4 1883.4 689.1 1887.0 690.8 1890.5 692.4 1894.1 693.9 1897.7 695.4 1901.3 696.9 1904.8 698.3 1908.4 699.6 1912.0 700.9 1915.6 702.2 1919.1 703.4 1922.7 704.6 1926.3 705.7 1929.9 706.8 1933.5 707.9 1937.0 708.9 1940.6 709.9 1944.2 710.9 1947.8 711.8 1951.3 712.7 1954.9 713.5 1958.5 714.4 1962.1 715.2 1965.6 715.9 1969.2 716.7 1972.8 717.4 1976.4 718.1 1979.9 718.8 1983.5 719.5 1987.1 720.1 1990.7 720.7 1994.2 721.3 1997.8 721.9 2001.4 722.4 2005.0 722.9 2008.5 723.5 2012.1 723.9 2015.7 724.4 2019.3 724.9 2022.8 725.3 2026.4 725.8 2030.0 726.2 2033.6 726.6 2037.1 727.0 2040.7 727.4 2044.3 727.7 2047.9 728.1 2051.5 728.4 2055.0 728.7 2058.6 729.0 2062.2 729.3 2065.8 729.6 2069.3 729.9 2072.9 730.1 2076.5 730.2 2080.1 730.3 2083.6 730.1 2087.2 729.8 2090.8 729.1 2094.4 727.9 2097.9 726.0 2101.5 723.3 2105.1 719.6 2108.7 714.8 2112.2 708.9 2115.8 701.9 2119.4 694.3 2123.0 686.3 2126.5 678.5 2130.1 671.6 2133.7 666.2 2137.3 662.8 2140.8 661.8 2144.4 663.3 2148.0 667.2 2151.6 673.1 2155.1 680.4 2158.7 688.5 2162.3 696.7 2165.9 704.6 2169.5 711.8 2173.0 717.9 2176.6 722.8 2180.2 726.7 2183.8 729.7 2187.3 731.8 2190.9 733.2 2194.5 734.2 2198.1 734.9 2201.6 735.3 2205.2 735.6 2208.8 735.8 2212.4 735.9 2215.9 736.0 2219.5 736.1 2223.1 736.1 2226.7 736.2 2230.2 736.3 2233.8 736.3 2237.4 736.4 2241.0 736.4 2244.5 736.5 2248.1 736.5 2251.7 736.6 2255.3 736.6 2258.8 736.7 2262.4 736.7 2266.0 736.8 2269.6 736.8 2273.2 736.8 2276.7 736.9" fill="none" stroke="#ff9030" stroke-width="2.7" stroke-linejoin="round"/>
<path d="M1350.6 700.5 1354.2 715.4 1357.8 722.9 1361.3 726.4 1364.9 727.4 1368.5 726.9 1372.1 725.6 1375.6 723.6 1379.2 721.3 1382.8 718.8 1386.4 716.1 1389.9 713.5 1393.5 711.1 1397.1 708.9 1400.7 707.1 1404.2 705.8 1407.8 705.0 1411.4 704.7 1415.0 705.0 1418.5 705.6 1422.1 706.6 1425.7 707.8 1429.3 709.1 1432.8 710.4 1436.4 711.6 1440.0 712.7 1443.6 713.8 1447.1 714.6 1450.7 715.3 1454.3 715.7 1457.9 715.5 1461.4 714.7 1465.0 712.8 1468.6 709.8 1472.2 705.5 1475.8 699.7 1479.3 692.3 1482.9 683.4 1486.5 672.8 1490.1 660.6 1493.6 646.7 1497.2 631.3 1500.8 614.2 1504.4 595.7 1507.9 575.7 1511.5 554.5 1515.1 532.2 1518.7 509.0 1522.2 485.2 1525.8 461.0 1529.4 436.7 1533.0 412.6 1536.5 389.0 1540.1 366.2 1543.7 344.3 1547.3 323.8 1550.8 304.7 1554.4 287.3 1558.0 271.6 1561.6 257.8 1565.1 245.9 1568.7 236.0 1572.3 227.9 1575.9 221.6 1579.4 216.9 1583.0 213.7 1586.6 211.8 1590.2 211.0 1593.8 210.8 1597.3 211.3 1600.9 213.1 1604.5 216.2 1608.1 220.4 1611.6 225.7 1615.2 232.1 1618.8 239.3 1622.4 247.3 1625.9 255.9 1629.5 265.1 1633.1 274.8 1636.7 284.8 1640.2 295.1 1643.8 305.6 1647.4 316.2 1651.0 326.9 1654.5 337.7 1658.1 348.4 1661.7 359.0 1665.3 369.6 1668.8 380.0 1672.4 390.3 1676.0 400.4 1679.6 410.4 1683.1 420.1 1686.7 429.7 1690.3 439.0 1693.9 448.2 1697.5 457.1 1701.0 465.8 1704.6 474.3 1708.2 482.6 1711.8 490.7 1715.3 498.5 1718.9 506.1 1722.5 513.5 1726.1 520.7 1729.6 527.7 1733.2 534.5 1736.8 541.1 1740.4 547.5 1743.9 553.7 1747.5 559.7 1751.1 565.6 1754.7 571.2 1758.2 576.7 1761.8 582.0 1765.4 587.2 1769.0 592.2 1772.5 597.0 1776.1 601.7 1779.7 606.2 1783.3 610.6 1786.8 614.8 1790.4 618.9 1794.0 622.9 1797.6 626.7 1801.1 630.4 1804.7 634.0 1808.3 637.5 1811.9 640.9 1815.5 644.1 1819.0 647.3 1822.6 650.3 1826.2 653.3 1829.8 656.1 1833.3 658.9 1836.9 661.5 1840.5 664.1 1844.1 666.6 1847.6 669.0 1851.2 671.3 1854.8 673.6 1858.4 675.8 1861.9 677.9 1865.5 679.9 1869.1 681.9 1872.7 683.8 1876.2 685.6 1879.8 687.4 1883.4 689.1 1887.0 690.8 1890.5 692.4 1894.1 693.9 1897.7 695.4 1901.3 696.8 1904.8 698.2 1908.4 699.6 1912.0 700.9 1915.6 702.1 1919.1 703.4 1922.7 704.5 1926.3 705.7 1929.9 706.8 1933.5 707.8 1937.0 708.9 1940.6 709.9 1944.2 710.8 1947.8 711.7 1951.3 712.6 1954.9 713.5 1958.5 714.3 1962.1 715.1 1965.6 715.9 1969.2 716.7 1972.8 717.4 1976.4 718.1 1979.9 718.8 1983.5 719.4 1987.1 720.0 1990.7 720.7 1994.2 721.2 1997.8 721.8 2001.4 722.4 2005.0 722.9 2008.5 723.4 2012.1 723.9 2015.7 724.4 2019.3 724.9 2022.8 725.3 2026.4 725.7 2030.0 726.1 2033.6 726.6 2037.1 726.9 2040.7 727.3 2044.3 727.7 2047.9 728.0 2051.5 728.4 2055.0 728.7 2058.6 729.0 2062.2 729.3 2065.8 729.6 2069.3 729.8 2072.9 730.0 2076.5 730.2 2080.1 730.3 2083.6 730.2 2087.2 729.8 2090.8 729.2 2094.4 728.0 2097.9 726.3 2101.5 723.8 2105.1 720.3 2108.7 715.8 2112.2 710.2 2115.8 703.7 2119.4 696.5 2123.0 689.0 2126.5 681.7 2130.1 675.2 2133.7 670.1 2137.3 666.9 2140.8 666.0 2144.4 667.4 2148.0 671.1 2151.6 676.6 2155.1 683.5 2158.7 691.1 2162.3 698.9 2165.9 706.4 2169.5 713.1 2173.0 718.8 2176.6 723.5 2180.2 727.2 2183.8 730.0 2187.3 732.0 2190.9 733.3 2194.5 734.3 2198.1 734.9 2201.6 735.3 2205.2 735.6 2208.8 735.7 2212.4 735.9 2215.9 736.0 2219.5 736.1 2223.1 736.1 2226.7 736.2 2230.2 736.3 2233.8 736.3 2237.4 736.4 2241.0 736.4 2244.5 736.5 2248.1 736.5 2251.7 736.6 2255.3 736.6 2258.8 736.7 2262.4 736.7 2266.0 736.7 2269.6 736.8 2273.2 736.8 2276.7 736.9" fill="none" stroke="#e05010" stroke-width="2.7" stroke-linejoin="round"/>
<path d="M1350.6 699.5 1354.2 714.7 1357.8 722.3 1361.3 725.7 1364.9 726.6 1368.5 726.0 1372.1 724.5 1375.6 722.3 1379.2 719.8 1382.8 717.0 1386.4 714.1 1389.9 711.2 1393.5 708.5 1397.1 706.1 1400.7 704.2 1404.2 702.7 1407.8 701.8 1411.4 701.5 1415.0 701.8 1418.5 702.5 1422.1 703.5 1425.7 704.8 1429.3 706.2 1432.8 707.5 1436.4 708.7 1440.0 709.8 1443.6 710.8 1447.1 711.6 1450.7 712.1 1454.3 712.2 1457.9 711.8 1461.4 710.5 1465.0 708.1 1468.6 704.4 1472.2 699.1 1475.8 692.3 1479.3 683.8 1482.9 673.6 1486.5 661.6 1490.1 647.8 1493.6 632.4 1497.2 615.3 1500.8 596.6 1504.4 576.4 1507.9 554.8 1511.5 532.1 1515.1 508.3 1518.7 483.9 1522.2 459.0 1525.8 433.9 1529.4 408.8 1533.0 384.2 1536.5 360.3 1540.1 337.4 1543.7 315.7 1547.3 295.5 1550.8 276.9 1554.4 260.1 1558.0 245.2 1561.6 232.3 1565.1 221.3 1568.7 212.3 1572.3 205.2 1575.9 199.8 1579.4 196.1 1583.0 193.7 1586.6 192.5 1590.2 192.1 1593.8 192.3 1597.3 193.8 1600.9 196.5 1604.5 200.5 1608.1 205.7 1611.6 211.9 1615.2 219.1 1618.8 227.1 1622.4 235.9 1625.9 245.3 1629.5 255.2 1633.1 265.4 1636.7 276.0 1640.2 286.8 1643.8 297.8 1647.4 308.9 1651.0 320.0 1654.5 331.1 1658.1 342.1 1661.7 353.1 1665.3 363.9 1668.8 374.6 1672.4 385.1 1676.0 395.5 1679.6 405.7 1683.1 415.6 1686.7 425.4 1690.3 434.9 1693.9 444.2 1697.5 453.3 1701.0 462.2 1704.6 470.8 1708.2 479.2 1711.8 487.4 1715.3 495.4 1718.9 503.1 1722.5 510.6 1726.1 517.9 1729.6 525.0 1733.2 531.9 1736.8 538.6 1740.4 545.1 1743.9 551.4 1747.5 557.5 1751.1 563.4 1754.7 569.1 1758.2 574.7 1761.8 580.0 1765.4 585.2 1769.0 590.3 1772.5 595.2 1776.1 599.9 1779.7 604.5 1783.3 608.9 1786.8 613.2 1790.4 617.4 1794.0 621.4 1797.6 625.3 1801.1 629.0 1804.7 632.7 1808.3 636.2 1811.9 639.6 1815.5 642.9 1819.0 646.1 1822.6 649.2 1826.2 652.2 1829.8 655.0 1833.3 657.8 1836.9 660.5 1840.5 663.1 1844.1 665.7 1847.6 668.1 1851.2 670.4 1854.8 672.7 1858.4 674.9 1861.9 677.1 1865.5 679.1 1869.1 681.1 1872.7 683.0 1876.2 684.9 1879.8 686.7 1883.4 688.4 1887.0 690.1 1890.5 691.7 1894.1 693.3 1897.7 694.8 1901.3 696.3 1904.8 697.7 1908.4 699.0 1912.0 700.4 1915.6 701.6 1919.1 702.9 1922.7 704.1 1926.3 705.2 1929.9 706.3 1933.5 707.4 1937.0 708.4 1940.6 709.4 1944.2 710.4 1947.8 711.3 1951.3 712.2 1954.9 713.1 1958.5 714.0 1962.1 714.8 1965.6 715.6 1969.2 716.3 1972.8 717.1 1976.4 717.8 1979.9 718.5 1983.5 719.1 1987.1 719.8 1990.7 720.4 1994.2 721.0 1997.8 721.6 2001.4 722.1 2005.0 722.7 2008.5 723.2 2012.1 723.7 2015.7 724.2 2019.3 724.6 2022.8 725.1 2026.4 725.5 2030.0 726.0 2033.6 726.4 2037.1 726.8 2040.7 727.1 2044.3 727.5 2047.9 727.9 2051.5 728.2 2055.0 728.5 2058.6 728.9 2062.2 729.2 2065.8 729.4 2069.3 729.7 2072.9 729.9 2076.5 730.1 2080.1 730.1 2083.6 730.0 2087.2 729.7 2090.8 729.0 2094.4 727.8 2097.9 726.0 2101.5 723.3 2105.1 719.7 2108.7 715.0 2112.2 709.2 2115.8 702.5 2119.4 694.9 2123.0 687.1 2126.5 679.5 2130.1 672.8 2133.7 667.5 2137.3 664.2 2140.8 663.2 2144.4 664.7 2148.0 668.5 2151.6 674.2 2155.1 681.4 2158.7 689.3 2162.3 697.4 2165.9 705.2 2169.5 712.2 2173.0 718.1 2176.6 723.0 2180.2 726.8 2183.8 729.7 2187.3 731.8 2190.9 733.2 2194.5 734.2 2198.1 734.8 2201.6 735.2 2205.2 735.5 2208.8 735.7 2212.4 735.8 2215.9 735.9 2219.5 736.0 2223.1 736.1 2226.7 736.2 2230.2 736.2 2233.8 736.3 2237.4 736.3 2241.0 736.4 2244.5 736.4 2248.1 736.5 2251.7 736.5 2255.3 736.6 2258.8 736.6 2262.4 736.7 2266.0 736.7 2269.6 736.8 2273.2 736.8 2276.7 736.8" fill="none" stroke="#ff5040" stroke-width="2.7" stroke-linejoin="round"/>
<path d="M1350.6 697.5 1354.2 713.1 1357.8 720.9 1361.3 724.2 1364.9 724.9 1368.5 724.0 1372.1 722.0 1375.6 719.4 1379.2 716.3 1382.8 713.0 1386.4 709.5 1389.9 706.1 1393.5 702.9 1397.1 700.0 1400.7 697.7 1404.2 695.9 1407.8 694.8 1411.4 694.4 1415.0 694.6 1418.5 695.3 1422.1 696.5 1425.7 697.8 1429.3 699.2 1432.8 700.5 1436.4 701.5 1440.0 702.4 1443.6 703.0 1447.1 703.2 1450.7 703.0 1454.3 702.2 1457.9 700.6 1461.4 697.8 1465.0 693.6 1468.6 687.7 1472.2 679.9 1475.8 670.2 1479.3 658.5 1482.9 644.8 1486.5 629.1 1490.1 611.5 1493.6 592.1 1497.2 571.0 1500.8 548.5 1504.4 524.6 1507.9 499.5 1511.5 473.6 1515.1 447.2 1518.7 420.4 1522.2 393.6 1525.8 367.2 1529.4 341.5 1533.0 316.7 1536.5 293.1 1540.1 271.0 1543.7 250.6 1547.3 232.1 1550.8 215.5 1554.4 201.1 1558.0 188.7 1561.6 178.5 1565.1 170.3 1568.7 164.0 1572.3 159.4 1575.9 156.5 1579.4 154.8 1583.0 154.1 1586.6 154.1 1590.2 155.2 1593.8 157.7 1597.3 161.5 1600.9 166.7 1604.5 173.0 1608.1 180.5 1611.6 188.8 1615.2 198.0 1618.8 207.8 1622.4 218.3 1625.9 229.2 1629.5 240.4 1633.1 251.9 1636.7 263.6 1640.2 275.5 1643.8 287.3 1647.4 299.2 1651.0 311.1 1654.5 322.8 1658.1 334.4 1661.7 345.9 1665.3 357.2 1668.8 368.3 1672.4 379.3 1676.0 390.0 1679.6 400.5 1683.1 410.7 1686.7 420.7 1690.3 430.5 1693.9 440.1 1697.5 449.4 1701.0 458.4 1704.6 467.2 1708.2 475.8 1711.8 484.1 1715.3 492.2 1718.9 500.1 1722.5 507.7 1726.1 515.2 1729.6 522.4 1733.2 529.4 1736.8 536.1 1740.4 542.7 1743.9 549.1 1747.5 555.3 1751.1 561.2 1754.7 567.0 1758.2 572.7 1761.8 578.1 1765.4 583.4 1769.0 588.5 1772.5 593.4 1776.1 598.2 1779.7 602.8 1783.3 607.3 1786.8 611.7 1790.4 615.9 1794.0 619.9 1797.6 623.9 1801.1 627.7 1804.7 631.3 1808.3 634.9 1811.9 638.4 1815.5 641.7 1819.0 644.9 1822.6 648.0 1826.2 651.0 1829.8 654.0 1833.3 656.8 1836.9 659.5 1840.5 662.1 1844.1 664.7 1847.6 667.1 1851.2 669.5 1854.8 671.8 1858.4 674.1 1861.9 676.2 1865.5 678.3 1869.1 680.3 1872.7 682.3 1876.2 684.1 1879.8 685.9 1883.4 687.7 1887.0 689.4 1890.5 691.0 1894.1 692.6 1897.7 694.2 1901.3 695.6 1904.8 697.1 1908.4 698.5 1912.0 699.8 1915.6 701.1 1919.1 702.3 1922.7 703.5 1926.3 704.7 1929.9 705.8 1933.5 706.9 1937.0 708.0 1940.6 709.0 1944.2 710.0 1947.8 710.9 1951.3 711.8 1954.9 712.7 1958.5 713.6 1962.1 714.4 1965.6 715.2 1969.2 716.0 1972.8 716.7 1976.4 717.4 1979.9 718.1 1983.5 718.8 1987.1 719.5 1990.7 720.1 1994.2 720.7 1997.8 721.3 2001.4 721.8 2005.0 722.4 2008.5 722.9 2012.1 723.4 2015.7 723.9 2019.3 724.4 2022.8 724.9 2026.4 725.3 2030.0 725.7 2033.6 726.1 2037.1 726.5 2040.7 726.9 2044.3 727.3 2047.9 727.7 2051.5 728.0 2055.0 728.4 2058.6 728.7 2062.2 729.0 2065.8 729.3 2069.3 729.5 2072.9 729.8 2076.5 729.9 2080.1 730.0 2083.6 729.9 2087.2 729.6 2090.8 729.0 2094.4 728.0 2097.9 726.3 2101.5 723.9 2105.1 720.6 2108.7 716.3 2112.2 711.0 2115.8 704.8 2119.4 697.9 2123.0 690.7 2126.5 683.7 2130.1 677.5 2133.7 672.6 2137.3 669.6 2140.8 668.8 2144.4 670.1 2148.0 673.6 2151.6 678.9 2155.1 685.5 2158.7 692.8 2162.3 700.3 2165.9 707.5 2169.5 713.9 2173.0 719.4 2176.6 723.9 2180.2 727.4 2183.8 730.1 2187.3 732.0 2190.9 733.3 2194.5 734.2 2198.1 734.8 2201.6 735.2 2205.2 735.5 2208.8 735.7 2212.4 735.8 2215.9 735.9 2219.5 736.0 2223.1 736.0 2226.7 736.1 2230.2 736.2 2233.8 736.2 2237.4 736.3 2241.0 736.4 2244.5 736.4 2248.1 736.5 2251.7 736.5 2255.3 736.6 2258.8 736.6 2262.4 736.6 2266.0 736.7 2269.6 736.7 2273.2 736.8 2276.7 736.8" fill="none" stroke="#ff2080" stroke-width="2.7" stroke-linejoin="round"/>
<rect x="1350.6" y="48.2" width="930.9" height="691.8" fill="none" stroke="#333" stroke-width="2.8"/>
<path d="M1446.1 740v13M1565.4 740v13M1684.8 740v13M1804.1 740v13M1923.5 740v13M2042.8 740v13M2162.2 740v13M2281.5 740v13M1386.4 740v6M1505.8 740v6M1625.1 740v6M1744.4 740v6M1863.8 740v6M1983.1 740v6M2102.5 740v6M2221.8 740v6" stroke="#333" stroke-width="2.8" fill="none"/>
<g font-family="Liberation Sans, Arial, Helvetica, sans-serif" font-size="37" fill="#222" text-anchor="middle"><text x="1446.1" y="791">400</text><text x="1565.4" y="791">450</text><text x="1684.8" y="791">500</text><text x="1804.1" y="791">550</text><text x="1923.5" y="791">600</text><text x="2042.8" y="791">650</text><text x="2162.2" y="791">700</text><text x="2281.5" y="791">750</text></g>
<path d="M1350.6 740h-13M1350.6 601.6h-13M1350.6 463.3h-13M1350.6 324.9h-13M1350.6 186.6h-13M1350.6 48.2h-13M1350.6 670.8h-6M1350.6 532.5h-6M1350.6 394.1h-6M1350.6 255.7h-6M1350.6 117.4h-6" stroke="#333" stroke-width="2.8" fill="none"/>
<g font-family="Liberation Sans, Arial, Helvetica, sans-serif" font-size="37" fill="#222" text-anchor="end"><text x="1327.1" y="750.6">0</text><text x="1327.1" y="612.3">200</text><text x="1327.1" y="473.9">400</text><text x="1327.1" y="335.6">600</text><text x="1327.1" y="197.2">800</text><text x="1327.1" y="58.8">1000</text></g>
<text x="1183" y="78" font-family="Liberation Sans, Arial, Helvetica, sans-serif" font-size="80" fill="#111" text-anchor="start" >b</text>
<text transform="translate(1230 372) rotate(-90)" font-family="Liberation Sans, Arial, Helvetica, sans-serif" font-size="37.5" fill="#222" text-anchor="middle">Fluorescence intensity (a.u.)</text>
<text x="1815" y="853" font-family="Liberation Sans, Arial, Helvetica, sans-serif" font-size="37.5" fill="#222" text-anchor="middle" >Wavelength (nm)</text>
<text x="1788.6" y="151.5" font-family="Liberation Sans, Arial, Helvetica, sans-serif" font-size="37.5" fill="#222" text-anchor="middle" >0</text>
<path d="M1788.6 155V294.6" stroke="#111" stroke-width="3"/>
<path d="M1782.1 292.6L1795.1 292.6L1788.6 312.6Z" fill="#111"/>
<text x="1815" y="238.5" font-family="Liberation Sans, Arial, Helvetica, sans-serif" font-size="37.5" fill="#222" text-anchor="start" >[TFL]</text>
<text x="1695.5" y="356" font-family="Liberation Sans, Arial, Helvetica, sans-serif" font-size="37.5" fill="#222" text-anchor="start" >1.49 x10<tspan dy="-13.5" font-size="25.1">−3</tspan><tspan dy="13.5"> </tspan>M</text>
<path d="M203.7 1575.8 207.7 1575.8 211.8 1575.8 215.8 1575.8 219.8 1575.8 223.8 1575.7 227.9 1575.7 231.9 1575.6 235.9 1575.4 239.9 1575.2 244.0 1574.9 248.0 1574.5 252.0 1574.0 256.0 1573.4 260.1 1572.7 264.1 1571.8 268.1 1570.8 272.1 1569.6 276.2 1568.3 280.2 1566.9 284.2 1565.4 288.2 1563.7 292.3 1561.9 296.3 1560.1 300.3 1558.1 304.3 1556.2 308.4 1554.1 312.4 1552.1 316.4 1550.1 320.4 1548.2 324.5 1546.3 328.5 1544.5 332.5 1542.8 336.5 1541.2 340.6 1539.8 344.6 1538.5 348.6 1537.4 352.6 1536.5 356.7 1535.8 360.7 1535.3 364.7 1534.9 368.7 1534.7 372.8 1534.7 376.8 1534.7 380.8 1534.8 384.9 1534.9 388.9 1535.1 392.9 1535.4 396.9 1535.7 401.0 1536.1 405.0 1536.5 409.0 1537.0 413.0 1537.4 417.1 1538.0 421.1 1538.6 425.1 1539.2 429.1 1539.8 433.2 1540.5 437.2 1541.1 441.2 1541.8 445.2 1542.5 449.3 1543.3 453.3 1544.0 457.3 1544.7 461.3 1545.5 465.4 1546.2 469.4 1547.0 473.4 1547.7 477.4 1548.5 481.5 1549.2 485.5 1549.9 489.5 1550.7 493.5 1551.4 497.6 1552.1 501.6 1552.7 505.6 1553.4 509.6 1554.1 513.7 1554.7 517.7 1555.4 521.7 1556.0 525.7 1556.6 529.8 1557.2 533.8 1557.7 537.8 1558.3 541.8 1558.8 545.9 1559.4 549.9 1559.9 553.9 1560.4 558.0 1560.8 562.0 1561.3 566.0 1561.7 570.0 1562.2 574.1 1562.6 578.1 1563.0 582.1 1563.4 586.1 1563.8 590.2 1564.1 594.2 1564.5 598.2 1564.8 602.2 1565.2 606.3 1565.5 610.3 1565.8 614.3 1566.1 618.3 1566.4 622.4 1566.7 626.4 1566.9 630.4 1567.2 634.4 1567.5 638.5 1567.7 642.5 1567.9 646.5 1568.2 650.5 1568.4 654.6 1568.6 658.6 1568.8 662.6 1569.0 666.6 1569.2 670.7 1569.4 674.7 1569.6 678.7 1569.8 682.7 1570.0 686.8 1570.1 690.8 1570.3 694.8 1570.5 698.8 1570.6 702.9 1570.8 706.9 1570.9 710.9 1571.0 714.9 1571.2 719.0 1571.3 723.0 1571.4 727.0 1571.6 731.0 1571.7 735.1 1571.8 739.1 1571.9 743.1 1572.0 747.2 1572.2 751.2 1572.3 755.2 1572.4 759.2 1572.5 763.3 1572.6 767.3 1572.7 771.3 1572.7 775.3 1572.8 779.4 1572.9 783.4 1573.0 787.4 1573.1 791.4 1573.1 795.5 1573.1 799.5 1573.1 803.5 1573.0 807.5 1572.7 811.6 1572.2 815.6 1571.4 819.6 1570.2 823.6 1568.3 827.7 1565.6 831.7 1561.9 835.7 1557.0 839.7 1550.9 843.8 1543.4 847.8 1534.7 851.8 1525.2 855.8 1515.3 859.9 1505.5 863.9 1496.6 867.9 1489.3 871.9 1484.3 876.0 1481.9 880.0 1482.4 884.0 1485.8 888.0 1491.8 892.1 1499.8 896.1 1509.1 900.1 1519.1 904.1 1529.0 908.2 1538.4 912.2 1546.7 916.2 1553.8 920.3 1559.6 924.3 1564.1 928.3 1567.4 932.3 1569.6 936.4 1570.9 940.4 1571.6 944.4 1572.0 948.4 1572.2 952.5 1572.3 956.5 1572.4 960.5 1572.5 964.5 1572.6 968.6 1572.7 972.6 1572.7 976.6 1572.8 980.6 1572.8 984.7 1572.9 988.7 1572.9 992.7 1573.0 996.7 1573.0 1000.8 1573.1 1004.8 1573.1 1008.8 1573.2 1012.8 1573.2 1016.9 1573.2 1020.9 1573.3 1024.9 1573.3 1028.9 1573.4 1033.0 1573.4 1037.0 1573.4 1041.0 1573.5 1045.0 1573.5 1049.1 1573.5 1053.1 1573.6 1057.1 1573.6 1061.1 1573.7 1065.2 1573.7 1069.2 1573.7 1073.2 1573.8 1077.2 1573.8 1081.3 1573.8 1085.3 1573.8 1089.3 1573.9 1093.4 1573.9 1097.4 1573.9 1101.4 1574.0 1105.4 1574.0 1109.5 1574.0 1113.5 1574.0 1117.5 1574.1 1121.5 1574.1 1125.6 1574.1 1129.6 1574.1 1133.6 1574.2 1137.6 1574.2" fill="none" stroke="#8822ee" stroke-width="2.9" stroke-linejoin="round"/>
<path d="M203.7 1575.8 207.7 1575.8 211.8 1575.8 215.8 1575.8 219.8 1575.8 223.8 1575.8 227.9 1575.7 231.9 1575.6 235.9 1575.5 239.9 1575.3 244.0 1575.1 248.0 1574.7 252.0 1574.3 256.0 1573.8 260.1 1573.1 264.1 1572.3 268.1 1571.4 272.1 1570.3 276.2 1569.1 280.2 1567.7 284.2 1566.2 288.2 1564.6 292.3 1562.9 296.3 1561.0 300.3 1559.1 304.3 1557.1 308.4 1555.1 312.4 1553.1 316.4 1551.0 320.4 1549.0 324.5 1547.0 328.5 1545.1 332.5 1543.3 336.5 1541.6 340.6 1540.0 344.6 1538.7 348.6 1537.4 352.6 1536.4 356.7 1535.5 360.7 1534.8 364.7 1534.4 368.7 1534.1 372.8 1533.9 376.8 1533.9 380.8 1534.0 384.9 1534.1 388.9 1534.2 392.9 1534.5 396.9 1534.7 401.0 1535.1 405.0 1535.5 409.0 1535.9 413.0 1536.4 417.1 1536.9 421.1 1537.5 425.1 1538.1 429.1 1538.7 433.2 1539.3 437.2 1540.0 441.2 1540.7 445.2 1541.4 449.3 1542.2 453.3 1542.9 457.3 1543.7 461.3 1544.4 465.4 1545.2 469.4 1545.9 473.4 1546.7 477.4 1547.5 481.5 1548.2 485.5 1549.0 489.5 1549.7 493.5 1550.4 497.6 1551.1 501.6 1551.9 505.6 1552.5 509.6 1553.2 513.7 1553.9 517.7 1554.5 521.7 1555.2 525.7 1555.8 529.8 1556.4 533.8 1557.0 537.8 1557.6 541.8 1558.1 545.9 1558.7 549.9 1559.2 553.9 1559.7 558.0 1560.2 562.0 1560.7 566.0 1561.2 570.0 1561.6 574.1 1562.1 578.1 1562.5 582.1 1562.9 586.1 1563.3 590.2 1563.7 594.2 1564.0 598.2 1564.4 602.2 1564.7 606.3 1565.1 610.3 1565.4 614.3 1565.7 618.3 1566.0 622.4 1566.3 626.4 1566.6 630.4 1566.9 634.4 1567.1 638.5 1567.4 642.5 1567.6 646.5 1567.9 650.5 1568.1 654.6 1568.3 658.6 1568.5 662.6 1568.8 666.6 1569.0 670.7 1569.2 674.7 1569.4 678.7 1569.5 682.7 1569.7 686.8 1569.9 690.8 1570.1 694.8 1570.2 698.8 1570.4 702.9 1570.6 706.9 1570.7 710.9 1570.9 714.9 1571.0 719.0 1571.1 723.0 1571.3 727.0 1571.4 731.0 1571.5 735.1 1571.7 739.1 1571.8 743.1 1571.9 747.2 1572.0 751.2 1572.1 755.2 1572.2 759.2 1572.3 763.3 1572.4 767.3 1572.5 771.3 1572.6 775.3 1572.7 779.4 1572.8 783.4 1572.9 787.4 1572.9 791.4 1573.0 795.5 1573.0 799.5 1573.0 803.5 1572.8 807.5 1572.6 811.6 1572.1 815.6 1571.3 819.6 1570.0 823.6 1568.0 827.7 1565.2 831.7 1561.4 835.7 1556.4 839.7 1550.0 843.8 1542.3 847.8 1533.4 851.8 1523.6 855.8 1513.3 859.9 1503.2 863.9 1494.0 867.9 1486.5 871.9 1481.3 876.0 1478.8 880.0 1479.4 884.0 1482.9 888.0 1489.0 892.1 1497.3 896.1 1506.9 900.1 1517.2 904.1 1527.5 908.2 1537.2 912.2 1545.8 916.2 1553.1 920.3 1559.1 924.3 1563.7 928.3 1567.1 932.3 1569.4 936.4 1570.8 940.4 1571.5 944.4 1571.9 948.4 1572.1 952.5 1572.3 956.5 1572.4 960.5 1572.5 964.5 1572.6 968.6 1572.6 972.6 1572.7 976.6 1572.7 980.6 1572.8 984.7 1572.9 988.7 1572.9 992.7 1572.9 996.7 1573.0 1000.8 1573.0 1004.8 1573.1 1008.8 1573.1 1012.8 1573.2 1016.9 1573.2 1020.9 1573.3 1024.9 1573.3 1028.9 1573.3 1033.0 1573.4 1037.0 1573.4 1041.0 1573.5 1045.0 1573.5 1049.1 1573.5 1053.1 1573.6 1057.1 1573.6 1061.1 1573.6 1065.2 1573.7 1069.2 1573.7 1073.2 1573.7 1077.2 1573.8 1081.3 1573.8 1085.3 1573.8 1089.3 1573.9 1093.4 1573.9 1097.4 1573.9 1101.4 1573.9 1105.4 1574.0 1109.5 1574.0 1113.5 1574.0 1117.5 1574.1 1121.5 1574.1 1125.6 1574.1 1129.6 1574.1 1133.6 1574.2 1137.6 1574.2" fill="none" stroke="#2222ee" stroke-width="2.9" stroke-linejoin="round"/>
<path d="M203.7 1575.8 207.7 1575.8 211.8 1575.8 215.8 1575.8 219.8 1575.8 223.8 1575.7 227.9 1575.7 231.9 1575.6 235.9 1575.5 239.9 1575.3 244.0 1575.0 248.0 1574.7 252.0 1574.2 256.0 1573.7 260.1 1573.0 264.1 1572.1 268.1 1571.1 272.1 1570.0 276.2 1568.7 280.2 1567.3 284.2 1565.7 288.2 1564.0 292.3 1562.2 296.3 1560.2 300.3 1558.2 304.3 1556.1 308.4 1554.0 312.4 1551.8 316.4 1549.6 320.4 1547.5 324.5 1545.4 328.5 1543.4 332.5 1541.5 336.5 1539.7 340.6 1538.1 344.6 1536.6 348.6 1535.3 352.6 1534.2 356.7 1533.3 360.7 1532.6 364.7 1532.1 368.7 1531.8 372.8 1531.6 376.8 1531.6 380.8 1531.7 384.9 1531.8 388.9 1532.0 392.9 1532.2 396.9 1532.5 401.0 1532.8 405.0 1533.3 409.0 1533.7 413.0 1534.2 417.1 1534.8 421.1 1535.4 425.1 1536.0 429.1 1536.7 433.2 1537.3 437.2 1538.1 441.2 1538.8 445.2 1539.6 449.3 1540.3 453.3 1541.1 457.3 1541.9 461.3 1542.7 465.4 1543.5 469.4 1544.3 473.4 1545.1 477.4 1545.9 481.5 1546.7 485.5 1547.5 489.5 1548.3 493.5 1549.0 497.6 1549.8 501.6 1550.5 505.6 1551.3 509.6 1552.0 513.7 1552.7 517.7 1553.4 521.7 1554.0 525.7 1554.7 529.8 1555.3 533.8 1556.0 537.8 1556.6 541.8 1557.2 545.9 1557.7 549.9 1558.3 553.9 1558.8 558.0 1559.4 562.0 1559.9 566.0 1560.4 570.0 1560.8 574.1 1561.3 578.1 1561.7 582.1 1562.2 586.1 1562.6 590.2 1563.0 594.2 1563.4 598.2 1563.8 602.2 1564.1 606.3 1564.5 610.3 1564.8 614.3 1565.1 618.3 1565.5 622.4 1565.8 626.4 1566.1 630.4 1566.4 634.4 1566.6 638.5 1566.9 642.5 1567.2 646.5 1567.4 650.5 1567.7 654.6 1567.9 658.6 1568.1 662.6 1568.4 666.6 1568.6 670.7 1568.8 674.7 1569.0 678.7 1569.2 682.7 1569.4 686.8 1569.6 690.8 1569.7 694.8 1569.9 698.8 1570.1 702.9 1570.3 706.9 1570.4 710.9 1570.6 714.9 1570.7 719.0 1570.9 723.0 1571.0 727.0 1571.2 731.0 1571.3 735.1 1571.4 739.1 1571.5 743.1 1571.7 747.2 1571.8 751.2 1571.9 755.2 1572.0 759.2 1572.1 763.3 1572.2 767.3 1572.3 771.3 1572.4 775.3 1572.5 779.4 1572.6 783.4 1572.7 787.4 1572.8 791.4 1572.8 795.5 1572.8 799.5 1572.7 803.5 1572.4 807.5 1571.9 811.6 1571.1 815.6 1569.7 819.6 1567.6 823.6 1564.4 827.7 1559.8 831.7 1553.6 835.7 1545.4 839.7 1535.0 843.8 1522.5 847.8 1507.9 851.8 1491.9 855.8 1475.2 859.9 1458.8 863.9 1443.9 867.9 1431.6 871.9 1423.1 876.0 1419.1 880.0 1419.9 884.0 1425.6 888.0 1435.6 892.1 1449.0 896.1 1464.6 900.1 1481.3 904.1 1498.0 908.2 1513.7 912.2 1527.7 916.2 1539.6 920.3 1549.3 924.3 1556.8 928.3 1562.4 932.3 1566.3 936.4 1568.8 940.4 1570.2 944.4 1571.1 948.4 1571.6 952.5 1571.9 956.5 1572.2 960.5 1572.3 964.5 1572.5 968.6 1572.5 972.6 1572.6 976.6 1572.7 980.6 1572.7 984.7 1572.8 988.7 1572.8 992.7 1572.9 996.7 1572.9 1000.8 1573.0 1004.8 1573.0 1008.8 1573.1 1012.8 1573.1 1016.9 1573.2 1020.9 1573.2 1024.9 1573.2 1028.9 1573.3 1033.0 1573.3 1037.0 1573.4 1041.0 1573.4 1045.0 1573.4 1049.1 1573.5 1053.1 1573.5 1057.1 1573.5 1061.1 1573.6 1065.2 1573.6 1069.2 1573.7 1073.2 1573.7 1077.2 1573.7 1081.3 1573.7 1085.3 1573.8 1089.3 1573.8 1093.4 1573.8 1097.4 1573.9 1101.4 1573.9 1105.4 1573.9 1109.5 1574.0 1113.5 1574.0 1117.5 1574.0 1121.5 1574.0 1125.6 1574.1 1129.6 1574.1 1133.6 1574.1 1137.6 1574.1" fill="none" stroke="#22e5e5" stroke-width="2.9" stroke-linejoin="round"/>
<path d="M203.7 1575.7 207.7 1575.7 211.8 1575.7 215.8 1575.6 219.8 1575.6 223.8 1575.6 227.9 1575.5 231.9 1575.3 235.9 1575.1 239.9 1574.8 244.0 1574.4 248.0 1573.9 252.0 1573.2 256.0 1572.3 260.1 1571.2 264.1 1569.9 268.1 1568.3 272.1 1566.6 276.2 1564.6 280.2 1562.3 284.2 1559.9 288.2 1557.2 292.3 1554.4 296.3 1551.4 300.3 1548.2 304.3 1545.0 308.4 1541.6 312.4 1538.3 316.4 1534.9 320.4 1531.6 324.5 1528.4 328.5 1525.3 332.5 1522.4 336.5 1519.6 340.6 1517.1 344.6 1514.8 348.6 1512.8 352.6 1511.1 356.7 1509.7 360.7 1508.6 364.7 1507.8 368.7 1507.3 372.8 1507.1 376.8 1507.1 380.8 1507.1 384.9 1507.3 388.9 1507.6 392.9 1508.0 396.9 1508.4 401.0 1509.0 405.0 1509.6 409.0 1510.3 413.0 1511.1 417.1 1512.0 421.1 1512.9 425.1 1513.9 429.1 1514.9 433.2 1516.0 437.2 1517.1 441.2 1518.2 445.2 1519.4 449.3 1520.6 453.3 1521.8 457.3 1523.0 461.3 1524.2 465.4 1525.5 469.4 1526.7 473.4 1528.0 477.4 1529.2 481.5 1530.4 485.5 1531.6 489.5 1532.8 493.5 1534.0 497.6 1535.2 501.6 1536.4 505.6 1537.5 509.6 1538.6 513.7 1539.7 517.7 1540.8 521.7 1541.8 525.7 1542.8 529.8 1543.8 533.8 1544.8 537.8 1545.7 541.8 1546.6 545.9 1547.5 549.9 1548.4 553.9 1549.2 558.0 1550.0 562.0 1550.8 566.0 1551.6 570.0 1552.3 574.1 1553.0 578.1 1553.7 582.1 1554.4 586.1 1555.0 590.2 1555.7 594.2 1556.3 598.2 1556.9 602.2 1557.4 606.3 1558.0 610.3 1558.5 614.3 1559.0 618.3 1559.5 622.4 1560.0 626.4 1560.5 630.4 1560.9 634.4 1561.3 638.5 1561.8 642.5 1562.2 646.5 1562.6 650.5 1563.0 654.6 1563.3 658.6 1563.7 662.6 1564.0 666.6 1564.4 670.7 1564.7 674.7 1565.0 678.7 1565.3 682.7 1565.6 686.8 1565.9 690.8 1566.2 694.8 1566.5 698.8 1566.7 702.9 1567.0 706.9 1567.2 710.9 1567.5 714.9 1567.7 719.0 1568.0 723.0 1568.2 727.0 1568.4 731.0 1568.6 735.1 1568.8 739.1 1569.0 743.1 1569.2 747.2 1569.4 751.2 1569.6 755.2 1569.7 759.2 1569.9 763.3 1570.1 767.3 1570.2 771.3 1570.4 775.3 1570.5 779.4 1570.7 783.4 1570.8 787.4 1570.9 791.4 1571.0 795.5 1571.0 799.5 1571.0 803.5 1570.8 807.5 1570.3 811.6 1569.5 815.6 1568.2 819.6 1566.0 823.6 1562.9 827.7 1558.3 831.7 1552.1 835.7 1543.8 839.7 1533.4 843.8 1520.8 847.8 1506.2 851.8 1490.1 855.8 1473.2 859.9 1456.7 863.9 1441.7 867.9 1429.4 871.9 1420.8 876.0 1416.8 880.0 1417.7 884.0 1423.4 888.0 1433.5 892.1 1447.0 896.1 1462.8 900.1 1479.7 904.1 1496.5 908.2 1512.3 912.2 1526.5 916.2 1538.5 920.3 1548.3 924.3 1555.9 928.3 1561.5 932.3 1565.4 936.4 1567.9 940.4 1569.4 944.4 1570.3 948.4 1570.8 952.5 1571.1 956.5 1571.4 960.5 1571.5 964.5 1571.7 968.6 1571.8 972.6 1571.9 976.6 1571.9 980.6 1572.0 984.7 1572.1 988.7 1572.1 992.7 1572.2 996.7 1572.3 1000.8 1572.3 1004.8 1572.4 1008.8 1572.4 1012.8 1572.5 1016.9 1572.5 1020.9 1572.6 1024.9 1572.7 1028.9 1572.7 1033.0 1572.8 1037.0 1572.8 1041.0 1572.9 1045.0 1572.9 1049.1 1572.9 1053.1 1573.0 1057.1 1573.0 1061.1 1573.1 1065.2 1573.1 1069.2 1573.2 1073.2 1573.2 1077.2 1573.2 1081.3 1573.3 1085.3 1573.3 1089.3 1573.4 1093.4 1573.4 1097.4 1573.4 1101.4 1573.5 1105.4 1573.5 1109.5 1573.5 1113.5 1573.6 1117.5 1573.6 1121.5 1573.6 1125.6 1573.7 1129.6 1573.7 1133.6 1573.7 1137.6 1573.8" fill="none" stroke="#1fa5a5" stroke-width="2.9" stroke-linejoin="round"/>
<path d="M203.7 1575.6 207.7 1575.6 211.8 1575.6 215.8 1575.5 219.8 1575.5 223.8 1575.5 227.9 1575.4 231.9 1575.3 235.9 1575.1 239.9 1574.8 244.0 1574.4 248.0 1573.8 252.0 1573.1 256.0 1572.1 260.1 1570.9 264.1 1569.5 268.1 1567.8 272.1 1565.8 276.2 1563.5 280.2 1560.9 284.2 1558.1 288.2 1554.9 292.3 1551.6 296.3 1548.0 300.3 1544.2 304.3 1540.3 308.4 1536.3 312.4 1532.1 316.4 1528.0 320.4 1523.9 324.5 1519.9 328.5 1515.9 332.5 1512.2 336.5 1508.6 340.6 1505.3 344.6 1502.3 348.6 1499.6 352.6 1497.3 356.7 1495.3 360.7 1493.7 364.7 1492.5 368.7 1491.6 372.8 1491.1 376.8 1490.9 380.8 1491.0 384.9 1491.1 388.9 1491.4 392.9 1491.8 396.9 1492.3 401.0 1492.9 405.0 1493.6 409.0 1494.4 413.0 1495.3 417.1 1496.3 421.1 1497.4 425.1 1498.5 429.1 1499.8 433.2 1501.0 437.2 1502.4 441.2 1503.8 445.2 1505.2 449.3 1506.6 453.3 1508.1 457.3 1509.6 461.3 1511.1 465.4 1512.6 469.4 1514.2 473.4 1515.7 477.4 1517.2 481.5 1518.7 485.5 1520.2 489.5 1521.7 493.5 1523.2 497.6 1524.7 501.6 1526.1 505.6 1527.5 509.6 1528.9 513.7 1530.3 517.7 1531.6 521.7 1532.9 525.7 1534.2 529.8 1535.4 533.8 1536.6 537.8 1537.8 541.8 1538.9 545.9 1540.0 549.9 1541.1 553.9 1542.2 558.0 1543.2 562.0 1544.2 566.0 1545.1 570.0 1546.1 574.1 1547.0 578.1 1547.8 582.1 1548.7 586.1 1549.5 590.2 1550.3 594.2 1551.1 598.2 1551.8 602.2 1552.5 606.3 1553.2 610.3 1553.9 614.3 1554.5 618.3 1555.2 622.4 1555.8 626.4 1556.4 630.4 1556.9 634.4 1557.5 638.5 1558.0 642.5 1558.5 646.5 1559.0 650.5 1559.5 654.6 1560.0 658.6 1560.4 662.6 1560.9 666.6 1561.3 670.7 1561.7 674.7 1562.1 678.7 1562.5 682.7 1562.9 686.8 1563.3 690.8 1563.6 694.8 1564.0 698.8 1564.3 702.9 1564.6 706.9 1564.9 710.9 1565.3 714.9 1565.5 719.0 1565.8 723.0 1566.1 727.0 1566.4 731.0 1566.7 735.1 1566.9 739.1 1567.2 743.1 1567.4 747.2 1567.6 751.2 1567.9 755.2 1568.1 759.2 1568.3 763.3 1568.5 767.3 1568.7 771.3 1568.9 775.3 1569.1 779.4 1569.3 783.4 1569.5 787.4 1569.6 791.4 1569.7 795.5 1569.8 799.5 1569.7 803.5 1569.6 807.5 1569.1 811.6 1568.4 815.6 1567.0 819.6 1564.9 823.6 1561.7 827.7 1557.1 831.7 1550.8 835.7 1542.4 839.7 1531.9 843.8 1519.1 847.8 1504.3 851.8 1488.0 855.8 1470.9 859.9 1454.2 863.9 1439.0 867.9 1426.5 871.9 1417.8 876.0 1413.7 880.0 1414.6 884.0 1420.5 888.0 1430.7 892.1 1444.5 896.1 1460.5 900.1 1477.7 904.1 1494.7 908.2 1510.8 912.2 1525.2 916.2 1537.4 920.3 1547.3 924.3 1555.1 928.3 1560.8 932.3 1564.8 936.4 1567.3 940.4 1568.8 944.4 1569.7 948.4 1570.2 952.5 1570.5 956.5 1570.8 960.5 1571.0 964.5 1571.1 968.6 1571.2 972.6 1571.3 976.6 1571.4 980.6 1571.5 984.7 1571.6 988.7 1571.7 992.7 1571.7 996.7 1571.8 1000.8 1571.9 1004.8 1571.9 1008.8 1572.0 1012.8 1572.1 1016.9 1572.1 1020.9 1572.2 1024.9 1572.2 1028.9 1572.3 1033.0 1572.4 1037.0 1572.4 1041.0 1572.5 1045.0 1572.5 1049.1 1572.6 1053.1 1572.6 1057.1 1572.7 1061.1 1572.7 1065.2 1572.8 1069.2 1572.8 1073.2 1572.9 1077.2 1572.9 1081.3 1573.0 1085.3 1573.0 1089.3 1573.1 1093.4 1573.1 1097.4 1573.1 1101.4 1573.2 1105.4 1573.2 1109.5 1573.3 1113.5 1573.3 1117.5 1573.3 1121.5 1573.4 1125.6 1573.4 1129.6 1573.4 1133.6 1573.5 1137.6 1573.5" fill="none" stroke="#44e044" stroke-width="2.9" stroke-linejoin="round"/>
<path d="M203.7 1575.4 207.7 1575.4 211.8 1575.4 215.8 1575.4 219.8 1575.4 223.8 1575.3 227.9 1575.2 231.9 1575.1 235.9 1574.8 239.9 1574.4 244.0 1573.9 248.0 1573.2 252.0 1572.3 256.0 1571.1 260.1 1569.6 264.1 1567.8 268.1 1565.6 272.1 1563.1 276.2 1560.2 280.2 1557.0 284.2 1553.4 288.2 1549.5 292.3 1545.3 296.3 1540.8 300.3 1536.0 304.3 1531.1 308.4 1526.1 312.4 1520.9 316.4 1515.7 320.4 1510.6 324.5 1505.6 328.5 1500.6 332.5 1495.9 336.5 1491.5 340.6 1487.4 344.6 1483.6 348.6 1480.3 352.6 1477.3 356.7 1474.9 360.7 1472.9 364.7 1471.4 368.7 1470.3 372.8 1469.7 376.8 1469.5 380.8 1469.5 384.9 1469.7 388.9 1470.0 392.9 1470.5 396.9 1471.1 401.0 1471.9 405.0 1472.8 409.0 1473.8 413.0 1474.9 417.1 1476.2 421.1 1477.5 425.1 1479.0 429.1 1480.5 433.2 1482.1 437.2 1483.8 441.2 1485.5 445.2 1487.3 449.3 1489.1 453.3 1490.9 457.3 1492.8 461.3 1494.7 465.4 1496.6 469.4 1498.5 473.4 1500.4 477.4 1502.3 481.5 1504.2 485.5 1506.1 489.5 1508.0 493.5 1509.8 497.6 1511.6 501.6 1513.4 505.6 1515.2 509.6 1516.9 513.7 1518.6 517.7 1520.3 521.7 1521.9 525.7 1523.5 529.8 1525.0 533.8 1526.5 537.8 1528.0 541.8 1529.4 545.9 1530.8 549.9 1532.2 553.9 1533.5 558.0 1534.8 562.0 1536.0 566.0 1537.2 570.0 1538.4 574.1 1539.5 578.1 1540.6 582.1 1541.7 586.1 1542.7 590.2 1543.7 594.2 1544.6 598.2 1545.6 602.2 1546.5 606.3 1547.3 610.3 1548.2 614.3 1549.0 618.3 1549.8 622.4 1550.5 626.4 1551.3 630.4 1552.0 634.4 1552.7 638.5 1553.4 642.5 1554.0 646.5 1554.6 650.5 1555.2 654.6 1555.8 658.6 1556.4 662.6 1557.0 666.6 1557.5 670.7 1558.0 674.7 1558.5 678.7 1559.0 682.7 1559.5 686.8 1560.0 690.8 1560.4 694.8 1560.8 698.8 1561.3 702.9 1561.7 706.9 1562.1 710.9 1562.5 714.9 1562.8 719.0 1563.2 723.0 1563.6 727.0 1563.9 731.0 1564.2 735.1 1564.6 739.1 1564.9 743.1 1565.2 747.2 1565.5 751.2 1565.8 755.2 1566.0 759.2 1566.3 763.3 1566.6 767.3 1566.8 771.3 1567.1 775.3 1567.3 779.4 1567.6 783.4 1567.8 787.4 1568.0 791.4 1568.1 795.5 1568.2 799.5 1568.2 803.5 1568.1 807.5 1567.7 811.6 1566.9 815.6 1565.6 819.6 1563.5 823.6 1560.3 827.7 1555.7 831.7 1549.3 835.7 1540.9 839.7 1530.2 843.8 1517.2 847.8 1502.3 851.8 1485.8 855.8 1468.5 859.9 1451.6 863.9 1436.2 867.9 1423.5 871.9 1414.7 876.0 1410.6 880.0 1411.6 884.0 1417.5 888.0 1428.0 892.1 1441.9 896.1 1458.2 900.1 1475.6 904.1 1492.9 908.2 1509.2 912.2 1523.8 916.2 1536.2 920.3 1546.3 924.3 1554.1 928.3 1559.9 932.3 1564.0 936.4 1566.5 940.4 1568.0 944.4 1568.9 948.4 1569.4 952.5 1569.8 956.5 1570.1 960.5 1570.3 964.5 1570.4 968.6 1570.6 972.6 1570.7 976.6 1570.8 980.6 1570.9 984.7 1571.0 988.7 1571.0 992.7 1571.1 996.7 1571.2 1000.8 1571.3 1004.8 1571.4 1008.8 1571.4 1012.8 1571.5 1016.9 1571.6 1020.9 1571.7 1024.9 1571.7 1028.9 1571.8 1033.0 1571.9 1037.0 1571.9 1041.0 1572.0 1045.0 1572.1 1049.1 1572.1 1053.1 1572.2 1057.1 1572.2 1061.1 1572.3 1065.2 1572.3 1069.2 1572.4 1073.2 1572.5 1077.2 1572.5 1081.3 1572.6 1085.3 1572.6 1089.3 1572.7 1093.4 1572.7 1097.4 1572.8 1101.4 1572.8 1105.4 1572.8 1109.5 1572.9 1113.5 1572.9 1117.5 1573.0 1121.5 1573.0 1125.6 1573.1 1129.6 1573.1 1133.6 1573.1 1137.6 1573.2" fill="none" stroke="#22cc66" stroke-width="2.9" stroke-linejoin="round"/>
<path d="M203.7 1575.2 207.7 1575.2 211.8 1575.2 215.8 1575.2 219.8 1575.1 223.8 1575.1 227.9 1575.0 231.9 1574.9 235.9 1574.7 239.9 1574.4 244.0 1573.9 248.0 1573.2 252.0 1572.3 256.0 1571.0 260.1 1569.4 264.1 1567.4 268.1 1564.9 272.1 1561.9 276.2 1558.5 280.2 1554.5 284.2 1550.0 288.2 1545.0 292.3 1539.5 296.3 1533.6 300.3 1527.2 304.3 1520.6 308.4 1513.6 312.4 1506.4 316.4 1499.1 320.4 1491.8 324.5 1484.4 328.5 1477.1 332.5 1470.1 336.5 1463.3 340.6 1456.8 344.6 1450.8 348.6 1445.3 352.6 1440.3 356.7 1435.9 360.7 1432.2 364.7 1429.2 368.7 1426.8 372.8 1425.1 376.8 1424.0 380.8 1423.5 384.9 1423.4 388.9 1423.6 392.9 1424.0 396.9 1424.6 401.0 1425.5 405.0 1426.5 409.0 1427.7 413.0 1429.1 417.1 1430.7 421.1 1432.5 425.1 1434.4 429.1 1436.4 433.2 1438.5 437.2 1440.8 441.2 1443.1 445.2 1445.6 449.3 1448.1 453.3 1450.7 457.3 1453.3 461.3 1455.9 465.4 1458.6 469.4 1461.3 473.4 1464.0 477.4 1466.7 481.5 1469.5 485.5 1472.2 489.5 1474.8 493.5 1477.5 497.6 1480.1 501.6 1482.7 505.6 1485.3 509.6 1487.8 513.7 1490.3 517.7 1492.7 521.7 1495.1 525.7 1497.4 529.8 1499.7 533.8 1501.9 537.8 1504.1 541.8 1506.2 545.9 1508.2 549.9 1510.3 553.9 1512.2 558.0 1514.1 562.0 1515.9 566.0 1517.7 570.0 1519.5 574.1 1521.1 578.1 1522.8 582.1 1524.4 586.1 1525.9 590.2 1527.4 594.2 1528.8 598.2 1530.2 602.2 1531.6 606.3 1532.9 610.3 1534.1 614.3 1535.4 618.3 1536.5 622.4 1537.7 626.4 1538.8 630.4 1539.9 634.4 1540.9 638.5 1541.9 642.5 1542.9 646.5 1543.9 650.5 1544.8 654.6 1545.7 658.6 1546.5 662.6 1547.4 666.6 1548.2 670.7 1549.0 674.7 1549.7 678.7 1550.5 682.7 1551.2 686.8 1551.9 690.8 1552.6 694.8 1553.2 698.8 1553.9 702.9 1554.5 706.9 1555.1 710.9 1555.7 714.9 1556.2 719.0 1556.8 723.0 1557.3 727.0 1557.8 731.0 1558.3 735.1 1558.8 739.1 1559.3 743.1 1559.8 747.2 1560.2 751.2 1560.6 755.2 1561.1 759.2 1561.5 763.3 1561.9 767.3 1562.3 771.3 1562.6 775.3 1563.0 779.4 1563.3 783.4 1563.7 787.4 1564.0 791.4 1564.2 795.5 1564.4 799.5 1564.6 803.5 1564.5 807.5 1564.2 811.6 1563.5 815.6 1562.3 819.6 1560.3 823.6 1557.2 827.7 1552.6 831.7 1546.3 835.7 1538.0 839.7 1527.4 843.8 1514.5 847.8 1499.6 851.8 1483.1 855.8 1465.9 859.9 1449.0 863.9 1433.7 867.9 1421.1 871.9 1412.4 876.0 1408.3 880.0 1409.3 884.0 1415.3 888.0 1425.8 892.1 1439.8 896.1 1456.2 900.1 1473.6 904.1 1491.0 908.2 1507.4 912.2 1522.0 916.2 1534.4 920.3 1544.6 924.3 1552.5 928.3 1558.3 932.3 1562.3 936.4 1564.9 940.4 1566.4 944.4 1567.2 948.4 1567.7 952.5 1568.1 956.5 1568.4 960.5 1568.6 964.5 1568.8 968.6 1569.0 972.6 1569.1 976.6 1569.3 980.6 1569.4 984.7 1569.5 988.7 1569.6 992.7 1569.7 996.7 1569.8 1000.8 1569.9 1004.8 1570.1 1008.8 1570.2 1012.8 1570.3 1016.9 1570.3 1020.9 1570.4 1024.9 1570.5 1028.9 1570.6 1033.0 1570.7 1037.0 1570.8 1041.0 1570.9 1045.0 1571.0 1049.1 1571.0 1053.1 1571.1 1057.1 1571.2 1061.1 1571.3 1065.2 1571.4 1069.2 1571.4 1073.2 1571.5 1077.2 1571.6 1081.3 1571.6 1085.3 1571.7 1089.3 1571.8 1093.4 1571.8 1097.4 1571.9 1101.4 1571.9 1105.4 1572.0 1109.5 1572.1 1113.5 1572.1 1117.5 1572.2 1121.5 1572.2 1125.6 1572.3 1129.6 1572.3 1133.6 1572.4 1137.6 1572.4" fill="none" stroke="#bbbb11" stroke-width="2.9" stroke-linejoin="round"/>
<path d="M203.7 1574.9 207.7 1574.9 211.8 1574.9 215.8 1574.9 219.8 1574.9 223.8 1574.9 227.9 1574.8 231.9 1574.7 235.9 1574.5 239.9 1574.2 244.0 1573.7 248.0 1573.0 252.0 1572.0 256.0 1570.6 260.1 1568.9 264.1 1566.6 268.1 1563.8 272.1 1560.4 276.2 1556.4 280.2 1551.7 284.2 1546.4 288.2 1540.4 292.3 1533.8 296.3 1526.6 300.3 1518.9 304.3 1510.7 308.4 1502.1 312.4 1493.1 316.4 1484.0 320.4 1474.6 324.5 1465.3 328.5 1456.0 332.5 1446.9 336.5 1438.0 340.6 1429.5 344.6 1421.6 348.6 1414.1 352.6 1407.4 356.7 1401.4 360.7 1396.1 364.7 1391.7 368.7 1388.1 372.8 1385.4 376.8 1383.5 380.8 1382.4 384.9 1382.0 388.9 1382.1 392.9 1382.4 396.9 1383.0 401.0 1383.9 405.0 1385.0 409.0 1386.4 413.0 1388.1 417.1 1389.9 421.1 1392.0 425.1 1394.3 429.1 1396.8 433.2 1399.4 437.2 1402.2 441.2 1405.1 445.2 1408.1 449.3 1411.2 453.3 1414.4 457.3 1417.7 461.3 1421.1 465.4 1424.4 469.4 1427.8 473.4 1431.3 477.4 1434.7 481.5 1438.1 485.5 1441.6 489.5 1445.0 493.5 1448.3 497.6 1451.7 501.6 1455.0 505.6 1458.2 509.6 1461.5 513.7 1464.6 517.7 1467.7 521.7 1470.8 525.7 1473.8 529.8 1476.7 533.8 1479.5 537.8 1482.3 541.8 1485.1 545.9 1487.7 549.9 1490.3 553.9 1492.8 558.0 1495.3 562.0 1497.6 566.0 1500.0 570.0 1502.2 574.1 1504.4 578.1 1506.5 582.1 1508.6 586.1 1510.5 590.2 1512.5 594.2 1514.3 598.2 1516.2 602.2 1517.9 606.3 1519.6 610.3 1521.3 614.3 1522.9 618.3 1524.4 622.4 1525.9 626.4 1527.4 630.4 1528.8 634.4 1530.1 638.5 1531.5 642.5 1532.7 646.5 1534.0 650.5 1535.2 654.6 1536.4 658.6 1537.5 662.6 1538.6 666.6 1539.6 670.7 1540.7 674.7 1541.7 678.7 1542.7 682.7 1543.6 686.8 1544.5 690.8 1545.4 694.8 1546.3 698.8 1547.1 702.9 1547.9 706.9 1548.7 710.9 1549.4 714.9 1550.2 719.0 1550.9 723.0 1551.6 727.0 1552.3 731.0 1552.9 735.1 1553.6 739.1 1554.2 743.1 1554.8 747.2 1555.4 751.2 1556.0 755.2 1556.5 759.2 1557.0 763.3 1557.6 767.3 1558.1 771.3 1558.6 775.3 1559.0 779.4 1559.5 783.4 1559.9 787.4 1560.3 791.4 1560.7 795.5 1561.0 799.5 1561.2 803.5 1561.3 807.5 1561.1 811.6 1560.5 815.6 1559.3 819.6 1557.4 823.6 1554.3 827.7 1549.8 831.7 1543.6 835.7 1535.3 839.7 1524.7 843.8 1511.9 847.8 1497.0 851.8 1480.6 855.8 1463.4 859.9 1446.6 863.9 1431.2 867.9 1418.7 871.9 1410.0 876.0 1406.0 880.0 1407.1 884.0 1413.1 888.0 1423.7 892.1 1437.7 896.1 1454.2 900.1 1471.7 904.1 1489.2 908.2 1505.6 912.2 1520.3 916.2 1532.8 920.3 1543.0 924.3 1550.9 928.3 1556.8 932.3 1560.8 936.4 1563.4 940.4 1564.8 944.4 1565.7 948.4 1566.2 952.5 1566.6 956.5 1566.9 960.5 1567.2 964.5 1567.4 968.6 1567.6 972.6 1567.7 976.6 1567.9 980.6 1568.0 984.7 1568.2 988.7 1568.3 992.7 1568.5 996.7 1568.6 1000.8 1568.7 1004.8 1568.9 1008.8 1569.0 1012.8 1569.1 1016.9 1569.2 1020.9 1569.4 1024.9 1569.5 1028.9 1569.6 1033.0 1569.7 1037.0 1569.8 1041.0 1569.9 1045.0 1570.0 1049.1 1570.1 1053.1 1570.2 1057.1 1570.3 1061.1 1570.4 1065.2 1570.5 1069.2 1570.5 1073.2 1570.6 1077.2 1570.7 1081.3 1570.8 1085.3 1570.9 1089.3 1571.0 1093.4 1571.0 1097.4 1571.1 1101.4 1571.2 1105.4 1571.2 1109.5 1571.3 1113.5 1571.4 1117.5 1571.4 1121.5 1571.5 1125.6 1571.6 1129.6 1571.6 1133.6 1571.7 1137.6 1571.8" fill="none" stroke="#ffff00" stroke-width="2.9" stroke-linejoin="round"/>
<path d="M203.7 1574.6 207.7 1574.6 211.8 1574.6 215.8 1574.6 219.8 1574.5 223.8 1574.5 227.9 1574.4 231.9 1574.3 235.9 1574.0 239.9 1573.6 244.0 1572.9 248.0 1572.0 252.0 1570.7 256.0 1568.9 260.1 1566.6 264.1 1563.6 268.1 1559.9 272.1 1555.5 276.2 1550.2 280.2 1544.1 284.2 1537.2 288.2 1529.4 292.3 1520.9 296.3 1511.6 300.3 1501.6 304.3 1491.0 308.4 1479.8 312.4 1468.3 316.4 1456.5 320.4 1444.5 324.5 1432.5 328.5 1420.6 332.5 1408.9 336.5 1397.6 340.6 1386.7 344.6 1376.5 348.6 1367.0 352.6 1358.4 356.7 1350.7 360.7 1344.0 364.7 1338.4 368.7 1333.8 372.8 1330.4 376.8 1328.0 380.8 1326.5 384.9 1326.0 388.9 1326.1 392.9 1326.5 396.9 1327.3 401.0 1328.4 405.0 1329.9 409.0 1331.7 413.0 1333.8 417.1 1336.3 421.1 1339.0 425.1 1341.9 429.1 1345.1 433.2 1348.5 437.2 1352.1 441.2 1355.8 445.2 1359.7 449.3 1363.7 453.3 1367.8 457.3 1372.0 461.3 1376.3 465.4 1380.7 469.4 1385.0 473.4 1389.4 477.4 1393.8 481.5 1398.2 485.5 1402.6 489.5 1406.9 493.5 1411.2 497.6 1415.5 501.6 1419.7 505.6 1423.9 509.6 1428.0 513.7 1432.0 517.7 1436.0 521.7 1439.9 525.7 1443.7 529.8 1447.5 533.8 1451.1 537.8 1454.7 541.8 1458.2 545.9 1461.6 549.9 1464.9 553.9 1468.1 558.0 1471.3 562.0 1474.3 566.0 1477.3 570.0 1480.2 574.1 1483.0 578.1 1485.7 582.1 1488.3 586.1 1490.9 590.2 1493.4 594.2 1495.8 598.2 1498.2 602.2 1500.4 606.3 1502.6 610.3 1504.8 614.3 1506.8 618.3 1508.8 622.4 1510.8 626.4 1512.7 630.4 1514.5 634.4 1516.3 638.5 1518.0 642.5 1519.7 646.5 1521.3 650.5 1522.8 654.6 1524.4 658.6 1525.8 662.6 1527.3 666.6 1528.7 670.7 1530.0 674.7 1531.3 678.7 1532.6 682.7 1533.8 686.8 1535.0 690.8 1536.1 694.8 1537.3 698.8 1538.4 702.9 1539.4 706.9 1540.4 710.9 1541.4 714.9 1542.4 719.0 1543.4 723.0 1544.3 727.0 1545.1 731.0 1546.0 735.1 1546.8 739.1 1547.7 743.1 1548.4 747.2 1549.2 751.2 1549.9 755.2 1550.7 759.2 1551.4 763.3 1552.0 767.3 1552.7 771.3 1553.3 775.3 1554.0 779.4 1554.6 783.4 1555.1 787.4 1555.7 791.4 1556.2 795.5 1556.6 799.5 1556.9 803.5 1557.1 807.5 1557.0 811.6 1556.5 815.6 1555.4 819.6 1553.5 823.6 1550.5 827.7 1546.0 831.7 1539.7 835.7 1531.3 839.7 1520.6 843.8 1507.6 847.8 1492.4 851.8 1475.7 855.8 1458.2 859.9 1441.1 863.9 1425.5 867.9 1412.7 871.9 1403.9 876.0 1399.8 880.0 1401.0 884.0 1407.3 888.0 1418.1 892.1 1432.5 896.1 1449.4 900.1 1467.4 904.1 1485.3 908.2 1502.1 912.2 1517.2 916.2 1530.0 920.3 1540.5 924.3 1548.6 928.3 1554.6 932.3 1558.8 936.4 1561.4 940.4 1562.8 944.4 1563.6 948.4 1564.2 952.5 1564.6 956.5 1564.9 960.5 1565.2 964.5 1565.5 968.6 1565.7 972.6 1565.9 976.6 1566.1 980.6 1566.3 984.7 1566.5 988.7 1566.7 992.7 1566.8 996.7 1567.0 1000.8 1567.2 1004.8 1567.3 1008.8 1567.5 1012.8 1567.6 1016.9 1567.8 1020.9 1567.9 1024.9 1568.1 1028.9 1568.2 1033.0 1568.3 1037.0 1568.5 1041.0 1568.6 1045.0 1568.7 1049.1 1568.8 1053.1 1569.0 1057.1 1569.1 1061.1 1569.2 1065.2 1569.3 1069.2 1569.4 1073.2 1569.5 1077.2 1569.6 1081.3 1569.7 1085.3 1569.8 1089.3 1569.9 1093.4 1570.0 1097.4 1570.1 1101.4 1570.2 1105.4 1570.3 1109.5 1570.3 1113.5 1570.4 1117.5 1570.5 1121.5 1570.6 1125.6 1570.7 1129.6 1570.7 1133.6 1570.8 1137.6 1570.9" fill="none" stroke="#ff8822" stroke-width="2.9" stroke-linejoin="round"/>
<path d="M203.7 1573.9 207.7 1573.9 211.8 1573.9 215.8 1573.9 219.8 1573.8 223.8 1573.7 227.9 1573.5 231.9 1573.2 235.9 1572.6 239.9 1571.8 244.0 1570.5 248.0 1568.7 252.0 1566.3 256.0 1563.0 260.1 1558.9 264.1 1553.8 268.1 1547.6 272.1 1540.2 276.2 1531.6 280.2 1521.9 284.2 1510.9 288.2 1498.8 292.3 1485.6 296.3 1471.4 300.3 1456.3 304.3 1440.5 308.4 1424.1 312.4 1407.3 316.4 1390.2 320.4 1373.0 324.5 1355.9 328.5 1339.2 332.5 1322.9 336.5 1307.2 340.6 1292.4 344.6 1278.6 348.6 1266.0 352.6 1254.6 356.7 1244.7 360.7 1236.2 364.7 1229.3 368.7 1223.9 372.8 1220.0 376.8 1217.6 380.8 1216.4 384.9 1216.3 388.9 1216.7 392.9 1217.7 396.9 1219.2 401.0 1221.2 405.0 1223.7 409.0 1226.6 413.0 1230.0 417.1 1233.8 421.1 1238.0 425.1 1242.5 429.1 1247.3 433.2 1252.3 437.2 1257.7 441.2 1263.2 445.2 1268.9 449.3 1274.7 453.3 1280.7 457.3 1286.8 461.3 1292.9 465.4 1299.1 469.4 1305.4 473.4 1311.6 477.4 1317.9 481.5 1324.1 485.5 1330.2 489.5 1336.4 493.5 1342.5 497.6 1348.5 501.6 1354.4 505.6 1360.2 509.6 1366.0 513.7 1371.6 517.7 1377.2 521.7 1382.6 525.7 1387.9 529.8 1393.2 533.8 1398.3 537.8 1403.3 541.8 1408.1 545.9 1412.9 549.9 1417.5 553.9 1422.0 558.0 1426.4 562.0 1430.7 566.0 1434.9 570.0 1438.9 574.1 1442.9 578.1 1446.7 582.1 1450.5 586.1 1454.1 590.2 1457.6 594.2 1461.0 598.2 1464.3 602.2 1467.6 606.3 1470.7 610.3 1473.7 614.3 1476.7 618.3 1479.5 622.4 1482.3 626.4 1485.0 630.4 1487.6 634.4 1490.2 638.5 1492.6 642.5 1495.0 646.5 1497.3 650.5 1499.6 654.6 1501.8 658.6 1503.9 662.6 1505.9 666.6 1507.9 670.7 1509.9 674.7 1511.8 678.7 1513.6 682.7 1515.4 686.8 1517.1 690.8 1518.7 694.8 1520.4 698.8 1521.9 702.9 1523.5 706.9 1525.0 710.9 1526.4 714.9 1527.8 719.0 1529.2 723.0 1530.5 727.0 1531.8 731.0 1533.0 735.1 1534.2 739.1 1535.4 743.1 1536.5 747.2 1537.6 751.2 1538.7 755.2 1539.7 759.2 1540.7 763.3 1541.7 767.3 1542.7 771.3 1543.6 775.3 1544.5 779.4 1545.3 783.4 1546.2 787.4 1547.0 791.4 1547.7 795.5 1548.3 799.5 1548.9 803.5 1549.2 807.5 1549.2 811.6 1548.8 815.6 1547.8 819.6 1545.8 823.6 1542.5 827.7 1537.7 831.7 1530.7 835.7 1521.5 839.7 1509.6 843.8 1495.1 847.8 1478.3 851.8 1459.7 855.8 1440.2 859.9 1421.1 863.9 1403.7 867.9 1389.5 871.9 1379.7 876.0 1375.3 880.0 1376.7 884.0 1383.8 888.0 1396.0 892.1 1412.2 896.1 1431.2 900.1 1451.4 904.1 1471.6 908.2 1490.5 912.2 1507.5 916.2 1521.9 920.3 1533.7 924.3 1542.8 928.3 1549.6 932.3 1554.3 936.4 1557.2 940.4 1558.8 944.4 1559.7 948.4 1560.3 952.5 1560.8 956.5 1561.2 960.5 1561.6 964.5 1562.0 968.6 1562.3 972.6 1562.5 976.6 1562.8 980.6 1563.1 984.7 1563.3 988.7 1563.6 992.7 1563.8 996.7 1564.0 1000.8 1564.2 1004.8 1564.4 1008.8 1564.7 1012.8 1564.9 1016.9 1565.1 1020.9 1565.3 1024.9 1565.4 1028.9 1565.6 1033.0 1565.8 1037.0 1566.0 1041.0 1566.2 1045.0 1566.3 1049.1 1566.5 1053.1 1566.6 1057.1 1566.8 1061.1 1566.9 1065.2 1567.1 1069.2 1567.2 1073.2 1567.4 1077.2 1567.5 1081.3 1567.6 1085.3 1567.8 1089.3 1567.9 1093.4 1568.0 1097.4 1568.1 1101.4 1568.3 1105.4 1568.4 1109.5 1568.5 1113.5 1568.6 1117.5 1568.7 1121.5 1568.8 1125.6 1568.9 1129.6 1569.0 1133.6 1569.1 1137.6 1569.2" fill="none" stroke="#cc3311" stroke-width="2.9" stroke-linejoin="round"/>
<path d="M203.7 1573.5 207.7 1573.5 211.8 1573.5 215.8 1573.5 219.8 1573.5 223.8 1573.4 227.9 1573.2 231.9 1572.9 235.9 1572.4 239.9 1571.6 244.0 1570.4 248.0 1568.7 252.0 1566.2 256.0 1563.0 260.1 1558.7 264.1 1553.4 268.1 1546.7 272.1 1538.8 276.2 1529.5 280.2 1518.7 284.2 1506.6 288.2 1493.0 292.3 1478.2 296.3 1462.1 300.3 1444.9 304.3 1426.8 308.4 1407.8 312.4 1388.3 316.4 1368.3 320.4 1348.1 324.5 1327.9 328.5 1308.0 332.5 1288.4 336.5 1269.5 340.6 1251.5 344.6 1234.6 348.6 1218.8 352.6 1204.6 356.7 1191.8 360.7 1180.8 364.7 1171.5 368.7 1164.0 372.8 1158.3 376.8 1154.3 380.8 1152.0 384.9 1151.1 388.9 1151.2 392.9 1151.9 396.9 1153.3 401.0 1155.3 405.0 1157.9 409.0 1161.0 413.0 1164.7 417.1 1168.9 421.1 1173.5 425.1 1178.6 429.1 1184.1 433.2 1189.9 437.2 1196.0 441.2 1202.4 445.2 1209.0 449.3 1215.8 453.3 1222.7 457.3 1229.8 461.3 1237.0 465.4 1244.2 469.4 1251.5 473.4 1258.9 477.4 1266.2 481.5 1273.5 485.5 1280.7 489.5 1288.0 493.5 1295.1 497.6 1302.2 501.6 1309.2 505.6 1316.1 509.6 1322.9 513.7 1329.6 517.7 1336.1 521.7 1342.6 525.7 1348.9 529.8 1355.1 533.8 1361.2 537.8 1367.1 541.8 1372.9 545.9 1378.6 549.9 1384.1 553.9 1389.5 558.0 1394.8 562.0 1399.9 566.0 1404.9 570.0 1409.7 574.1 1414.5 578.1 1419.1 582.1 1423.6 586.1 1427.9 590.2 1432.2 594.2 1436.3 598.2 1440.3 602.2 1444.2 606.3 1448.0 610.3 1451.6 614.3 1455.2 618.3 1458.7 622.4 1462.0 626.4 1465.3 630.4 1468.5 634.4 1471.6 638.5 1474.6 642.5 1477.5 646.5 1480.3 650.5 1483.0 654.6 1485.7 658.6 1488.3 662.6 1490.8 666.6 1493.2 670.7 1495.6 674.7 1497.9 678.7 1500.1 682.7 1502.3 686.8 1504.4 690.8 1506.4 694.8 1508.4 698.8 1510.3 702.9 1512.2 706.9 1514.0 710.9 1515.8 714.9 1517.5 719.0 1519.1 723.0 1520.7 727.0 1522.3 731.0 1523.8 735.1 1525.3 739.1 1526.7 743.1 1528.1 747.2 1529.5 751.2 1530.8 755.2 1532.0 759.2 1533.3 763.3 1534.5 767.3 1535.6 771.3 1536.7 775.3 1537.8 779.4 1538.9 783.4 1539.9 787.4 1540.9 791.4 1541.8 795.5 1542.6 799.5 1543.3 803.5 1543.7 807.5 1543.9 811.6 1543.6 815.6 1542.6 819.6 1540.7 823.6 1537.4 827.7 1532.5 831.7 1525.4 835.7 1515.9 839.7 1503.7 843.8 1488.8 847.8 1471.4 851.8 1452.2 855.8 1432.2 859.9 1412.4 863.9 1394.5 867.9 1379.8 871.9 1369.8 876.0 1365.3 880.0 1366.8 884.0 1374.2 888.0 1387.0 892.1 1403.9 896.1 1423.6 900.1 1444.6 904.1 1465.6 908.2 1485.2 912.2 1502.9 916.2 1517.9 920.3 1530.1 924.3 1539.7 928.3 1546.7 932.3 1551.6 936.4 1554.6 940.4 1556.2 944.4 1557.2 948.4 1557.8 952.5 1558.4 956.5 1558.8 960.5 1559.3 964.5 1559.6 968.6 1560.0 972.6 1560.3 976.6 1560.6 980.6 1560.9 984.7 1561.2 988.7 1561.5 992.7 1561.8 996.7 1562.1 1000.8 1562.3 1004.8 1562.6 1008.8 1562.8 1012.8 1563.1 1016.9 1563.3 1020.9 1563.5 1024.9 1563.8 1028.9 1564.0 1033.0 1564.2 1037.0 1564.4 1041.0 1564.6 1045.0 1564.8 1049.1 1565.0 1053.1 1565.2 1057.1 1565.3 1061.1 1565.5 1065.2 1565.7 1069.2 1565.9 1073.2 1566.0 1077.2 1566.2 1081.3 1566.3 1085.3 1566.5 1089.3 1566.6 1093.4 1566.8 1097.4 1566.9 1101.4 1567.1 1105.4 1567.2 1109.5 1567.3 1113.5 1567.5 1117.5 1567.6 1121.5 1567.7 1125.6 1567.8 1129.6 1567.9 1133.6 1568.0 1137.6 1568.2" fill="none" stroke="#ff4040" stroke-width="2.9" stroke-linejoin="round"/>
<path d="M203.7 1573.0 207.7 1573.0 211.8 1572.9 215.8 1572.9 219.8 1572.9 223.8 1572.8 227.9 1572.6 231.9 1572.3 235.9 1571.7 239.9 1570.8 244.0 1569.5 248.0 1567.5 252.0 1564.7 256.0 1560.9 260.1 1555.9 264.1 1549.6 268.1 1541.8 272.1 1532.4 276.2 1521.2 280.2 1508.4 284.2 1493.8 288.2 1477.5 292.3 1459.6 296.3 1440.2 300.3 1419.5 304.3 1397.5 308.4 1374.6 312.4 1350.9 316.4 1326.6 320.4 1302.0 324.5 1277.4 328.5 1253.0 332.5 1229.0 336.5 1205.8 340.6 1183.6 344.6 1162.6 348.6 1143.1 352.6 1125.2 356.7 1109.2 360.7 1095.2 364.7 1083.3 368.7 1073.5 372.8 1065.9 376.8 1060.4 380.8 1057.0 384.9 1055.4 388.9 1055.2 392.9 1055.9 396.9 1057.3 401.0 1059.5 405.0 1062.5 409.0 1066.2 413.0 1070.6 417.1 1075.6 421.1 1081.1 425.1 1087.3 429.1 1093.9 433.2 1100.9 437.2 1108.3 441.2 1116.0 445.2 1124.1 449.3 1132.3 453.3 1140.8 457.3 1149.4 461.3 1158.1 465.4 1166.9 469.4 1175.8 473.4 1184.7 477.4 1193.6 481.5 1202.4 485.5 1211.2 489.5 1220.0 493.5 1228.7 497.6 1237.3 501.6 1245.8 505.6 1254.1 509.6 1262.4 513.7 1270.5 517.7 1278.5 521.7 1286.3 525.7 1294.0 529.8 1301.6 533.8 1308.9 537.8 1316.2 541.8 1323.2 545.9 1330.2 549.9 1336.9 553.9 1343.5 558.0 1350.0 562.0 1356.2 566.0 1362.4 570.0 1368.4 574.1 1374.2 578.1 1379.9 582.1 1385.4 586.1 1390.8 590.2 1396.0 594.2 1401.1 598.2 1406.1 602.2 1410.9 606.3 1415.6 610.3 1420.2 614.3 1424.6 618.3 1429.0 622.4 1433.2 626.4 1437.2 630.4 1441.2 634.4 1445.1 638.5 1448.8 642.5 1452.5 646.5 1456.0 650.5 1459.4 654.6 1462.8 658.6 1466.0 662.6 1469.2 666.6 1472.2 670.7 1475.2 674.7 1478.1 678.7 1480.9 682.7 1483.6 686.8 1486.3 690.8 1488.8 694.8 1491.3 698.8 1493.8 702.9 1496.1 706.9 1498.4 710.9 1500.6 714.9 1502.8 719.0 1504.9 723.0 1506.9 727.0 1508.9 731.0 1510.8 735.1 1512.6 739.1 1514.4 743.1 1516.2 747.2 1517.9 751.2 1519.5 755.2 1521.1 759.2 1522.7 763.3 1524.2 767.3 1525.6 771.3 1527.0 775.3 1528.4 779.4 1529.7 783.4 1531.0 787.4 1532.2 791.4 1533.4 795.5 1534.4 799.5 1535.3 803.5 1536.0 807.5 1536.3 811.6 1536.1 815.6 1535.1 819.6 1533.0 823.6 1529.5 827.7 1524.0 831.7 1516.2 835.7 1505.6 839.7 1492.0 843.8 1475.4 847.8 1456.1 851.8 1434.6 855.8 1412.2 859.9 1390.2 863.9 1370.2 867.9 1353.8 871.9 1342.6 876.0 1337.7 880.0 1339.4 884.0 1347.8 888.0 1362.1 892.1 1381.1 896.1 1403.3 900.1 1426.9 904.1 1450.4 908.2 1472.5 912.2 1492.3 916.2 1509.2 920.3 1522.9 924.3 1533.7 928.3 1541.6 932.3 1547.1 936.4 1550.4 940.4 1552.4 944.4 1553.4 948.4 1554.2 952.5 1554.8 956.5 1555.4 960.5 1555.9 964.5 1556.4 968.6 1556.8 972.6 1557.2 976.6 1557.6 980.6 1557.9 984.7 1558.3 988.7 1558.6 992.7 1559.0 996.7 1559.3 1000.8 1559.6 1004.8 1559.9 1008.8 1560.2 1012.8 1560.5 1016.9 1560.8 1020.9 1561.1 1024.9 1561.4 1028.9 1561.6 1033.0 1561.9 1037.0 1562.1 1041.0 1562.4 1045.0 1562.6 1049.1 1562.8 1053.1 1563.1 1057.1 1563.3 1061.1 1563.5 1065.2 1563.7 1069.2 1563.9 1073.2 1564.1 1077.2 1564.3 1081.3 1564.5 1085.3 1564.7 1089.3 1564.8 1093.4 1565.0 1097.4 1565.2 1101.4 1565.3 1105.4 1565.5 1109.5 1565.7 1113.5 1565.8 1117.5 1566.0 1121.5 1566.1 1125.6 1566.3 1129.6 1566.4 1133.6 1566.5 1137.6 1566.7" fill="none" stroke="#ff2040" stroke-width="2.9" stroke-linejoin="round"/>
<path d="M203.7 1572.6 207.7 1572.6 211.8 1572.6 215.8 1572.6 219.8 1572.5 223.8 1572.4 227.9 1572.2 231.9 1571.8 235.9 1571.2 239.9 1570.1 244.0 1568.6 248.0 1566.3 252.0 1563.1 256.0 1558.7 260.1 1553.1 264.1 1545.9 268.1 1537.0 272.1 1526.3 276.2 1513.7 280.2 1499.2 284.2 1482.8 288.2 1464.5 292.3 1444.4 296.3 1422.6 300.3 1399.4 304.3 1374.9 308.4 1349.3 312.4 1322.8 316.4 1295.8 320.4 1268.5 324.5 1241.1 328.5 1214.1 332.5 1187.5 336.5 1161.8 340.6 1137.2 344.6 1114.0 348.6 1092.4 352.6 1072.7 356.7 1055.0 360.7 1039.5 364.7 1026.3 368.7 1015.5 372.8 1007.2 376.8 1001.1 380.8 997.3 384.9 995.6 388.9 995.4 392.9 996.1 396.9 997.8 401.0 1000.3 405.0 1003.6 409.0 1007.8 413.0 1012.7 417.1 1018.3 421.1 1024.6 425.1 1031.5 429.1 1038.9 433.2 1046.8 437.2 1055.1 441.2 1063.7 445.2 1072.7 449.3 1081.9 453.3 1091.3 457.3 1100.9 461.3 1110.6 465.4 1120.4 469.4 1130.3 473.4 1140.1 477.4 1150.0 481.5 1159.8 485.5 1169.6 489.5 1179.3 493.5 1188.9 497.6 1198.3 501.6 1207.7 505.6 1217.0 509.6 1226.1 513.7 1235.1 517.7 1243.9 521.7 1252.5 525.7 1261.0 529.8 1269.3 533.8 1277.5 537.8 1285.5 541.8 1293.3 545.9 1301.0 549.9 1308.5 553.9 1315.8 558.0 1322.9 562.0 1329.9 566.0 1336.7 570.0 1343.3 574.1 1349.8 578.1 1356.1 582.1 1362.3 586.1 1368.3 590.2 1374.1 594.2 1379.8 598.2 1385.3 602.2 1390.7 606.3 1396.0 610.3 1401.1 614.3 1406.1 618.3 1410.9 622.4 1415.6 626.4 1420.2 630.4 1424.6 634.4 1429.0 638.5 1433.2 642.5 1437.3 646.5 1441.2 650.5 1445.1 654.6 1448.9 658.6 1452.5 662.6 1456.0 666.6 1459.5 670.7 1462.8 674.7 1466.1 678.7 1469.3 682.7 1472.3 686.8 1475.3 690.8 1478.2 694.8 1481.0 698.8 1483.7 702.9 1486.4 706.9 1489.0 710.9 1491.5 714.9 1493.9 719.0 1496.2 723.0 1498.5 727.0 1500.7 731.0 1502.9 735.1 1505.0 739.1 1507.0 743.1 1509.0 747.2 1510.9 751.2 1512.7 755.2 1514.5 759.2 1516.3 763.3 1518.0 767.3 1519.6 771.3 1521.2 775.3 1522.8 779.4 1524.3 783.4 1525.7 787.4 1527.1 791.4 1528.4 795.5 1529.6 799.5 1530.6 803.5 1531.4 807.5 1531.9 811.6 1531.9 815.6 1531.2 819.6 1529.4 823.6 1526.3 827.7 1521.3 831.7 1514.2 835.7 1504.4 839.7 1491.9 843.8 1476.4 847.8 1458.4 851.8 1438.5 855.8 1417.6 859.9 1397.1 863.9 1378.5 867.9 1363.3 871.9 1352.9 876.0 1348.4 880.0 1350.1 884.0 1358.1 888.0 1371.6 892.1 1389.6 896.1 1410.4 900.1 1432.6 904.1 1454.8 908.2 1475.6 912.2 1494.2 916.2 1510.1 920.3 1523.1 924.3 1533.2 928.3 1540.7 932.3 1545.8 936.4 1548.9 940.4 1550.6 944.4 1551.5 948.4 1552.2 952.5 1552.8 956.5 1553.4 960.5 1553.9 964.5 1554.4 968.6 1554.9 972.6 1555.3 976.6 1555.7 980.6 1556.1 984.7 1556.5 988.7 1556.9 992.7 1557.3 996.7 1557.6 1000.8 1558.0 1004.8 1558.3 1008.8 1558.7 1012.8 1559.0 1016.9 1559.3 1020.9 1559.6 1024.9 1559.9 1028.9 1560.2 1033.0 1560.5 1037.0 1560.8 1041.0 1561.0 1045.0 1561.3 1049.1 1561.5 1053.1 1561.8 1057.1 1562.0 1061.1 1562.3 1065.2 1562.5 1069.2 1562.7 1073.2 1562.9 1077.2 1563.1 1081.3 1563.4 1085.3 1563.6 1089.3 1563.8 1093.4 1563.9 1097.4 1564.1 1101.4 1564.3 1105.4 1564.5 1109.5 1564.7 1113.5 1564.8 1117.5 1565.0 1121.5 1565.2 1125.6 1565.3 1129.6 1565.5 1133.6 1565.6 1137.6 1565.8" fill="none" stroke="#ee22cc" stroke-width="2.9" stroke-linejoin="round"/>
<rect x="203.7" y="887.9" width="939.3" height="690.5" fill="none" stroke="#3a3a3a" stroke-width="3"/>
<path d="M203.7 1578.4v14M337.9 1578.4v14M472.1 1578.4v14M606.3 1578.4v14M740.4 1578.4v14M874.6 1578.4v14M1008.8 1578.4v14M1143 1578.4v14M270.8 1578.4v7M405 1578.4v7M539.2 1578.4v7M673.3 1578.4v7M807.5 1578.4v7M941.7 1578.4v7M1075.9 1578.4v7" stroke="#3a3a3a" stroke-width="3" fill="none"/>
<g font-family="Liberation Sans, Arial, Helvetica, sans-serif" font-size="40.5" fill="#222" text-anchor="middle"><text x="203.7" y="1633.4">400</text><text x="337.9" y="1633.4">450</text><text x="472.1" y="1633.4">500</text><text x="606.3" y="1633.4">550</text><text x="740.4" y="1633.4">600</text><text x="874.6" y="1633.4">650</text><text x="1008.8" y="1633.4">700</text><text x="1143" y="1633.4">750</text></g>
<path d="M203.7 1578.4h-15M203.7 1425h-15M203.7 1271.5h-15M203.7 1118.1h-15M203.7 964.6h-15M203.7 1501.7h-8M203.7 1348.2h-8M203.7 1194.8h-8M203.7 1041.3h-8" stroke="#3a3a3a" stroke-width="3" fill="none"/>
<g font-family="Liberation Sans, Arial, Helvetica, sans-serif" font-size="40.5" fill="#222" text-anchor="end"><text x="178.7" y="1592.8">0</text><text x="178.7" y="1439.3">200</text><text x="178.7" y="1285.9">400</text><text x="178.7" y="1132.4">600</text><text x="178.7" y="979">800</text></g>
<text x="17" y="895" font-family="Liberation Sans, Arial, Helvetica, sans-serif" font-size="79" fill="#111" text-anchor="start" >c</text>
<text transform="translate(79.5 1208) rotate(-90)" font-family="Liberation Sans, Arial, Helvetica, sans-serif" font-size="40.5" fill="#222" text-anchor="middle">Fluorescence intensity (a.u.)</text>
<clipPath id="clc"><rect x="0" y="1600" width="1177" height="108"/></clipPath>
<g clip-path="url(#clc)">
<text x="673" y="1699" font-family="Liberation Sans, Arial, Helvetica, sans-serif" font-size="40.5" fill="#222" text-anchor="middle" >Wavelength (nm)</text>
</g>
<text x="655.5" y="1003.6" font-family="Liberation Sans, Arial, Helvetica, sans-serif" font-size="40.5" fill="#222" text-anchor="middle" >0</text>
<path d="M655.5 1008V1163" stroke="#111" stroke-width="3"/>
<path d="M648.5 1161L662.5 1161L655.5 1183Z" fill="#111"/>
<text x="676" y="1109.6" font-family="Liberation Sans, Arial, Helvetica, sans-serif" font-size="40.5" fill="#222" text-anchor="start" >[DCN]</text>
<text x="556.3" y="1226.2" font-family="Liberation Sans, Arial, Helvetica, sans-serif" font-size="40.5" fill="#222" text-anchor="start" >9.09 x10<tspan dy="-14.6" font-size="27.1">−4</tspan><tspan dy="14.6"> </tspan>M</text>
<path d="M1343.0 1577.7 1346.7 1577.7 1350.3 1577.7 1354.0 1577.6 1357.7 1577.6 1361.4 1577.6 1365.0 1577.5 1368.7 1577.5 1372.4 1577.5 1376.1 1577.4 1379.7 1577.4 1383.4 1577.3 1387.1 1577.3 1390.7 1577.3 1394.4 1577.3 1398.1 1577.3 1401.8 1577.3 1405.4 1577.3 1409.1 1577.3 1412.8 1577.3 1416.5 1577.3 1420.1 1577.3 1423.8 1577.3 1427.5 1577.2 1431.2 1577.2 1434.8 1577.1 1438.5 1577.0 1442.2 1576.8 1445.8 1576.6 1449.5 1576.2 1453.2 1575.8 1456.9 1575.1 1460.5 1574.3 1464.2 1573.2 1467.9 1571.8 1471.6 1570.2 1475.2 1568.2 1478.9 1566.1 1482.6 1563.8 1486.2 1561.5 1489.9 1559.1 1493.6 1556.8 1497.3 1554.5 1500.9 1552.2 1504.6 1549.7 1508.3 1547.0 1512.0 1544.0 1515.6 1540.8 1519.3 1537.3 1523.0 1533.5 1526.6 1529.7 1530.3 1525.7 1534.0 1521.8 1537.7 1517.9 1541.3 1514.1 1545.0 1510.5 1548.7 1507.2 1552.4 1504.1 1556.0 1501.2 1559.7 1498.7 1563.4 1496.5 1567.1 1494.6 1570.7 1493.1 1574.4 1491.9 1578.1 1491.0 1581.7 1490.3 1585.4 1489.9 1589.1 1489.8 1592.8 1489.7 1596.4 1489.8 1600.1 1490.1 1603.8 1490.6 1607.5 1491.4 1611.1 1492.3 1614.8 1493.3 1618.5 1494.5 1622.1 1495.9 1625.8 1497.4 1629.5 1498.9 1633.2 1500.6 1636.8 1502.3 1640.5 1504.1 1644.2 1505.9 1647.9 1507.7 1651.5 1509.6 1655.2 1511.4 1658.9 1513.3 1662.5 1515.1 1666.2 1517.0 1669.9 1518.8 1673.6 1520.6 1677.2 1522.4 1680.9 1524.1 1684.6 1525.8 1688.3 1527.5 1691.9 1529.1 1695.6 1530.7 1699.3 1532.2 1703.0 1533.8 1706.6 1535.2 1710.3 1536.7 1714.0 1538.1 1717.6 1539.4 1721.3 1540.7 1725.0 1542.0 1728.7 1543.3 1732.3 1544.5 1736.0 1545.6 1739.7 1546.7 1743.4 1547.8 1747.0 1548.9 1750.7 1549.9 1754.4 1550.9 1758.0 1551.9 1761.7 1552.8 1765.4 1553.7 1769.1 1554.5 1772.7 1555.4 1776.4 1556.2 1780.1 1557.0 1783.8 1557.7 1787.4 1558.4 1791.1 1559.1 1794.8 1559.8 1798.5 1560.5 1802.1 1561.1 1805.8 1561.7 1809.5 1562.3 1813.1 1562.8 1816.8 1563.4 1820.5 1563.9 1824.2 1564.4 1827.8 1564.9 1831.5 1565.4 1835.2 1565.8 1838.9 1566.3 1842.5 1566.7 1846.2 1567.1 1849.9 1567.5 1853.5 1567.9 1857.2 1568.2 1860.9 1568.6 1864.6 1568.9 1868.2 1569.3 1871.9 1569.6 1875.6 1569.9 1879.3 1570.2 1882.9 1570.4 1886.6 1570.7 1890.3 1571.0 1893.9 1571.2 1897.6 1571.5 1901.3 1571.7 1905.0 1571.9 1908.6 1572.1 1912.3 1572.3 1916.0 1572.5 1919.7 1572.7 1923.3 1572.9 1927.0 1573.1 1930.7 1573.3 1934.4 1573.4 1938.0 1573.6 1941.7 1573.8 1945.4 1573.9 1949.0 1574.0 1952.7 1574.2 1956.4 1574.3 1960.1 1574.4 1963.7 1574.6 1967.4 1574.7 1971.1 1574.8 1974.8 1574.9 1978.4 1575.0 1982.1 1575.1 1985.8 1575.2 1989.4 1575.3 1993.1 1575.4 1996.8 1575.5 2000.5 1575.6 2004.1 1575.7 2007.8 1575.7 2011.5 1575.8 2015.2 1575.9 2018.8 1575.9 2022.5 1576.0 2026.2 1576.1 2029.8 1576.1 2033.5 1576.2 2037.2 1576.3 2040.9 1576.3 2044.5 1576.4 2048.2 1576.4 2051.9 1576.5 2055.6 1576.5 2059.2 1576.5 2062.9 1576.6 2066.6 1576.6 2070.3 1576.6 2073.9 1576.5 2077.6 1576.3 2081.3 1576.0 2084.9 1575.4 2088.6 1574.4 2092.3 1572.9 2096.0 1570.8 2099.6 1567.7 2103.3 1563.5 2107.0 1558.1 2110.7 1551.5 2114.3 1543.7 2118.0 1535.0 2121.7 1525.9 2125.3 1516.9 2129.0 1508.9 2132.7 1502.4 2136.4 1498.2 2140.0 1496.6 2143.7 1497.8 2147.4 1501.8 2151.1 1508.0 2154.7 1515.9 2158.4 1524.8 2162.1 1534.0 2165.7 1542.8 2169.4 1550.8 2173.1 1557.6 2176.8 1563.2 2180.4 1567.6 2184.1 1570.9 2187.8 1573.2 2191.5 1574.8 2195.1 1575.9 2198.8 1576.5 2202.5 1577.0 2206.2 1577.2 2209.8 1577.3 2213.5 1577.4 2217.2 1577.5 2220.8 1577.5 2224.5 1577.5 2228.2 1577.5 2231.9 1577.5 2235.5 1577.6 2239.2 1577.6 2242.9 1577.6 2246.6 1577.6 2250.2 1577.6 2253.9 1577.6 2257.6 1577.6 2261.2 1577.6 2264.9 1577.6 2268.6 1577.6 2272.3 1577.6 2275.9 1577.6 2279.6 1577.6" fill="none" stroke="#8822ee" stroke-width="2.8" stroke-linejoin="round"/>
<path d="M1343.0 1577.7 1346.7 1577.7 1350.3 1577.6 1354.0 1577.6 1357.7 1577.6 1361.4 1577.5 1365.0 1577.5 1368.7 1577.4 1372.4 1577.4 1376.1 1577.3 1379.7 1577.3 1383.4 1577.2 1387.1 1577.2 1390.7 1577.2 1394.4 1577.2 1398.1 1577.2 1401.8 1577.2 1405.4 1577.2 1409.1 1577.2 1412.8 1577.2 1416.5 1577.2 1420.1 1577.2 1423.8 1577.1 1427.5 1577.1 1431.2 1577.0 1434.8 1576.9 1438.5 1576.7 1442.2 1576.5 1445.8 1576.2 1449.5 1575.8 1453.2 1575.2 1456.9 1574.5 1460.5 1573.5 1464.2 1572.2 1467.9 1570.6 1471.6 1568.7 1475.2 1566.5 1478.9 1564.0 1482.6 1561.4 1486.2 1558.7 1489.9 1555.9 1493.6 1553.1 1497.3 1550.3 1500.9 1547.5 1504.6 1544.5 1508.3 1541.2 1512.0 1537.7 1515.6 1533.9 1519.3 1529.9 1523.0 1525.6 1526.6 1521.3 1530.3 1516.9 1534.0 1512.6 1537.7 1508.3 1541.3 1504.3 1545.0 1500.4 1548.7 1496.9 1552.4 1493.6 1556.0 1490.7 1559.7 1488.1 1563.4 1485.9 1567.1 1484.1 1570.7 1482.6 1574.4 1481.5 1578.1 1480.6 1581.7 1480.1 1585.4 1479.9 1589.1 1479.8 1592.8 1479.8 1596.4 1480.1 1600.1 1480.6 1603.8 1481.3 1607.5 1482.2 1611.1 1483.4 1614.8 1484.7 1618.5 1486.1 1622.1 1487.7 1625.8 1489.4 1629.5 1491.2 1633.2 1493.1 1636.8 1495.1 1640.5 1497.1 1644.2 1499.1 1647.9 1501.2 1651.5 1503.2 1655.2 1505.3 1658.9 1507.4 1662.5 1509.4 1666.2 1511.5 1669.9 1513.5 1673.6 1515.5 1677.2 1517.4 1680.9 1519.3 1684.6 1521.2 1688.3 1523.0 1691.9 1524.8 1695.6 1526.5 1699.3 1528.2 1703.0 1529.9 1706.6 1531.5 1710.3 1533.1 1714.0 1534.6 1717.6 1536.1 1721.3 1537.5 1725.0 1538.9 1728.7 1540.3 1732.3 1541.6 1736.0 1542.8 1739.7 1544.1 1743.4 1545.3 1747.0 1546.4 1750.7 1547.5 1754.4 1548.6 1758.0 1549.6 1761.7 1550.6 1765.4 1551.6 1769.1 1552.5 1772.7 1553.5 1776.4 1554.3 1780.1 1555.2 1783.8 1556.0 1787.4 1556.8 1791.1 1557.5 1794.8 1558.3 1798.5 1559.0 1802.1 1559.7 1805.8 1560.3 1809.5 1561.0 1813.1 1561.6 1816.8 1562.2 1820.5 1562.7 1824.2 1563.3 1827.8 1563.8 1831.5 1564.3 1835.2 1564.8 1838.9 1565.3 1842.5 1565.8 1846.2 1566.2 1849.9 1566.6 1853.5 1567.0 1857.2 1567.4 1860.9 1567.8 1864.6 1568.2 1868.2 1568.5 1871.9 1568.9 1875.6 1569.2 1879.3 1569.5 1882.9 1569.8 1886.6 1570.1 1890.3 1570.4 1893.9 1570.7 1897.6 1570.9 1901.3 1571.2 1905.0 1571.4 1908.6 1571.7 1912.3 1571.9 1916.0 1572.1 1919.7 1572.3 1923.3 1572.5 1927.0 1572.7 1930.7 1572.9 1934.4 1573.1 1938.0 1573.2 1941.7 1573.4 1945.4 1573.6 1949.0 1573.7 1952.7 1573.9 1956.4 1574.0 1960.1 1574.2 1963.7 1574.3 1967.4 1574.4 1971.1 1574.6 1974.8 1574.7 1978.4 1574.8 1982.1 1574.9 1985.8 1575.0 1989.4 1575.1 1993.1 1575.2 1996.8 1575.3 2000.5 1575.4 2004.1 1575.5 2007.8 1575.6 2011.5 1575.6 2015.2 1575.7 2018.8 1575.8 2022.5 1575.9 2026.2 1575.9 2029.8 1576.0 2033.5 1576.1 2037.2 1576.1 2040.9 1576.2 2044.5 1576.3 2048.2 1576.3 2051.9 1576.4 2055.6 1576.4 2059.2 1576.4 2062.9 1576.5 2066.6 1576.5 2070.3 1576.5 2073.9 1576.4 2077.6 1576.2 2081.3 1575.9 2084.9 1575.3 2088.6 1574.3 2092.3 1572.8 2096.0 1570.6 2099.6 1567.4 2103.3 1563.2 2107.0 1557.7 2110.7 1551.0 2114.3 1543.0 2118.0 1534.2 2121.7 1524.9 2125.3 1515.8 2129.0 1507.6 2132.7 1501.0 2136.4 1496.7 2140.0 1495.1 2143.7 1496.3 2147.4 1500.3 2151.1 1506.7 2154.7 1514.7 2158.4 1523.8 2162.1 1533.1 2165.7 1542.1 2169.4 1550.3 2173.1 1557.2 2176.8 1562.9 2180.4 1567.4 2184.1 1570.7 2187.8 1573.1 2191.5 1574.7 2195.1 1575.8 2198.8 1576.5 2202.5 1576.9 2206.2 1577.2 2209.8 1577.3 2213.5 1577.4 2217.2 1577.5 2220.8 1577.5 2224.5 1577.5 2228.2 1577.5 2231.9 1577.5 2235.5 1577.5 2239.2 1577.5 2242.9 1577.6 2246.6 1577.6 2250.2 1577.6 2253.9 1577.6 2257.6 1577.6 2261.2 1577.6 2264.9 1577.6 2268.6 1577.6 2272.3 1577.6 2275.9 1577.6 2279.6 1577.6" fill="none" stroke="#2222ee" stroke-width="2.8" stroke-linejoin="round"/>
<path d="M1343.0 1577.6 1346.7 1577.6 1350.3 1577.6 1354.0 1577.5 1357.7 1577.5 1361.4 1577.4 1365.0 1577.3 1368.7 1577.2 1372.4 1577.1 1376.1 1577.1 1379.7 1577.0 1383.4 1576.9 1387.1 1576.9 1390.7 1576.8 1394.4 1576.8 1398.1 1576.8 1401.8 1576.8 1405.4 1576.8 1409.1 1576.8 1412.8 1576.8 1416.5 1576.8 1420.1 1576.8 1423.8 1576.8 1427.5 1576.7 1431.2 1576.6 1434.8 1576.4 1438.5 1576.2 1442.2 1575.9 1445.8 1575.5 1449.5 1574.9 1453.2 1574.1 1456.9 1573.1 1460.5 1571.8 1464.2 1570.2 1467.9 1568.2 1471.6 1565.8 1475.2 1563.0 1478.9 1559.9 1482.6 1556.6 1486.2 1553.0 1489.9 1549.4 1493.6 1545.7 1497.3 1541.8 1500.9 1537.8 1504.6 1533.6 1508.3 1529.2 1512.0 1524.4 1515.6 1519.4 1519.3 1514.1 1523.0 1508.7 1526.6 1503.2 1530.3 1497.7 1534.0 1492.3 1537.7 1487.1 1541.3 1482.2 1545.0 1477.6 1548.7 1473.3 1552.4 1469.5 1556.0 1466.1 1559.7 1463.1 1563.4 1460.7 1567.1 1458.6 1570.7 1457.1 1574.4 1455.9 1578.1 1455.1 1581.7 1454.7 1585.4 1454.5 1589.1 1454.5 1592.8 1454.8 1596.4 1455.3 1600.1 1456.1 1603.8 1457.2 1607.5 1458.6 1611.1 1460.1 1614.8 1461.9 1618.5 1463.9 1622.1 1466.0 1625.8 1468.2 1629.5 1470.6 1633.2 1473.0 1636.8 1475.5 1640.5 1478.1 1644.2 1480.6 1647.9 1483.2 1651.5 1485.9 1655.2 1488.5 1658.9 1491.0 1662.5 1493.6 1666.2 1496.1 1669.9 1498.6 1673.6 1501.1 1677.2 1503.5 1680.9 1505.9 1684.6 1508.2 1688.3 1510.5 1691.9 1512.7 1695.6 1514.8 1699.3 1516.9 1703.0 1519.0 1706.6 1521.0 1710.3 1522.9 1714.0 1524.8 1717.6 1526.6 1721.3 1528.4 1725.0 1530.1 1728.7 1531.8 1732.3 1533.4 1736.0 1534.9 1739.7 1536.4 1743.4 1537.9 1747.0 1539.3 1750.7 1540.7 1754.4 1542.0 1758.0 1543.3 1761.7 1544.5 1765.4 1545.7 1769.1 1546.8 1772.7 1548.0 1776.4 1549.0 1780.1 1550.1 1783.8 1551.1 1787.4 1552.0 1791.1 1553.0 1794.8 1553.9 1798.5 1554.7 1802.1 1555.6 1805.8 1556.4 1809.5 1557.2 1813.1 1557.9 1816.8 1558.6 1820.5 1559.3 1824.2 1560.0 1827.8 1560.7 1831.5 1561.3 1835.2 1561.9 1838.9 1562.5 1842.5 1563.0 1846.2 1563.6 1849.9 1564.1 1853.5 1564.6 1857.2 1565.1 1860.9 1565.6 1864.6 1566.0 1868.2 1566.4 1871.9 1566.9 1875.6 1567.3 1879.3 1567.6 1882.9 1568.0 1886.6 1568.4 1890.3 1568.7 1893.9 1569.1 1897.6 1569.4 1901.3 1569.7 1905.0 1570.0 1908.6 1570.3 1912.3 1570.6 1916.0 1570.8 1919.7 1571.1 1923.3 1571.3 1927.0 1571.6 1930.7 1571.8 1934.4 1572.0 1938.0 1572.2 1941.7 1572.4 1945.4 1572.6 1949.0 1572.8 1952.7 1573.0 1956.4 1573.2 1960.1 1573.4 1963.7 1573.5 1967.4 1573.7 1971.1 1573.8 1974.8 1574.0 1978.4 1574.1 1982.1 1574.2 1985.8 1574.4 1989.4 1574.5 1993.1 1574.6 1996.8 1574.7 2000.5 1574.9 2004.1 1575.0 2007.8 1575.1 2011.5 1575.2 2015.2 1575.3 2018.8 1575.4 2022.5 1575.4 2026.2 1575.5 2029.8 1575.6 2033.5 1575.7 2037.2 1575.8 2040.9 1575.8 2044.5 1575.9 2048.2 1576.0 2051.9 1576.0 2055.6 1576.1 2059.2 1576.2 2062.9 1576.2 2066.6 1576.2 2070.3 1576.2 2073.9 1576.1 2077.6 1576.0 2081.3 1575.6 2084.9 1575.0 2088.6 1574.0 2092.3 1572.5 2096.0 1570.3 2099.6 1567.1 2103.3 1562.8 2107.0 1557.2 2110.7 1550.3 2114.3 1542.3 2118.0 1533.3 2121.7 1523.8 2125.3 1514.6 2129.0 1506.2 2132.7 1499.6 2136.4 1495.2 2140.0 1493.5 2143.7 1494.8 2147.4 1498.9 2151.1 1505.4 2154.7 1513.6 2158.4 1522.8 2162.1 1532.3 2165.7 1541.4 2169.4 1549.7 2173.1 1556.8 2176.8 1562.6 2180.4 1567.1 2184.1 1570.5 2187.8 1573.0 2191.5 1574.6 2195.1 1575.7 2198.8 1576.4 2202.5 1576.9 2206.2 1577.1 2209.8 1577.3 2213.5 1577.3 2217.2 1577.4 2220.8 1577.4 2224.5 1577.5 2228.2 1577.5 2231.9 1577.5 2235.5 1577.5 2239.2 1577.5 2242.9 1577.5 2246.6 1577.5 2250.2 1577.5 2253.9 1577.5 2257.6 1577.5 2261.2 1577.5 2264.9 1577.6 2268.6 1577.6 2272.3 1577.6 2275.9 1577.6 2279.6 1577.6" fill="none" stroke="#2277cc" stroke-width="2.8" stroke-linejoin="round"/>
<path d="M1343.0 1577.6 1346.7 1577.6 1350.3 1577.5 1354.0 1577.4 1357.7 1577.4 1361.4 1577.3 1365.0 1577.2 1368.7 1577.1 1372.4 1577.0 1376.1 1576.9 1379.7 1576.8 1383.4 1576.7 1387.1 1576.6 1390.7 1576.5 1394.4 1576.5 1398.1 1576.5 1401.8 1576.5 1405.4 1576.5 1409.1 1576.6 1412.8 1576.6 1416.5 1576.6 1420.1 1576.5 1423.8 1576.5 1427.5 1576.3 1431.2 1576.2 1434.8 1576.0 1438.5 1575.7 1442.2 1575.3 1445.8 1574.7 1449.5 1574.0 1453.2 1573.0 1456.9 1571.8 1460.5 1570.2 1464.2 1568.3 1467.9 1565.9 1471.6 1563.0 1475.2 1559.8 1478.9 1556.1 1482.6 1552.2 1486.2 1548.0 1489.9 1543.6 1493.6 1539.1 1497.3 1534.5 1500.9 1529.6 1504.6 1524.6 1508.3 1519.3 1512.0 1513.7 1515.6 1507.8 1519.3 1501.7 1523.0 1495.6 1526.6 1489.4 1530.3 1483.2 1534.0 1477.3 1537.7 1471.6 1541.3 1466.2 1545.0 1461.3 1548.7 1456.8 1552.4 1452.8 1556.0 1449.3 1559.7 1446.3 1563.4 1443.8 1567.1 1441.9 1570.7 1440.4 1574.4 1439.4 1578.1 1438.8 1581.7 1438.5 1585.4 1438.4 1589.1 1438.6 1592.8 1439.1 1596.4 1439.9 1600.1 1441.1 1603.8 1442.5 1607.5 1444.2 1611.1 1446.1 1614.8 1448.3 1618.5 1450.6 1622.1 1453.1 1625.8 1455.7 1629.5 1458.4 1633.2 1461.3 1636.8 1464.1 1640.5 1467.0 1644.2 1470.0 1647.9 1472.9 1651.5 1475.9 1655.2 1478.8 1658.9 1481.7 1662.5 1484.6 1666.2 1487.4 1669.9 1490.2 1673.6 1493.0 1677.2 1495.7 1680.9 1498.3 1684.6 1500.9 1688.3 1503.4 1691.9 1505.9 1695.6 1508.3 1699.3 1510.6 1703.0 1512.9 1706.6 1515.1 1710.3 1517.2 1714.0 1519.3 1717.6 1521.3 1721.3 1523.3 1725.0 1525.2 1728.7 1527.0 1732.3 1528.8 1736.0 1530.5 1739.7 1532.2 1743.4 1533.8 1747.0 1535.3 1750.7 1536.9 1754.4 1538.3 1758.0 1539.7 1761.7 1541.1 1765.4 1542.4 1769.1 1543.7 1772.7 1544.9 1776.4 1546.1 1780.1 1547.2 1783.8 1548.3 1787.4 1549.4 1791.1 1550.4 1794.8 1551.4 1798.5 1552.4 1802.1 1553.3 1805.8 1554.2 1809.5 1555.0 1813.1 1555.9 1816.8 1556.7 1820.5 1557.4 1824.2 1558.2 1827.8 1558.9 1831.5 1559.6 1835.2 1560.3 1838.9 1560.9 1842.5 1561.5 1846.2 1562.1 1849.9 1562.7 1853.5 1563.3 1857.2 1563.8 1860.9 1564.3 1864.6 1564.8 1868.2 1565.3 1871.9 1565.7 1875.6 1566.2 1879.3 1566.6 1882.9 1567.0 1886.6 1567.4 1890.3 1567.8 1893.9 1568.2 1897.6 1568.5 1901.3 1568.9 1905.0 1569.2 1908.6 1569.5 1912.3 1569.8 1916.0 1570.1 1919.7 1570.4 1923.3 1570.7 1927.0 1570.9 1930.7 1571.2 1934.4 1571.4 1938.0 1571.7 1941.7 1571.9 1945.4 1572.1 1949.0 1572.3 1952.7 1572.5 1956.4 1572.7 1960.1 1572.9 1963.7 1573.1 1967.4 1573.3 1971.1 1573.4 1974.8 1573.6 1978.4 1573.7 1982.1 1573.9 1985.8 1574.0 1989.4 1574.2 1993.1 1574.3 1996.8 1574.4 2000.5 1574.6 2004.1 1574.7 2007.8 1574.8 2011.5 1574.9 2015.2 1575.0 2018.8 1575.1 2022.5 1575.2 2026.2 1575.3 2029.8 1575.4 2033.5 1575.5 2037.2 1575.6 2040.9 1575.6 2044.5 1575.7 2048.2 1575.8 2051.9 1575.9 2055.6 1575.9 2059.2 1576.0 2062.9 1576.0 2066.6 1576.1 2070.3 1576.1 2073.9 1576.0 2077.6 1575.8 2081.3 1575.5 2084.9 1574.9 2088.6 1573.9 2092.3 1572.3 2096.0 1570.0 2099.6 1566.7 2103.3 1562.3 2107.0 1556.6 2110.7 1549.5 2114.3 1541.3 2118.0 1532.0 2121.7 1522.3 2125.3 1512.8 2129.0 1504.3 2132.7 1497.4 2136.4 1492.9 2140.0 1491.2 2143.7 1492.6 2147.4 1496.8 2151.1 1503.4 2154.7 1511.8 2158.4 1521.3 2162.1 1531.0 2165.7 1540.4 2169.4 1548.9 2173.1 1556.2 2176.8 1562.2 2180.4 1566.8 2184.1 1570.3 2187.8 1572.8 2191.5 1574.5 2195.1 1575.6 2198.8 1576.4 2202.5 1576.8 2206.2 1577.1 2209.8 1577.2 2213.5 1577.3 2217.2 1577.4 2220.8 1577.4 2224.5 1577.4 2228.2 1577.4 2231.9 1577.4 2235.5 1577.5 2239.2 1577.5 2242.9 1577.5 2246.6 1577.5 2250.2 1577.5 2253.9 1577.5 2257.6 1577.5 2261.2 1577.5 2264.9 1577.5 2268.6 1577.5 2272.3 1577.5 2275.9 1577.6 2279.6 1577.6" fill="none" stroke="#22e5e5" stroke-width="2.8" stroke-linejoin="round"/>
<path d="M1343.0 1577.5 1346.7 1577.5 1350.3 1577.4 1354.0 1577.3 1357.7 1577.2 1361.4 1577.0 1365.0 1576.9 1368.7 1576.7 1372.4 1576.5 1376.1 1576.4 1379.7 1576.2 1383.4 1576.1 1387.1 1576.0 1390.7 1575.9 1394.4 1575.9 1398.1 1575.9 1401.8 1575.9 1405.4 1575.9 1409.1 1576.0 1412.8 1576.0 1416.5 1576.0 1420.1 1576.0 1423.8 1575.9 1427.5 1575.8 1431.2 1575.7 1434.8 1575.4 1438.5 1575.1 1442.2 1574.6 1445.8 1574.0 1449.5 1573.2 1453.2 1572.1 1456.9 1570.6 1460.5 1568.8 1464.2 1566.6 1467.9 1563.8 1471.6 1560.5 1475.2 1556.8 1478.9 1552.5 1482.6 1547.9 1486.2 1542.9 1489.9 1537.7 1493.6 1532.2 1497.3 1526.5 1500.9 1520.5 1504.6 1514.1 1508.3 1507.5 1512.0 1500.5 1515.6 1493.3 1519.3 1485.8 1523.0 1478.3 1526.6 1470.7 1530.3 1463.2 1534.0 1455.9 1537.7 1449.0 1541.3 1442.5 1545.0 1436.4 1548.7 1431.0 1552.4 1426.1 1556.0 1421.8 1559.7 1418.1 1563.4 1415.2 1567.1 1412.8 1570.7 1411.0 1574.4 1409.8 1578.1 1409.0 1581.7 1408.7 1585.4 1408.6 1589.1 1408.8 1592.8 1409.4 1596.4 1410.4 1600.1 1411.8 1603.8 1413.5 1607.5 1415.6 1611.1 1418.0 1614.8 1420.6 1618.5 1423.4 1622.1 1426.5 1625.8 1429.7 1629.5 1433.0 1633.2 1436.4 1636.8 1439.9 1640.5 1443.4 1644.2 1447.0 1647.9 1450.6 1651.5 1454.2 1655.2 1457.7 1658.9 1461.3 1662.5 1464.8 1666.2 1468.2 1669.9 1471.6 1673.6 1474.9 1677.2 1478.2 1680.9 1481.4 1684.6 1484.5 1688.3 1487.6 1691.9 1490.6 1695.6 1493.5 1699.3 1496.3 1703.0 1499.1 1706.6 1501.7 1710.3 1504.3 1714.0 1506.9 1717.6 1509.3 1721.3 1511.7 1725.0 1514.0 1728.7 1516.2 1732.3 1518.4 1736.0 1520.4 1739.7 1522.5 1743.4 1524.4 1747.0 1526.3 1750.7 1528.1 1754.4 1529.9 1758.0 1531.6 1761.7 1533.3 1765.4 1534.9 1769.1 1536.4 1772.7 1537.9 1776.4 1539.3 1780.1 1540.7 1783.8 1542.1 1787.4 1543.3 1791.1 1544.6 1794.8 1545.8 1798.5 1547.0 1802.1 1548.1 1805.8 1549.2 1809.5 1550.2 1813.1 1551.2 1816.8 1552.2 1820.5 1553.1 1824.2 1554.0 1827.8 1554.9 1831.5 1555.7 1835.2 1556.5 1838.9 1557.3 1842.5 1558.1 1846.2 1558.8 1849.9 1559.5 1853.5 1560.2 1857.2 1560.8 1860.9 1561.4 1864.6 1562.0 1868.2 1562.6 1871.9 1563.2 1875.6 1563.7 1879.3 1564.2 1882.9 1564.7 1886.6 1565.2 1890.3 1565.7 1893.9 1566.1 1897.6 1566.5 1901.3 1567.0 1905.0 1567.4 1908.6 1567.7 1912.3 1568.1 1916.0 1568.5 1919.7 1568.8 1923.3 1569.1 1927.0 1569.5 1930.7 1569.8 1934.4 1570.1 1938.0 1570.4 1941.7 1570.6 1945.4 1570.9 1949.0 1571.1 1952.7 1571.4 1956.4 1571.6 1960.1 1571.9 1963.7 1572.1 1967.4 1572.3 1971.1 1572.5 1974.8 1572.7 1978.4 1572.9 1982.1 1573.1 1985.8 1573.2 1989.4 1573.4 1993.1 1573.6 1996.8 1573.7 2000.5 1573.9 2004.1 1574.0 2007.8 1574.1 2011.5 1574.3 2015.2 1574.4 2018.8 1574.5 2022.5 1574.7 2026.2 1574.8 2029.8 1574.9 2033.5 1575.0 2037.2 1575.1 2040.9 1575.2 2044.5 1575.3 2048.2 1575.4 2051.9 1575.5 2055.6 1575.5 2059.2 1575.6 2062.9 1575.7 2066.6 1575.7 2070.3 1575.7 2073.9 1575.7 2077.6 1575.5 2081.3 1575.2 2084.9 1574.6 2088.6 1573.6 2092.3 1572.1 2096.0 1569.8 2099.6 1566.6 2103.3 1562.2 2107.0 1556.6 2110.7 1549.6 2114.3 1541.4 2118.0 1532.3 2121.7 1522.7 2125.3 1513.3 2129.0 1504.9 2132.7 1498.1 2136.4 1493.7 2140.0 1492.0 2143.7 1493.3 2147.4 1497.5 2151.1 1504.0 2154.7 1512.4 2158.4 1521.7 2162.1 1531.4 2165.7 1540.7 2169.4 1549.1 2173.1 1556.3 2176.8 1562.2 2180.4 1566.8 2184.1 1570.3 2187.8 1572.7 2191.5 1574.4 2195.1 1575.6 2198.8 1576.3 2202.5 1576.7 2206.2 1577.0 2209.8 1577.1 2213.5 1577.2 2217.2 1577.3 2220.8 1577.3 2224.5 1577.4 2228.2 1577.4 2231.9 1577.4 2235.5 1577.4 2239.2 1577.4 2242.9 1577.4 2246.6 1577.4 2250.2 1577.4 2253.9 1577.5 2257.6 1577.5 2261.2 1577.5 2264.9 1577.5 2268.6 1577.5 2272.3 1577.5 2275.9 1577.5 2279.6 1577.5" fill="none" stroke="#1fa5a5" stroke-width="2.8" stroke-linejoin="round"/>
<path d="M1343.0 1577.4 1346.7 1577.3 1350.3 1577.1 1354.0 1576.9 1357.7 1576.7 1361.4 1576.5 1365.0 1576.2 1368.7 1575.9 1372.4 1575.6 1376.1 1575.3 1379.7 1575.0 1383.4 1574.8 1387.1 1574.6 1390.7 1574.5 1394.4 1574.4 1398.1 1574.4 1401.8 1574.4 1405.4 1574.5 1409.1 1574.6 1412.8 1574.6 1416.5 1574.7 1420.1 1574.7 1423.8 1574.6 1427.5 1574.5 1431.2 1574.3 1434.8 1573.9 1438.5 1573.5 1442.2 1572.9 1445.8 1572.0 1449.5 1570.8 1453.2 1569.3 1456.9 1567.3 1460.5 1564.8 1464.2 1561.7 1467.9 1558.0 1471.6 1553.7 1475.2 1548.7 1478.9 1543.0 1482.6 1536.8 1486.2 1530.1 1489.9 1522.9 1493.6 1515.3 1497.3 1507.3 1500.9 1499.0 1504.6 1490.2 1508.3 1481.1 1512.0 1471.6 1515.6 1461.8 1519.3 1451.9 1523.0 1442.0 1526.6 1432.1 1530.3 1422.5 1534.0 1413.3 1537.7 1404.5 1541.3 1396.4 1545.0 1389.0 1548.7 1382.3 1552.4 1376.4 1556.0 1371.4 1559.7 1367.1 1563.4 1363.8 1567.1 1361.2 1570.7 1359.3 1574.4 1358.1 1578.1 1357.5 1581.7 1357.3 1585.4 1357.4 1589.1 1358.0 1592.8 1359.2 1596.4 1360.8 1600.1 1363.0 1603.8 1365.6 1607.5 1368.5 1611.1 1371.9 1614.8 1375.5 1618.5 1379.4 1622.1 1383.5 1625.8 1387.8 1629.5 1392.3 1633.2 1396.8 1636.8 1401.4 1640.5 1406.1 1644.2 1410.7 1647.9 1415.4 1651.5 1420.1 1655.2 1424.7 1658.9 1429.3 1662.5 1433.8 1666.2 1438.2 1669.9 1442.6 1673.6 1446.9 1677.2 1451.1 1680.9 1455.2 1684.6 1459.2 1688.3 1463.1 1691.9 1466.9 1695.6 1470.6 1699.3 1474.2 1703.0 1477.8 1706.6 1481.2 1710.3 1484.5 1714.0 1487.7 1717.6 1490.8 1721.3 1493.8 1725.0 1496.7 1728.7 1499.6 1732.3 1502.3 1736.0 1505.0 1739.7 1507.5 1743.4 1510.0 1747.0 1512.4 1750.7 1514.8 1754.4 1517.0 1758.0 1519.2 1761.7 1521.3 1765.4 1523.3 1769.1 1525.3 1772.7 1527.1 1776.4 1529.0 1780.1 1530.7 1783.8 1532.4 1787.4 1534.1 1791.1 1535.7 1794.8 1537.2 1798.5 1538.7 1802.1 1540.1 1805.8 1541.4 1809.5 1542.8 1813.1 1544.0 1816.8 1545.3 1820.5 1546.5 1824.2 1547.6 1827.8 1548.7 1831.5 1549.8 1835.2 1550.8 1838.9 1551.8 1842.5 1552.7 1846.2 1553.7 1849.9 1554.5 1853.5 1555.4 1857.2 1556.2 1860.9 1557.0 1864.6 1557.8 1868.2 1558.5 1871.9 1559.2 1875.6 1559.9 1879.3 1560.6 1882.9 1561.2 1886.6 1561.8 1890.3 1562.4 1893.9 1563.0 1897.6 1563.5 1901.3 1564.0 1905.0 1564.5 1908.6 1565.0 1912.3 1565.5 1916.0 1566.0 1919.7 1566.4 1923.3 1566.8 1927.0 1567.2 1930.7 1567.6 1934.4 1568.0 1938.0 1568.3 1941.7 1568.7 1945.4 1569.0 1949.0 1569.4 1952.7 1569.7 1956.4 1570.0 1960.1 1570.3 1963.7 1570.5 1967.4 1570.8 1971.1 1571.1 1974.8 1571.3 1978.4 1571.5 1982.1 1571.8 1985.8 1572.0 1989.4 1572.2 1993.1 1572.4 1996.8 1572.6 2000.5 1572.8 2004.1 1573.0 2007.8 1573.2 2011.5 1573.3 2015.2 1573.5 2018.8 1573.7 2022.5 1573.8 2026.2 1574.0 2029.8 1574.1 2033.5 1574.2 2037.2 1574.4 2040.9 1574.5 2044.5 1574.6 2048.2 1574.7 2051.9 1574.8 2055.6 1574.9 2059.2 1575.0 2062.9 1575.1 2066.6 1575.2 2070.3 1575.2 2073.9 1575.2 2077.6 1575.0 2081.3 1574.7 2084.9 1574.1 2088.6 1573.1 2092.3 1571.6 2096.0 1569.3 2099.6 1566.0 2103.3 1561.5 2107.0 1555.7 2110.7 1548.6 2114.3 1540.3 2118.0 1530.9 2121.7 1521.1 2125.3 1511.5 2129.0 1502.9 2132.7 1495.9 2136.4 1491.4 2140.0 1489.7 2143.7 1491.1 2147.4 1495.3 2151.1 1502.0 2154.7 1510.6 2158.4 1520.2 2162.1 1530.1 2165.7 1539.6 2169.4 1548.2 2173.1 1555.6 2176.8 1561.7 2180.4 1566.4 2184.1 1570.0 2187.8 1572.5 2191.5 1574.2 2195.1 1575.4 2198.8 1576.1 2202.5 1576.6 2206.2 1576.9 2209.8 1577.0 2213.5 1577.1 2217.2 1577.2 2220.8 1577.2 2224.5 1577.2 2228.2 1577.3 2231.9 1577.3 2235.5 1577.3 2239.2 1577.3 2242.9 1577.3 2246.6 1577.4 2250.2 1577.4 2253.9 1577.4 2257.6 1577.4 2261.2 1577.4 2264.9 1577.4 2268.6 1577.4 2272.3 1577.4 2275.9 1577.5 2279.6 1577.5" fill="none" stroke="#33dd55" stroke-width="2.8" stroke-linejoin="round"/>
<path d="M1343.0 1577.3 1346.7 1577.2 1350.3 1577.0 1354.0 1576.7 1357.7 1576.5 1361.4 1576.1 1365.0 1575.8 1368.7 1575.4 1372.4 1575.1 1376.1 1574.7 1379.7 1574.4 1383.4 1574.1 1387.1 1573.8 1390.7 1573.7 1394.4 1573.6 1398.1 1573.6 1401.8 1573.6 1405.4 1573.7 1409.1 1573.8 1412.8 1573.8 1416.5 1573.9 1420.1 1573.9 1423.8 1573.8 1427.5 1573.6 1431.2 1573.3 1434.8 1572.8 1438.5 1572.3 1442.2 1571.4 1445.8 1570.3 1449.5 1568.9 1453.2 1567.0 1456.9 1564.6 1460.5 1561.5 1464.2 1557.8 1467.9 1553.4 1471.6 1548.3 1475.2 1542.4 1478.9 1535.8 1482.6 1528.5 1486.2 1520.6 1489.9 1512.2 1493.6 1503.4 1497.3 1494.1 1500.9 1484.4 1504.6 1474.3 1508.3 1463.9 1512.0 1453.2 1515.6 1442.2 1519.3 1431.2 1523.0 1420.2 1526.6 1409.5 1530.3 1399.1 1534.0 1389.2 1537.7 1380.0 1541.3 1371.4 1545.0 1363.7 1548.7 1356.9 1552.4 1351.0 1556.0 1346.0 1559.7 1341.9 1563.4 1338.7 1567.1 1336.4 1570.7 1334.9 1574.4 1334.0 1578.1 1333.6 1581.7 1333.6 1585.4 1334.1 1589.1 1335.2 1592.8 1336.8 1596.4 1339.0 1600.1 1341.8 1603.8 1344.9 1607.5 1348.5 1611.1 1352.4 1614.8 1356.7 1618.5 1361.2 1622.1 1365.9 1625.8 1370.7 1629.5 1375.7 1633.2 1380.8 1636.8 1386.0 1640.5 1391.2 1644.2 1396.4 1647.9 1401.5 1651.5 1406.7 1655.2 1411.8 1658.9 1416.8 1662.5 1421.7 1666.2 1426.6 1669.9 1431.4 1673.6 1436.1 1677.2 1440.6 1680.9 1445.1 1684.6 1449.5 1688.3 1453.7 1691.9 1457.9 1695.6 1461.9 1699.3 1465.8 1703.0 1469.6 1706.6 1473.3 1710.3 1476.9 1714.0 1480.4 1717.6 1483.8 1721.3 1487.0 1725.0 1490.2 1728.7 1493.3 1732.3 1496.3 1736.0 1499.1 1739.7 1501.9 1743.4 1504.6 1747.0 1507.2 1750.7 1509.7 1754.4 1512.1 1758.0 1514.5 1761.7 1516.7 1765.4 1518.9 1769.1 1521.0 1772.7 1523.1 1776.4 1525.1 1780.1 1527.0 1783.8 1528.8 1787.4 1530.6 1791.1 1532.3 1794.8 1533.9 1798.5 1535.5 1802.1 1537.1 1805.8 1538.5 1809.5 1540.0 1813.1 1541.3 1816.8 1542.7 1820.5 1544.0 1824.2 1545.2 1827.8 1546.4 1831.5 1547.5 1835.2 1548.6 1838.9 1549.7 1842.5 1550.7 1846.2 1551.7 1849.9 1552.7 1853.5 1553.6 1857.2 1554.5 1860.9 1555.3 1864.6 1556.2 1868.2 1557.0 1871.9 1557.7 1875.6 1558.5 1879.3 1559.2 1882.9 1559.9 1886.6 1560.5 1890.3 1561.2 1893.9 1561.8 1897.6 1562.4 1901.3 1562.9 1905.0 1563.5 1908.6 1564.0 1912.3 1564.5 1916.0 1565.0 1919.7 1565.5 1923.3 1565.9 1927.0 1566.4 1930.7 1566.8 1934.4 1567.2 1938.0 1567.6 1941.7 1568.0 1945.4 1568.3 1949.0 1568.7 1952.7 1569.0 1956.4 1569.3 1960.1 1569.6 1963.7 1569.9 1967.4 1570.2 1971.1 1570.5 1974.8 1570.8 1978.4 1571.0 1982.1 1571.3 1985.8 1571.5 1989.4 1571.8 1993.1 1572.0 1996.8 1572.2 2000.5 1572.4 2004.1 1572.6 2007.8 1572.8 2011.5 1573.0 2015.2 1573.2 2018.8 1573.3 2022.5 1573.5 2026.2 1573.6 2029.8 1573.8 2033.5 1573.9 2037.2 1574.1 2040.9 1574.2 2044.5 1574.4 2048.2 1574.5 2051.9 1574.6 2055.6 1574.7 2059.2 1574.8 2062.9 1574.9 2066.6 1575.0 2070.3 1575.0 2073.9 1575.0 2077.6 1574.8 2081.3 1574.5 2084.9 1574.0 2088.6 1573.0 2092.3 1571.5 2096.0 1569.3 2099.6 1566.1 2103.3 1561.8 2107.0 1556.2 2110.7 1549.3 2114.3 1541.1 2118.0 1532.1 2121.7 1522.5 2125.3 1513.2 2129.0 1504.8 2132.7 1498.1 2136.4 1493.6 2140.0 1492.0 2143.7 1493.3 2147.4 1497.5 2151.1 1504.0 2154.7 1512.3 2158.4 1521.7 2162.1 1531.3 2165.7 1540.6 2169.4 1549.0 2173.1 1556.2 2176.8 1562.0 2180.4 1566.6 2184.1 1570.1 2187.8 1572.5 2191.5 1574.2 2195.1 1575.4 2198.8 1576.1 2202.5 1576.5 2206.2 1576.8 2209.8 1577.0 2213.5 1577.1 2217.2 1577.1 2220.8 1577.2 2224.5 1577.2 2228.2 1577.2 2231.9 1577.3 2235.5 1577.3 2239.2 1577.3 2242.9 1577.3 2246.6 1577.3 2250.2 1577.3 2253.9 1577.4 2257.6 1577.4 2261.2 1577.4 2264.9 1577.4 2268.6 1577.4 2272.3 1577.4 2275.9 1577.4 2279.6 1577.4" fill="none" stroke="#22cc88" stroke-width="2.8" stroke-linejoin="round"/>
<path d="M1343.0 1577.1 1346.7 1576.8 1350.3 1576.5 1354.0 1576.1 1357.7 1575.7 1361.4 1575.2 1365.0 1574.7 1368.7 1574.1 1372.4 1573.5 1376.1 1572.9 1379.7 1572.4 1383.4 1571.9 1387.1 1571.6 1390.7 1571.3 1394.4 1571.1 1398.1 1571.1 1401.8 1571.2 1405.4 1571.3 1409.1 1571.5 1412.8 1571.6 1416.5 1571.7 1420.1 1571.7 1423.8 1571.6 1427.5 1571.3 1431.2 1571.0 1434.8 1570.4 1438.5 1569.6 1442.2 1568.5 1445.8 1567.1 1449.5 1565.1 1453.2 1562.6 1456.9 1559.4 1460.5 1555.4 1464.2 1550.6 1467.9 1544.9 1471.6 1538.2 1475.2 1530.6 1478.9 1522.1 1482.6 1512.8 1486.2 1502.7 1489.9 1491.9 1493.6 1480.4 1497.3 1468.4 1500.9 1455.9 1504.6 1443.0 1508.3 1429.7 1512.0 1416.2 1515.6 1402.5 1519.3 1388.9 1523.0 1375.4 1526.6 1362.4 1530.3 1350.0 1534.0 1338.2 1537.7 1327.3 1541.3 1317.4 1545.0 1308.6 1548.7 1300.8 1552.4 1294.3 1556.0 1288.8 1559.7 1284.5 1563.4 1281.3 1567.1 1279.1 1570.7 1277.7 1574.4 1277.1 1578.1 1276.9 1581.7 1277.3 1585.4 1278.4 1589.1 1280.2 1592.8 1282.7 1596.4 1285.9 1600.1 1289.7 1603.8 1293.9 1607.5 1298.7 1611.1 1303.8 1614.8 1309.3 1618.5 1315.0 1622.1 1321.0 1625.8 1327.1 1629.5 1333.4 1633.2 1339.7 1636.8 1346.1 1640.5 1352.5 1644.2 1358.9 1647.9 1365.3 1651.5 1371.6 1655.2 1377.8 1658.9 1383.9 1662.5 1390.0 1666.2 1395.9 1669.9 1401.7 1673.6 1407.4 1677.2 1412.9 1680.9 1418.3 1684.6 1423.6 1688.3 1428.7 1691.9 1433.7 1695.6 1438.6 1699.3 1443.3 1703.0 1447.9 1706.6 1452.4 1710.3 1456.7 1714.0 1460.9 1717.6 1464.9 1721.3 1468.9 1725.0 1472.7 1728.7 1476.4 1732.3 1479.9 1736.0 1483.4 1739.7 1486.7 1743.4 1489.9 1747.0 1493.1 1750.7 1496.1 1754.4 1499.0 1758.0 1501.8 1761.7 1504.5 1765.4 1507.2 1769.1 1509.7 1772.7 1512.1 1776.4 1514.5 1780.1 1516.8 1783.8 1519.0 1787.4 1521.1 1791.1 1523.2 1794.8 1525.1 1798.5 1527.1 1802.1 1528.9 1805.8 1530.7 1809.5 1532.4 1813.1 1534.0 1816.8 1535.6 1820.5 1537.2 1824.2 1538.6 1827.8 1540.1 1831.5 1541.5 1835.2 1542.8 1838.9 1544.1 1842.5 1545.3 1846.2 1546.5 1849.9 1547.6 1853.5 1548.7 1857.2 1549.8 1860.9 1550.8 1864.6 1551.8 1868.2 1552.8 1871.9 1553.7 1875.6 1554.6 1879.3 1555.4 1882.9 1556.2 1886.6 1557.0 1890.3 1557.8 1893.9 1558.5 1897.6 1559.2 1901.3 1559.9 1905.0 1560.6 1908.6 1561.2 1912.3 1561.8 1916.0 1562.4 1919.7 1563.0 1923.3 1563.5 1927.0 1564.1 1930.7 1564.6 1934.4 1565.0 1938.0 1565.5 1941.7 1566.0 1945.4 1566.4 1949.0 1566.8 1952.7 1567.2 1956.4 1567.6 1960.1 1568.0 1963.7 1568.4 1967.4 1568.7 1971.1 1569.0 1974.8 1569.4 1978.4 1569.7 1982.1 1570.0 1985.8 1570.3 1989.4 1570.5 1993.1 1570.8 1996.8 1571.1 2000.5 1571.3 2004.1 1571.5 2007.8 1571.8 2011.5 1572.0 2015.2 1572.2 2018.8 1572.4 2022.5 1572.6 2026.2 1572.8 2029.8 1573.0 2033.5 1573.2 2037.2 1573.3 2040.9 1573.5 2044.5 1573.7 2048.2 1573.8 2051.9 1574.0 2055.6 1574.1 2059.2 1574.2 2062.9 1574.3 2066.6 1574.4 2070.3 1574.5 2073.9 1574.5 2077.6 1574.3 2081.3 1574.1 2084.9 1573.5 2088.6 1572.6 2092.3 1571.1 2096.0 1568.8 2099.6 1565.6 2103.3 1561.3 2107.0 1555.7 2110.7 1548.7 2114.3 1540.6 2118.0 1531.5 2121.7 1521.9 2125.3 1512.5 2129.0 1504.1 2132.7 1497.3 2136.4 1492.9 2140.0 1491.2 2143.7 1492.6 2147.4 1496.8 2151.1 1503.4 2154.7 1511.7 2158.4 1521.1 2162.1 1530.8 2165.7 1540.2 2169.4 1548.6 2173.1 1555.8 2176.8 1561.8 2180.4 1566.4 2184.1 1569.9 2187.8 1572.4 2191.5 1574.1 2195.1 1575.2 2198.8 1575.9 2202.5 1576.4 2206.2 1576.7 2209.8 1576.8 2213.5 1576.9 2217.2 1577.0 2220.8 1577.1 2224.5 1577.1 2228.2 1577.1 2231.9 1577.1 2235.5 1577.2 2239.2 1577.2 2242.9 1577.2 2246.6 1577.2 2250.2 1577.3 2253.9 1577.3 2257.6 1577.3 2261.2 1577.3 2264.9 1577.3 2268.6 1577.3 2272.3 1577.4 2275.9 1577.4 2279.6 1577.4" fill="none" stroke="#bbbb11" stroke-width="2.8" stroke-linejoin="round"/>
<path d="M1343.0 1576.8 1346.7 1576.5 1350.3 1576.1 1354.0 1575.6 1357.7 1575.0 1361.4 1574.3 1365.0 1573.6 1368.7 1572.8 1372.4 1572.1 1376.1 1571.3 1379.7 1570.6 1383.4 1569.9 1387.1 1569.4 1390.7 1569.1 1394.4 1568.9 1398.1 1568.9 1401.8 1568.9 1405.4 1569.1 1409.1 1569.3 1412.8 1569.5 1416.5 1569.6 1420.1 1569.6 1423.8 1569.4 1427.5 1569.1 1431.2 1568.6 1434.8 1567.9 1438.5 1566.9 1442.2 1565.5 1445.8 1563.7 1449.5 1561.2 1453.2 1558.1 1456.9 1554.1 1460.5 1549.1 1464.2 1543.2 1467.9 1536.2 1471.6 1528.1 1475.2 1518.9 1478.9 1508.7 1482.6 1497.5 1486.2 1485.4 1489.9 1472.4 1493.6 1458.8 1497.3 1444.6 1500.9 1429.8 1504.6 1414.6 1508.3 1399.1 1512.0 1383.4 1515.6 1367.7 1519.3 1352.2 1523.0 1337.1 1526.6 1322.6 1530.3 1308.8 1534.0 1296.0 1537.7 1284.2 1541.3 1273.7 1545.0 1264.4 1548.7 1256.4 1552.4 1249.7 1556.0 1244.3 1559.7 1240.2 1563.4 1237.3 1567.1 1235.4 1570.7 1234.4 1574.4 1234.1 1578.1 1234.2 1581.7 1235.2 1585.4 1237.1 1589.1 1239.7 1592.8 1243.1 1596.4 1247.2 1600.1 1251.9 1603.8 1257.2 1607.5 1263.0 1611.1 1269.1 1614.8 1275.6 1618.5 1282.4 1622.1 1289.4 1625.8 1296.5 1629.5 1303.7 1633.2 1311.0 1636.8 1318.4 1640.5 1325.7 1644.2 1333.0 1647.9 1340.2 1651.5 1347.3 1655.2 1354.3 1658.9 1361.3 1662.5 1368.1 1666.2 1374.7 1669.9 1381.3 1673.6 1387.6 1677.2 1393.9 1680.9 1399.9 1684.6 1405.9 1688.3 1411.6 1691.9 1417.2 1695.6 1422.7 1699.3 1427.9 1703.0 1433.1 1706.6 1438.1 1710.3 1442.9 1714.0 1447.6 1717.6 1452.1 1721.3 1456.5 1725.0 1460.7 1728.7 1464.8 1732.3 1468.8 1736.0 1472.7 1739.7 1476.4 1743.4 1480.0 1747.0 1483.5 1750.7 1486.8 1754.4 1490.1 1758.0 1493.2 1761.7 1496.2 1765.4 1499.1 1769.1 1502.0 1772.7 1504.7 1776.4 1507.3 1780.1 1509.9 1783.8 1512.3 1787.4 1514.7 1791.1 1517.0 1794.8 1519.2 1798.5 1521.3 1802.1 1523.3 1805.8 1525.3 1809.5 1527.2 1813.1 1529.1 1816.8 1530.8 1820.5 1532.5 1824.2 1534.2 1827.8 1535.8 1831.5 1537.3 1835.2 1538.8 1838.9 1540.2 1842.5 1541.6 1846.2 1542.9 1849.9 1544.2 1853.5 1545.4 1857.2 1546.6 1860.9 1547.7 1864.6 1548.9 1868.2 1549.9 1871.9 1550.9 1875.6 1551.9 1879.3 1552.9 1882.9 1553.8 1886.6 1554.7 1890.3 1555.5 1893.9 1556.3 1897.6 1557.1 1901.3 1557.9 1905.0 1558.6 1908.6 1559.3 1912.3 1560.0 1916.0 1560.7 1919.7 1561.3 1923.3 1561.9 1927.0 1562.5 1930.7 1563.0 1934.4 1563.6 1938.0 1564.1 1941.7 1564.6 1945.4 1565.1 1949.0 1565.6 1952.7 1566.0 1956.4 1566.4 1960.1 1566.9 1963.7 1567.3 1967.4 1567.7 1971.1 1568.0 1974.8 1568.4 1978.4 1568.7 1982.1 1569.1 1985.8 1569.4 1989.4 1569.7 1993.1 1570.0 1996.8 1570.3 2000.5 1570.6 2004.1 1570.8 2007.8 1571.1 2011.5 1571.3 2015.2 1571.6 2018.8 1571.8 2022.5 1572.0 2026.2 1572.2 2029.8 1572.4 2033.5 1572.6 2037.2 1572.8 2040.9 1573.0 2044.5 1573.2 2048.2 1573.3 2051.9 1573.5 2055.6 1573.7 2059.2 1573.8 2062.9 1573.9 2066.6 1574.0 2070.3 1574.1 2073.9 1574.1 2077.6 1574.0 2081.3 1573.7 2084.9 1573.2 2088.6 1572.2 2092.3 1570.7 2096.0 1568.5 2099.6 1565.3 2103.3 1560.9 2107.0 1555.3 2110.7 1548.3 2114.3 1540.1 2118.0 1530.9 2121.7 1521.3 2125.3 1511.9 2129.0 1503.4 2132.7 1496.6 2136.4 1492.1 2140.0 1490.5 2143.7 1491.8 2147.4 1496.0 2151.1 1502.7 2154.7 1511.1 2158.4 1520.6 2162.1 1530.4 2165.7 1539.8 2169.4 1548.3 2173.1 1555.6 2176.8 1561.6 2180.4 1566.2 2184.1 1569.7 2187.8 1572.2 2191.5 1573.9 2195.1 1575.1 2198.8 1575.8 2202.5 1576.3 2206.2 1576.6 2209.8 1576.8 2213.5 1576.9 2217.2 1576.9 2220.8 1577.0 2224.5 1577.0 2228.2 1577.0 2231.9 1577.1 2235.5 1577.1 2239.2 1577.1 2242.9 1577.1 2246.6 1577.2 2250.2 1577.2 2253.9 1577.2 2257.6 1577.2 2261.2 1577.3 2264.9 1577.3 2268.6 1577.3 2272.3 1577.3 2275.9 1577.3 2279.6 1577.3" fill="none" stroke="#ffff00" stroke-width="2.8" stroke-linejoin="round"/>
<path d="M1343.0 1576.3 1346.7 1575.8 1350.3 1575.1 1354.0 1574.3 1357.7 1573.4 1361.4 1572.3 1365.0 1571.2 1368.7 1569.9 1372.4 1568.7 1376.1 1567.5 1379.7 1566.3 1383.4 1565.3 1387.1 1564.5 1390.7 1564.0 1394.4 1563.7 1398.1 1563.7 1401.8 1563.8 1405.4 1564.2 1409.1 1564.6 1412.8 1565.0 1416.5 1565.3 1420.1 1565.5 1423.8 1565.5 1427.5 1565.3 1431.2 1564.9 1434.8 1564.3 1438.5 1563.3 1442.2 1561.9 1445.8 1560.0 1449.5 1557.3 1453.2 1553.7 1456.9 1549.0 1460.5 1543.2 1464.2 1536.2 1467.9 1527.9 1471.6 1518.2 1475.2 1507.1 1478.9 1494.8 1482.6 1481.2 1486.2 1466.4 1489.9 1450.5 1493.6 1433.7 1497.3 1416.0 1500.9 1397.5 1504.6 1378.5 1508.3 1359.1 1512.0 1339.5 1515.6 1319.9 1519.3 1300.5 1523.0 1281.6 1526.6 1263.5 1530.3 1246.3 1534.0 1230.3 1537.7 1215.6 1541.3 1202.4 1545.0 1190.8 1548.7 1180.8 1552.4 1172.5 1556.0 1165.8 1559.7 1160.6 1563.4 1156.9 1567.1 1154.6 1570.7 1153.3 1574.4 1152.9 1578.1 1153.1 1581.7 1154.4 1585.4 1156.7 1589.1 1160.0 1592.8 1164.3 1596.4 1169.4 1600.1 1175.3 1603.8 1181.9 1607.5 1189.1 1611.1 1196.8 1614.8 1204.9 1618.5 1213.3 1622.1 1222.0 1625.8 1230.8 1629.5 1239.8 1633.2 1248.9 1636.8 1258.0 1640.5 1267.0 1644.2 1276.0 1647.9 1285.0 1651.5 1293.8 1655.2 1302.5 1658.9 1311.0 1662.5 1319.4 1666.2 1327.7 1669.9 1335.7 1673.6 1343.6 1677.2 1351.2 1680.9 1358.7 1684.6 1366.0 1688.3 1373.1 1691.9 1380.0 1695.6 1386.7 1699.3 1393.2 1703.0 1399.5 1706.6 1405.7 1710.3 1411.6 1714.0 1417.4 1717.6 1422.9 1721.3 1428.3 1725.0 1433.6 1728.7 1438.6 1732.3 1443.5 1736.0 1448.2 1739.7 1452.8 1743.4 1457.3 1747.0 1461.5 1750.7 1465.7 1754.4 1469.7 1758.0 1473.5 1761.7 1477.2 1765.4 1480.8 1769.1 1484.3 1772.7 1487.7 1776.4 1490.9 1780.1 1494.0 1783.8 1497.0 1787.4 1500.0 1791.1 1502.8 1794.8 1505.5 1798.5 1508.1 1802.1 1510.6 1805.8 1513.0 1809.5 1515.4 1813.1 1517.7 1816.8 1519.8 1820.5 1521.9 1824.2 1524.0 1827.8 1525.9 1831.5 1527.8 1835.2 1529.6 1838.9 1531.4 1842.5 1533.1 1846.2 1534.7 1849.9 1536.3 1853.5 1537.8 1857.2 1539.3 1860.9 1540.7 1864.6 1542.0 1868.2 1543.3 1871.9 1544.6 1875.6 1545.8 1879.3 1547.0 1882.9 1548.1 1886.6 1549.2 1890.3 1550.2 1893.9 1551.3 1897.6 1552.2 1901.3 1553.2 1905.0 1554.1 1908.6 1554.9 1912.3 1555.8 1916.0 1556.6 1919.7 1557.4 1923.3 1558.1 1927.0 1558.8 1930.7 1559.5 1934.4 1560.2 1938.0 1560.8 1941.7 1561.5 1945.4 1562.1 1949.0 1562.6 1952.7 1563.2 1956.4 1563.7 1960.1 1564.3 1963.7 1564.7 1967.4 1565.2 1971.1 1565.7 1974.8 1566.1 1978.4 1566.6 1982.1 1567.0 1985.8 1567.4 1989.4 1567.8 1993.1 1568.1 1996.8 1568.5 2000.5 1568.8 2004.1 1569.2 2007.8 1569.5 2011.5 1569.8 2015.2 1570.1 2018.8 1570.4 2022.5 1570.6 2026.2 1570.9 2029.8 1571.1 2033.5 1571.4 2037.2 1571.6 2040.9 1571.8 2044.5 1572.1 2048.2 1572.3 2051.9 1572.5 2055.6 1572.7 2059.2 1572.8 2062.9 1573.0 2066.6 1573.1 2070.3 1573.2 2073.9 1573.3 2077.6 1573.2 2081.3 1572.9 2084.9 1572.4 2088.6 1571.5 2092.3 1570.0 2096.0 1567.8 2099.6 1564.6 2103.3 1560.3 2107.0 1554.6 2110.7 1547.6 2114.3 1539.4 2118.0 1530.2 2121.7 1520.6 2125.3 1511.1 2129.0 1502.6 2132.7 1495.8 2136.4 1491.3 2140.0 1489.7 2143.7 1491.1 2147.4 1495.3 2151.1 1502.0 2154.7 1510.5 2158.4 1520.0 2162.1 1529.9 2165.7 1539.3 2169.4 1547.8 2173.1 1555.2 2176.8 1561.2 2180.4 1565.9 2184.1 1569.4 2187.8 1571.9 2191.5 1573.7 2195.1 1574.8 2198.8 1575.6 2202.5 1576.1 2206.2 1576.4 2209.8 1576.5 2213.5 1576.7 2217.2 1576.7 2220.8 1576.8 2224.5 1576.8 2228.2 1576.9 2231.9 1576.9 2235.5 1576.9 2239.2 1577.0 2242.9 1577.0 2246.6 1577.0 2250.2 1577.1 2253.9 1577.1 2257.6 1577.1 2261.2 1577.1 2264.9 1577.2 2268.6 1577.2 2272.3 1577.2 2275.9 1577.2 2279.6 1577.2" fill="none" stroke="#ff8822" stroke-width="2.8" stroke-linejoin="round"/>
<path d="M1343.0 1576.1 1346.7 1575.5 1350.3 1574.7 1354.0 1573.8 1357.7 1572.8 1361.4 1571.6 1365.0 1570.2 1368.7 1568.8 1372.4 1567.4 1376.1 1566.0 1379.7 1564.7 1383.4 1563.5 1387.1 1562.6 1390.7 1562.0 1394.4 1561.7 1398.1 1561.6 1401.8 1561.8 1405.4 1562.2 1409.1 1562.7 1412.8 1563.1 1416.5 1563.5 1420.1 1563.7 1423.8 1563.7 1427.5 1563.5 1431.2 1563.0 1434.8 1562.3 1438.5 1561.3 1442.2 1559.7 1445.8 1557.5 1449.5 1554.5 1453.2 1550.5 1456.9 1545.3 1460.5 1538.9 1464.2 1531.1 1467.9 1522.0 1471.6 1511.3 1475.2 1499.2 1478.9 1485.8 1482.6 1470.9 1486.2 1454.8 1489.9 1437.6 1493.6 1419.3 1497.3 1400.2 1500.9 1380.3 1504.6 1359.8 1508.3 1339.0 1512.0 1318.1 1515.6 1297.2 1519.3 1276.7 1523.0 1256.8 1526.6 1237.8 1530.3 1219.9 1534.0 1203.3 1537.7 1188.1 1541.3 1174.6 1545.0 1162.8 1548.7 1152.7 1552.4 1144.4 1556.0 1137.8 1559.7 1132.9 1563.4 1129.4 1567.1 1127.3 1570.7 1126.3 1574.4 1126.1 1578.1 1126.7 1581.7 1128.4 1585.4 1131.2 1589.1 1135.1 1592.8 1140.0 1596.4 1145.7 1600.1 1152.3 1603.8 1159.6 1607.5 1167.4 1611.1 1175.8 1614.8 1184.5 1618.5 1193.6 1622.1 1202.9 1625.8 1212.4 1629.5 1222.0 1633.2 1231.6 1636.8 1241.3 1640.5 1250.9 1644.2 1260.5 1647.9 1269.9 1651.5 1279.3 1655.2 1288.5 1658.9 1297.5 1662.5 1306.4 1666.2 1315.1 1669.9 1323.5 1673.6 1331.8 1677.2 1339.9 1680.9 1347.8 1684.6 1355.5 1688.3 1362.9 1691.9 1370.2 1695.6 1377.2 1699.3 1384.1 1703.0 1390.7 1706.6 1397.1 1710.3 1403.4 1714.0 1409.4 1717.6 1415.3 1721.3 1421.0 1725.0 1426.4 1728.7 1431.8 1732.3 1436.9 1736.0 1441.9 1739.7 1446.7 1743.4 1451.3 1747.0 1455.8 1750.7 1460.1 1754.4 1464.3 1758.0 1468.4 1761.7 1472.3 1765.4 1476.1 1769.1 1479.7 1772.7 1483.2 1776.4 1486.6 1780.1 1489.9 1783.8 1493.1 1787.4 1496.1 1791.1 1499.1 1794.8 1501.9 1798.5 1504.6 1802.1 1507.3 1805.8 1509.8 1809.5 1512.3 1813.1 1514.7 1816.8 1517.0 1820.5 1519.2 1824.2 1521.3 1827.8 1523.4 1831.5 1525.3 1835.2 1527.2 1838.9 1529.1 1842.5 1530.9 1846.2 1532.6 1849.9 1534.2 1853.5 1535.8 1857.2 1537.3 1860.9 1538.8 1864.6 1540.2 1868.2 1541.6 1871.9 1542.9 1875.6 1544.2 1879.3 1545.4 1882.9 1546.6 1886.6 1547.8 1890.3 1548.9 1893.9 1549.9 1897.6 1550.9 1901.3 1551.9 1905.0 1552.9 1908.6 1553.8 1912.3 1554.7 1916.0 1555.5 1919.7 1556.3 1923.3 1557.1 1927.0 1557.9 1930.7 1558.6 1934.4 1559.3 1938.0 1560.0 1941.7 1560.6 1945.4 1561.3 1949.0 1561.9 1952.7 1562.5 1956.4 1563.0 1960.1 1563.6 1963.7 1564.1 1967.4 1564.6 1971.1 1565.1 1974.8 1565.5 1978.4 1566.0 1982.1 1566.4 1985.8 1566.8 1989.4 1567.2 1993.1 1567.6 1996.8 1568.0 2000.5 1568.4 2004.1 1568.7 2007.8 1569.0 2011.5 1569.4 2015.2 1569.7 2018.8 1570.0 2022.5 1570.3 2026.2 1570.5 2029.8 1570.8 2033.5 1571.1 2037.2 1571.3 2040.9 1571.5 2044.5 1571.8 2048.2 1572.0 2051.9 1572.2 2055.6 1572.4 2059.2 1572.6 2062.9 1572.8 2066.6 1572.9 2070.3 1573.0 2073.9 1573.1 2077.6 1573.0 2081.3 1572.7 2084.9 1572.2 2088.6 1571.3 2092.3 1569.8 2096.0 1567.6 2099.6 1564.4 2103.3 1560.0 2107.0 1554.3 2110.7 1547.3 2114.3 1539.0 2118.0 1529.7 2121.7 1520.0 2125.3 1510.5 2129.0 1501.9 2132.7 1495.1 2136.4 1490.6 2140.0 1488.9 2143.7 1490.3 2147.4 1494.6 2151.1 1501.4 2154.7 1509.9 2158.4 1519.5 2162.1 1529.4 2165.7 1538.9 2169.4 1547.5 2173.1 1554.9 2176.8 1561.0 2180.4 1565.7 2184.1 1569.3 2187.8 1571.8 2191.5 1573.6 2195.1 1574.8 2198.8 1575.5 2202.5 1576.0 2206.2 1576.3 2209.8 1576.5 2213.5 1576.6 2217.2 1576.7 2220.8 1576.7 2224.5 1576.8 2228.2 1576.8 2231.9 1576.9 2235.5 1576.9 2239.2 1576.9 2242.9 1577.0 2246.6 1577.0 2250.2 1577.0 2253.9 1577.0 2257.6 1577.1 2261.2 1577.1 2264.9 1577.1 2268.6 1577.1 2272.3 1577.2 2275.9 1577.2 2279.6 1577.2" fill="none" stroke="#cc3311" stroke-width="2.8" stroke-linejoin="round"/>
<path d="M1343.0 1575.3 1346.7 1574.4 1350.3 1573.4 1354.0 1572.1 1357.7 1570.5 1361.4 1568.8 1365.0 1566.8 1368.7 1564.8 1372.4 1562.7 1376.1 1560.7 1379.7 1558.8 1383.4 1557.1 1387.1 1555.8 1390.7 1554.9 1394.4 1554.5 1398.1 1554.4 1401.8 1554.7 1405.4 1555.3 1409.1 1556.0 1412.8 1556.7 1416.5 1557.3 1420.1 1557.8 1423.8 1558.0 1427.5 1557.9 1431.2 1557.6 1434.8 1556.9 1438.5 1555.8 1442.2 1554.2 1445.8 1551.7 1449.5 1548.3 1453.2 1543.6 1456.9 1537.5 1460.5 1529.8 1464.2 1520.5 1467.9 1509.4 1471.6 1496.6 1475.2 1482.1 1478.9 1465.9 1482.6 1448.0 1486.2 1428.6 1489.9 1407.8 1493.6 1385.8 1497.3 1362.7 1500.9 1338.7 1504.6 1314.1 1508.3 1289.1 1512.0 1264.0 1515.6 1239.2 1519.3 1214.9 1523.0 1191.4 1526.6 1169.1 1530.3 1148.1 1534.0 1128.8 1537.7 1111.3 1541.3 1095.8 1545.0 1082.3 1548.7 1071.0 1552.4 1061.7 1556.0 1054.5 1559.7 1049.2 1563.4 1045.7 1567.1 1043.6 1570.7 1042.8 1574.4 1042.8 1578.1 1043.9 1581.7 1046.4 1585.4 1050.3 1589.1 1055.3 1592.8 1061.6 1596.4 1068.8 1600.1 1077.0 1603.8 1085.9 1607.5 1095.5 1611.1 1105.7 1614.8 1116.3 1618.5 1127.2 1622.1 1138.4 1625.8 1149.7 1629.5 1161.1 1633.2 1172.6 1636.8 1184.1 1640.5 1195.5 1644.2 1206.8 1647.9 1217.9 1651.5 1228.9 1655.2 1239.8 1658.9 1250.4 1662.5 1260.8 1666.2 1271.0 1669.9 1280.9 1673.6 1290.7 1677.2 1300.1 1680.9 1309.3 1684.6 1318.3 1688.3 1327.0 1691.9 1335.5 1695.6 1343.8 1699.3 1351.7 1703.0 1359.5 1706.6 1367.0 1710.3 1374.3 1714.0 1381.4 1717.6 1388.2 1721.3 1394.8 1725.0 1401.2 1728.7 1407.4 1732.3 1413.4 1736.0 1419.2 1739.7 1424.8 1743.4 1430.2 1747.0 1435.4 1750.7 1440.5 1754.4 1445.4 1758.0 1450.1 1761.7 1454.6 1765.4 1459.0 1769.1 1463.3 1772.7 1467.4 1776.4 1471.3 1780.1 1475.2 1783.8 1478.8 1787.4 1482.4 1791.1 1485.8 1794.8 1489.1 1798.5 1492.3 1802.1 1495.4 1805.8 1498.4 1809.5 1501.3 1813.1 1504.0 1816.8 1506.7 1820.5 1509.3 1824.2 1511.8 1827.8 1514.2 1831.5 1516.5 1835.2 1518.7 1838.9 1520.8 1842.5 1522.9 1846.2 1524.9 1849.9 1526.8 1853.5 1528.7 1857.2 1530.5 1860.9 1532.2 1864.6 1533.9 1868.2 1535.5 1871.9 1537.0 1875.6 1538.5 1879.3 1539.9 1882.9 1541.3 1886.6 1542.6 1890.3 1543.9 1893.9 1545.2 1897.6 1546.3 1901.3 1547.5 1905.0 1548.6 1908.6 1549.7 1912.3 1550.7 1916.0 1551.7 1919.7 1552.6 1923.3 1553.6 1927.0 1554.4 1930.7 1555.3 1934.4 1556.1 1938.0 1556.9 1941.7 1557.7 1945.4 1558.4 1949.0 1559.1 1952.7 1559.8 1956.4 1560.5 1960.1 1561.1 1963.7 1561.7 1967.4 1562.3 1971.1 1562.9 1974.8 1563.4 1978.4 1563.9 1982.1 1564.4 1985.8 1564.9 1989.4 1565.4 1993.1 1565.9 1996.8 1566.3 2000.5 1566.7 2004.1 1567.1 2007.8 1567.5 2011.5 1567.9 2015.2 1568.3 2018.8 1568.6 2022.5 1568.9 2026.2 1569.3 2029.8 1569.6 2033.5 1569.9 2037.2 1570.2 2040.9 1570.4 2044.5 1570.7 2048.2 1571.0 2051.9 1571.2 2055.6 1571.5 2059.2 1571.7 2062.9 1571.9 2066.6 1572.1 2070.3 1572.2 2073.9 1572.3 2077.6 1572.2 2081.3 1572.0 2084.9 1571.5 2088.6 1570.6 2092.3 1569.2 2096.0 1566.9 2099.6 1563.7 2103.3 1559.4 2107.0 1553.7 2110.7 1546.6 2114.3 1538.3 2118.0 1529.0 2121.7 1519.3 2125.3 1509.8 2129.0 1501.2 2132.7 1494.3 2136.4 1489.8 2140.0 1488.2 2143.7 1489.6 2147.4 1493.9 2151.1 1500.7 2154.7 1509.3 2158.4 1518.9 2162.1 1528.9 2165.7 1538.5 2169.4 1547.1 2173.1 1554.6 2176.8 1560.7 2180.4 1565.4 2184.1 1569.0 2187.8 1571.6 2191.5 1573.3 2195.1 1574.5 2198.8 1575.3 2202.5 1575.8 2206.2 1576.1 2209.8 1576.3 2213.5 1576.4 2217.2 1576.5 2220.8 1576.6 2224.5 1576.6 2228.2 1576.7 2231.9 1576.7 2235.5 1576.7 2239.2 1576.8 2242.9 1576.8 2246.6 1576.8 2250.2 1576.9 2253.9 1576.9 2257.6 1576.9 2261.2 1577.0 2264.9 1577.0 2268.6 1577.0 2272.3 1577.1 2275.9 1577.1 2279.6 1577.1" fill="none" stroke="#ff4040" stroke-width="2.8" stroke-linejoin="round"/>
<path d="M1343.0 1574.8 1346.7 1573.7 1350.3 1572.4 1354.0 1570.8 1357.7 1568.9 1361.4 1566.8 1365.0 1564.4 1368.7 1561.9 1372.4 1559.3 1376.1 1556.8 1379.7 1554.5 1383.4 1552.5 1387.1 1550.9 1390.7 1549.8 1394.4 1549.2 1398.1 1549.2 1401.8 1549.5 1405.4 1550.2 1409.1 1551.1 1412.8 1551.9 1416.5 1552.6 1420.1 1553.1 1423.8 1553.3 1427.5 1553.2 1431.2 1552.7 1434.8 1551.8 1438.5 1550.4 1442.2 1548.4 1445.8 1545.4 1449.5 1541.1 1453.2 1535.5 1456.9 1528.1 1460.5 1519.0 1464.2 1507.9 1467.9 1494.9 1471.6 1479.9 1475.2 1462.9 1478.9 1444.2 1482.6 1423.6 1486.2 1401.3 1489.9 1377.6 1493.6 1352.6 1497.3 1326.5 1500.9 1299.6 1504.6 1272.2 1508.3 1244.6 1512.0 1217.1 1515.6 1190.1 1519.3 1163.9 1523.0 1138.8 1526.6 1115.2 1530.3 1093.3 1534.0 1073.3 1537.7 1055.5 1541.3 1039.9 1545.0 1026.6 1548.7 1015.6 1552.4 1006.9 1556.0 1000.3 1559.7 995.8 1563.4 993.0 1567.1 991.7 1570.7 991.4 1574.4 992.2 1578.1 994.4 1581.7 998.2 1585.4 1003.4 1589.1 1009.8 1592.8 1017.5 1596.4 1026.2 1600.1 1035.8 1603.8 1046.1 1607.5 1057.1 1611.1 1068.7 1614.8 1080.6 1618.5 1092.8 1622.1 1105.2 1625.8 1117.7 1629.5 1130.3 1633.2 1142.9 1636.8 1155.4 1640.5 1167.9 1644.2 1180.2 1647.9 1192.3 1651.5 1204.2 1655.2 1215.9 1658.9 1227.4 1662.5 1238.6 1666.2 1249.6 1669.9 1260.3 1673.6 1270.8 1677.2 1280.9 1680.9 1290.8 1684.6 1300.5 1688.3 1309.8 1691.9 1318.9 1695.6 1327.8 1699.3 1336.3 1703.0 1344.6 1706.6 1352.7 1710.3 1360.4 1714.0 1368.0 1717.6 1375.3 1721.3 1382.4 1725.0 1389.2 1728.7 1395.8 1732.3 1402.2 1736.0 1408.4 1739.7 1414.4 1743.4 1420.2 1747.0 1425.8 1750.7 1431.2 1754.4 1436.4 1758.0 1441.4 1761.7 1446.3 1765.4 1451.0 1769.1 1455.5 1772.7 1459.9 1776.4 1464.1 1780.1 1468.2 1783.8 1472.1 1787.4 1475.9 1791.1 1479.6 1794.8 1483.1 1798.5 1486.5 1802.1 1489.8 1805.8 1493.0 1809.5 1496.0 1813.1 1499.0 1816.8 1501.8 1820.5 1504.6 1824.2 1507.2 1827.8 1509.8 1831.5 1512.3 1835.2 1514.6 1838.9 1516.9 1842.5 1519.1 1846.2 1521.3 1849.9 1523.3 1853.5 1525.3 1857.2 1527.2 1860.9 1529.0 1864.6 1530.8 1868.2 1532.5 1871.9 1534.2 1875.6 1535.8 1879.3 1537.3 1882.9 1538.8 1886.6 1540.2 1890.3 1541.6 1893.9 1542.9 1897.6 1544.2 1901.3 1545.4 1905.0 1546.6 1908.6 1547.7 1912.3 1548.8 1916.0 1549.9 1919.7 1550.9 1923.3 1551.9 1927.0 1552.8 1930.7 1553.7 1934.4 1554.6 1938.0 1555.4 1941.7 1556.3 1945.4 1557.0 1949.0 1557.8 1952.7 1558.5 1956.4 1559.2 1960.1 1559.9 1963.7 1560.6 1967.4 1561.2 1971.1 1561.8 1974.8 1562.4 1978.4 1563.0 1982.1 1563.5 1985.8 1564.0 1989.4 1564.5 1993.1 1565.0 1996.8 1565.5 2000.5 1565.9 2004.1 1566.4 2007.8 1566.8 2011.5 1567.2 2015.2 1567.6 2018.8 1567.9 2022.5 1568.3 2026.2 1568.6 2029.8 1569.0 2033.5 1569.3 2037.2 1569.6 2040.9 1569.9 2044.5 1570.2 2048.2 1570.5 2051.9 1570.7 2055.6 1571.0 2059.2 1571.2 2062.9 1571.5 2066.6 1571.6 2070.3 1571.8 2073.9 1571.9 2077.6 1571.8 2081.3 1571.6 2084.9 1571.2 2088.6 1570.3 2092.3 1568.8 2096.0 1566.6 2099.6 1563.4 2103.3 1559.0 2107.0 1553.3 2110.7 1546.2 2114.3 1537.8 2118.0 1528.5 2121.7 1518.7 2125.3 1509.1 2129.0 1500.5 2132.7 1493.6 2136.4 1489.0 2140.0 1487.4 2143.7 1488.8 2147.4 1493.2 2151.1 1500.0 2154.7 1508.7 2158.4 1518.4 2162.1 1528.4 2165.7 1538.1 2169.4 1546.8 2173.1 1554.3 2176.8 1560.4 2180.4 1565.2 2184.1 1568.8 2187.8 1571.4 2191.5 1573.2 2195.1 1574.4 2198.8 1575.2 2202.5 1575.7 2206.2 1576.0 2209.8 1576.2 2213.5 1576.3 2217.2 1576.4 2220.8 1576.5 2224.5 1576.5 2228.2 1576.6 2231.9 1576.6 2235.5 1576.7 2239.2 1576.7 2242.9 1576.7 2246.6 1576.8 2250.2 1576.8 2253.9 1576.8 2257.6 1576.9 2261.2 1576.9 2264.9 1576.9 2268.6 1577.0 2272.3 1577.0 2275.9 1577.0 2279.6 1577.1" fill="none" stroke="#ff2050" stroke-width="2.8" stroke-linejoin="round"/>
<path d="M1343.0 1574.0 1346.7 1572.7 1350.3 1571.0 1354.0 1569.0 1357.7 1566.6 1361.4 1563.9 1365.0 1561.0 1368.7 1557.8 1372.4 1554.6 1376.1 1551.5 1379.7 1548.6 1383.4 1546.0 1387.1 1544.0 1390.7 1542.7 1394.4 1541.9 1398.1 1541.9 1401.8 1542.3 1405.4 1543.2 1409.1 1544.3 1412.8 1545.4 1416.5 1546.4 1420.1 1547.1 1423.8 1547.4 1427.5 1547.4 1431.2 1547.0 1434.8 1546.1 1438.5 1544.7 1442.2 1542.5 1445.8 1539.2 1449.5 1534.5 1453.2 1528.2 1456.9 1519.9 1460.5 1509.5 1464.2 1496.9 1467.9 1482.0 1471.6 1465.0 1475.2 1445.8 1478.9 1424.5 1482.6 1401.2 1486.2 1376.1 1489.9 1349.3 1493.6 1321.1 1497.3 1291.7 1500.9 1261.5 1504.6 1230.8 1508.3 1200.0 1512.0 1169.4 1515.6 1139.5 1519.3 1110.6 1523.0 1083.0 1526.6 1057.2 1530.3 1033.4 1534.0 1011.9 1537.7 992.7 1541.3 976.1 1545.0 962.1 1548.7 950.7 1552.4 941.7 1556.0 935.2 1559.7 930.8 1563.4 928.3 1567.1 927.2 1570.7 927.2 1574.4 928.6 1578.1 931.7 1581.7 936.5 1585.4 942.8 1589.1 950.5 1592.8 959.5 1596.4 969.6 1600.1 980.6 1603.8 992.5 1607.5 1005.0 1611.1 1018.0 1614.8 1031.4 1618.5 1045.1 1622.1 1059.0 1625.8 1073.0 1629.5 1087.0 1633.2 1101.0 1636.8 1114.8 1640.5 1128.6 1644.2 1142.2 1647.9 1155.5 1651.5 1168.7 1655.2 1181.6 1658.9 1194.2 1662.5 1206.6 1666.2 1218.6 1669.9 1230.4 1673.6 1241.9 1677.2 1253.0 1680.9 1263.9 1684.6 1274.4 1688.3 1284.7 1691.9 1294.6 1695.6 1304.3 1699.3 1313.7 1703.0 1322.8 1706.6 1331.6 1710.3 1340.1 1714.0 1348.3 1717.6 1356.3 1721.3 1364.1 1725.0 1371.5 1728.7 1378.8 1732.3 1385.8 1736.0 1392.5 1739.7 1399.1 1743.4 1405.4 1747.0 1411.5 1750.7 1417.4 1754.4 1423.1 1758.0 1428.6 1761.7 1433.9 1765.4 1439.0 1769.1 1444.0 1772.7 1448.8 1776.4 1453.4 1780.1 1457.8 1783.8 1462.1 1787.4 1466.3 1791.1 1470.3 1794.8 1474.1 1798.5 1477.9 1802.1 1481.5 1805.8 1484.9 1809.5 1488.3 1813.1 1491.5 1816.8 1494.6 1820.5 1497.6 1824.2 1500.5 1827.8 1503.3 1831.5 1506.0 1835.2 1508.6 1838.9 1511.1 1842.5 1513.5 1846.2 1515.9 1849.9 1518.1 1853.5 1520.3 1857.2 1522.4 1860.9 1524.4 1864.6 1526.3 1868.2 1528.2 1871.9 1530.0 1875.6 1531.7 1879.3 1533.4 1882.9 1535.0 1886.6 1536.6 1890.3 1538.1 1893.9 1539.5 1897.6 1540.9 1901.3 1542.2 1905.0 1543.5 1908.6 1544.8 1912.3 1546.0 1916.0 1547.1 1919.7 1548.3 1923.3 1549.3 1927.0 1550.4 1930.7 1551.4 1934.4 1552.3 1938.0 1553.3 1941.7 1554.2 1945.4 1555.0 1949.0 1555.8 1952.7 1556.6 1956.4 1557.4 1960.1 1558.2 1963.7 1558.9 1967.4 1559.6 1971.1 1560.2 1974.8 1560.9 1978.4 1561.5 1982.1 1562.1 1985.8 1562.7 1989.4 1563.2 1993.1 1563.7 1996.8 1564.3 2000.5 1564.7 2004.1 1565.2 2007.8 1565.7 2011.5 1566.1 2015.2 1566.5 2018.8 1567.0 2022.5 1567.4 2026.2 1567.7 2029.8 1568.1 2033.5 1568.5 2037.2 1568.8 2040.9 1569.1 2044.5 1569.4 2048.2 1569.7 2051.9 1570.0 2055.6 1570.3 2059.2 1570.6 2062.9 1570.8 2066.6 1571.0 2070.3 1571.2 2073.9 1571.3 2077.6 1571.3 2081.3 1571.1 2084.9 1570.6 2088.6 1569.7 2092.3 1568.3 2096.0 1566.0 2099.6 1562.8 2103.3 1558.3 2107.0 1552.6 2110.7 1545.4 2114.3 1536.9 2118.0 1527.5 2121.7 1517.6 2125.3 1507.8 2129.0 1499.1 2132.7 1492.1 2136.4 1487.5 2140.0 1485.9 2143.7 1487.3 2147.4 1491.7 2151.1 1498.7 2154.7 1507.5 2158.4 1517.4 2162.1 1527.5 2165.7 1537.3 2169.4 1546.2 2173.1 1553.8 2176.8 1560.0 2180.4 1564.9 2184.1 1568.5 2187.8 1571.2 2191.5 1573.0 2195.1 1574.2 2198.8 1575.0 2202.5 1575.5 2206.2 1575.8 2209.8 1576.0 2213.5 1576.2 2217.2 1576.3 2220.8 1576.3 2224.5 1576.4 2228.2 1576.5 2231.9 1576.5 2235.5 1576.6 2239.2 1576.6 2242.9 1576.6 2246.6 1576.7 2250.2 1576.7 2253.9 1576.8 2257.6 1576.8 2261.2 1576.8 2264.9 1576.9 2268.6 1576.9 2272.3 1576.9 2275.9 1577.0 2279.6 1577.0" fill="none" stroke="#ee22cc" stroke-width="2.8" stroke-linejoin="round"/>
<rect x="1343" y="891.9" width="941.5" height="688.9" fill="none" stroke="#1a1a1a" stroke-width="3.2"/>
<path d="M1429 1580.8v13M1551.2 1580.8v13M1673.5 1580.8v13M1795.7 1580.8v13M1917.9 1580.8v13M2040.1 1580.8v13M2162.3 1580.8v13M2284.5 1580.8v13M1367.9 1580.8v6M1490.1 1580.8v6M1612.3 1580.8v6M1734.6 1580.8v6M1856.8 1580.8v6M1979 1580.8v6M2101.2 1580.8v6M2223.4 1580.8v6" stroke="#1a1a1a" stroke-width="3.2" fill="none"/>
<g font-family="Liberation Sans, Arial, Helvetica, sans-serif" font-size="40" fill="#222" text-anchor="middle"><text x="1429" y="1637.3">400</text><text x="1551.2" y="1637.3">450</text><text x="1673.5" y="1637.3">500</text><text x="1795.7" y="1637.3">550</text><text x="1917.9" y="1637.3">600</text><text x="2040.1" y="1637.3">650</text><text x="2162.3" y="1637.3">700</text><text x="2284.5" y="1637.3">750</text></g>
<path d="M1343 1580.8h-13M1343 1427.7h-13M1343 1274.6h-13M1343 1121.5h-13M1343 968.4h-13M1343 1504.3h-6M1343 1351.2h-6M1343 1198.1h-6M1343 1045h-6" stroke="#1a1a1a" stroke-width="3.2" fill="none"/>
<g font-family="Liberation Sans, Arial, Helvetica, sans-serif" font-size="40" fill="#222" text-anchor="end"><text x="1320" y="1590.5">0</text><text x="1320" y="1437.4">200</text><text x="1320" y="1284.3">400</text><text x="1320" y="1131.2">600</text><text x="1320" y="978.1">800</text></g>
<text x="1184" y="892" font-family="Liberation Sans, Arial, Helvetica, sans-serif" font-size="80" fill="#111" text-anchor="start" >d</text>
<text transform="translate(1219 1236.5) rotate(-90)" font-family="Liberation Sans, Arial, Helvetica, sans-serif" font-size="40.6" fill="#222" text-anchor="middle">Fluorescence intensity (a.u.)</text>
<clipPath id="cld"><rect x="1177" y="1600" width="1177" height="103"/></clipPath>
<g clip-path="url(#cld)">
<text x="1813.5" y="1703" font-family="Liberation Sans, Arial, Helvetica, sans-serif" font-size="41" fill="#222" text-anchor="middle" >Wavelength (nm)</text>
</g>
<text x="1786.3" y="999" font-family="Liberation Sans, Arial, Helvetica, sans-serif" font-size="40" fill="#222" text-anchor="middle" >0</text>
<path d="M1786.3 1003.6V1164" stroke="#111" stroke-width="3"/>
<path d="M1779.8 1162L1792.8 1162L1786.3 1183Z" fill="#111"/>
<text x="1805.2" y="1096" font-family="Liberation Sans, Arial, Helvetica, sans-serif" font-size="40" fill="#222" text-anchor="start" >[DCN]</text>
<text x="1690.2" y="1218.6" font-family="Liberation Sans, Arial, Helvetica, sans-serif" font-size="40" fill="#222" text-anchor="start" >1.62 x10<tspan dy="-14.4" font-size="26.8">−3</tspan><tspan dy="14.4"> </tspan>M</text>
<path d="M264.6 2388.1L939.5 1842.7" stroke="#ff0000" stroke-width="3.3"/>
<path d="M295.1 2380.6L1023.4 2095.8" stroke="#000000" stroke-width="3.3"/>
<path d="M264.6 2400.5V2384.6M256.6 2400.5h16M256.6 2384.6h16M273.9 2383.8V2351.9M265.9 2383.8h16M265.9 2351.9h16M366.7 2314.6V2268.4M358.7 2314.6h16M358.7 2268.4h16M729.9 2036.2V2002.8M721.9 2036.2h16M721.9 2002.8h16M852.6 1949.5V1919.3M844.6 1949.5h16M844.6 1919.3h16M939.5 1839.7V1809.5M931.5 1839.7h16M931.5 1809.5h16" stroke="#ff3030" stroke-width="2.4" fill="none"/>
<g fill="#ff0000"><rect x="256.8" y="2384.8" width="15.5" height="15.5"/><rect x="266.2" y="2360.1" width="15.5" height="15.5"/><rect x="358.9" y="2283.7" width="15.5" height="15.5"/><rect x="722.2" y="2011.7" width="15.5" height="15.5"/><rect x="844.9" y="1926.6" width="15.5" height="15.5"/><rect x="931.7" y="1816.9" width="15.5" height="15.5"/></g>
<path d="M295.1 2394.1V2375M287.1 2394.1h16M287.1 2375h16M470.5 2344.8V2298.7M462.5 2344.8h16M462.5 2298.7h16M538 2294.7V2270.8M530 2294.7h16M530 2270.8h16M729.9 2258.9V2185.7M721.9 2258.9h16M721.9 2185.7h16M852.6 2200V2133.2M844.6 2200h16M844.6 2133.2h16M910.1 2181.7V2129.2M902.1 2181.7h16M902.1 2129.2h16M1023.4 2114.1V2064.8M1015.4 2114.1h16M1015.4 2064.8h16" stroke="#222" stroke-width="2.4" fill="none"/>
<g fill="#000000"><circle cx="295.1" cy="2384.6" r="8.8"/><circle cx="470.5" cy="2321.7" r="8.8"/><circle cx="538" cy="2282.7" r="8.8"/><circle cx="729.9" cy="2222.3" r="8.8"/><circle cx="852.6" cy="2166.6" r="8.8"/><circle cx="910.1" cy="2155.5" r="8.8"/><circle cx="1023.4" cy="2089.5" r="8.8"/></g>
<rect x="200" y="1724.4" width="939" height="755.6" fill="none" stroke="#1a1a1a" stroke-width="3.4"/>
<path d="M258.7 2480v14M376.1 2480v14M493.4 2480v14M610.8 2480v14M728.2 2480v14M845.6 2480v14M962.9 2480v14M1080.3 2480v14M200 2480v7M317.4 2480v7M434.8 2480v7M552.1 2480v7M669.5 2480v7M786.9 2480v7M904.2 2480v7M1021.6 2480v7M1139 2480v7" stroke="#1a1a1a" stroke-width="3.4" fill="none"/>
<g font-family="Liberation Sans, Arial, Helvetica, sans-serif" font-size="42.5" fill="#222" text-anchor="middle"><text x="258.7" y="2539">0</text><text x="376.1" y="2539">2</text><text x="493.4" y="2539">4</text><text x="610.8" y="2539">6</text><text x="728.2" y="2539">8</text><text x="845.6" y="2539">10</text><text x="962.9" y="2539">12</text><text x="1080.3" y="2539">14</text></g>
<path d="M200 2480h-14M200 2400.5h-14M200 2320.9h-14M200 2241.4h-14M200 2161.9h-14M200 2082.3h-14M200 2002.8h-14M200 1923.2h-14M200 1843.7h-14M200 1764.2h-14M200 2440.2h-7M200 2360.7h-7M200 2281.2h-7M200 2201.6h-7M200 2122.1h-7M200 2042.5h-7M200 1963h-7M200 1883.5h-7M200 1803.9h-7" stroke="#1a1a1a" stroke-width="3.4" fill="none"/>
<g font-family="Liberation Sans, Arial, Helvetica, sans-serif" font-size="42.5" fill="#222" text-anchor="end"><text x="176" y="2492.6">0</text><text x="176" y="2413.1">1</text><text x="176" y="2333.5">2</text><text x="176" y="2254">3</text><text x="176" y="2174.4">4</text><text x="176" y="2094.9">5</text><text x="176" y="2015.4">6</text><text x="176" y="1935.8">7</text><text x="176" y="1856.3">8</text><text x="176" y="1776.8">9</text></g>
<text x="14" y="1732" font-family="Liberation Sans, Arial, Helvetica, sans-serif" font-size="79" fill="#111" text-anchor="start" >e</text>
<text transform="translate(126.5 2102.5) rotate(-90)" font-family="Liberation Sans, Arial, Helvetica, sans-serif" font-size="43" fill="#222" text-anchor="middle">I<tspan dy="9.5" font-size="30.1">0</tspan><tspan dy="-9.5">&#8203;</tspan>/I</text>
<text x="669" y="2627" font-family="Liberation Sans, Arial, Helvetica, sans-serif" font-size="42.7" fill="#222" text-anchor="middle" >TFL concentration (×10<tspan dy="-15.4" font-size="28.6">−4</tspan><tspan dy="15.4"> </tspan>M)</text>
<text x="624.4" y="1857.6" font-family="Liberation Sans, Arial, Helvetica, sans-serif" font-size="32" fill="#222" text-anchor="start" >y=5.71×10<tspan dy="-12.2" font-size="19.8">3</tspan><tspan dy="12.2">&#8203;</tspan>x+1.306</text>
<text x="624.4" y="1910.6" font-family="Liberation Sans, Arial, Helvetica, sans-serif" font-size="32" fill="#222" text-anchor="start" >R<tspan dy="-12.2" font-size="19.8">2</tspan><tspan dy="12.2">&#8203;</tspan>=0.992</text>
<text x="838" y="2046.8" font-family="Liberation Sans, Arial, Helvetica, sans-serif" font-size="32" fill="#222" text-anchor="start" >y=2.88×10<tspan dy="-12.2" font-size="19.8">3</tspan><tspan dy="12.2">&#8203;</tspan>x+0.978</text>
<text x="838" y="2098.3" font-family="Liberation Sans, Arial, Helvetica, sans-serif" font-size="32" fill="#222" text-anchor="start" >R<tspan dy="-12.2" font-size="19.8">2</tspan><tspan dy="12.2">&#8203;</tspan>=0.996</text>
<rect x="800" y="2366.5" width="17" height="17" fill="#ff0000"/><path d="M855 2375H954" stroke="#ff0000" stroke-width="3"/>
<circle cx="808.5" cy="2428" r="9.2" fill="#000000"/><path d="M855 2428H954" stroke="#000000" stroke-width="3"/>
<text x="964" y="2390" font-family="Liberation Sans, Arial, Helvetica, sans-serif" font-size="42.7" fill="#222" text-anchor="start" >LNU-45</text>
<text x="964" y="2443" font-family="Liberation Sans, Arial, Helvetica, sans-serif" font-size="42.7" fill="#222" text-anchor="start" >LNU-47</text>
<path d="M1419.5 2400.8L1779.4 1820.3" stroke="#ff0000" stroke-width="3.3"/>
<path d="M1420.7 2365.7L2165.4 2045.5" stroke="#000000" stroke-width="3.3"/>
<path d="M1419.5 2440.8V2327.4M1411.5 2440.8h16M1411.5 2327.4h16M1435.6 2408.3V2321.5M1427.6 2408.3h16M1427.6 2321.5h16M1452.4 2364.1V2330.7M1444.4 2364.1h16M1444.4 2330.7h16M1490.8 2300.7V2274M1482.8 2300.7h16M1482.8 2274h16M1528.1 2251.5V2214.8M1520.1 2251.5h16M1520.1 2214.8h16M1565.3 2190.6V2147.2M1557.3 2190.6h16M1557.3 2147.2h16M1638.5 2083.9V1987.1M1630.5 2083.9h16M1630.5 1987.1h16M1709.9 1968.8V1882M1701.9 1968.8h16M1701.9 1882h16M1779.4 1830.3V1797M1771.4 1830.3h16M1771.4 1797h16" stroke="#ff3030" stroke-width="2.4" fill="none"/>
<g fill="#ff0000"><rect x="1411.7" y="2376.3" width="15.5" height="15.5"/><rect x="1427.9" y="2357.2" width="15.5" height="15.5"/><rect x="1444.6" y="2339.7" width="15.5" height="15.5"/><rect x="1483.1" y="2279.6" width="15.5" height="15.5"/><rect x="1520.3" y="2225.4" width="15.5" height="15.5"/><rect x="1557.5" y="2161.2" width="15.5" height="15.5"/><rect x="1630.8" y="2027.7" width="15.5" height="15.5"/><rect x="1702.1" y="1917.7" width="15.5" height="15.5"/><rect x="1771.6" y="1805.9" width="15.5" height="15.5"/></g>
<path d="M1420.7 2426.6V2329.9M1412.7 2426.6h16M1412.7 2329.9h16M1452.4 2389.9V2324.9M1444.4 2389.9h16M1444.4 2324.9h16M1490.8 2371.6V2274.8M1482.8 2371.6h16M1482.8 2274.8h16M1565.3 2344.9V2256.5M1557.3 2344.9h16M1557.3 2256.5h16M1638.5 2287.4V2229M1630.5 2287.4h16M1630.5 2229h16M1709.9 2293.2V2176.4M1701.9 2293.2h16M1701.9 2176.4h16M1913.4 2171.4V2144.7M1905.4 2171.4h16M1905.4 2144.7h16M2041.9 2119.7V2064.7M2033.9 2119.7h16M2033.9 2064.7h16M2165.4 2088.9V1997.1M2157.4 2088.9h16M2157.4 1997.1h16" stroke="#222" stroke-width="2.4" fill="none"/>
<g fill="#000000"><circle cx="1420.7" cy="2378.3" r="8.8"/><circle cx="1452.4" cy="2357.4" r="8.8"/><circle cx="1490.8" cy="2323.2" r="8.8"/><circle cx="1565.3" cy="2300.7" r="8.8"/><circle cx="1638.5" cy="2258.2" r="8.8"/><circle cx="1709.9" cy="2234.8" r="8.8"/><circle cx="1913.4" cy="2158.1" r="8.8"/><circle cx="2041.9" cy="2092.2" r="8.8"/><circle cx="2165.4" cy="2043" r="8.8"/></g>
<rect x="1351.4" y="1728.6" width="933.1" height="751.4" fill="none" stroke="#2a2a2a" stroke-width="3.4"/>
<path d="M1414.5 2480v12M1538.6 2480v12M1662.7 2480v12M1786.8 2480v12M1910.9 2480v12M2035 2480v12M2159.2 2480v12M2283.3 2480v12M1352.5 2480v6M1476.6 2480v6M1600.7 2480v6M1724.8 2480v6M1848.9 2480v6M1973 2480v6M2097.1 2480v6M2221.2 2480v6" stroke="#2a2a2a" stroke-width="3.4" fill="none"/>
<g font-family="Liberation Sans, Arial, Helvetica, sans-serif" font-size="42" fill="#222" text-anchor="middle"><text x="1414.5" y="2539">0</text><text x="1538.6" y="2539">2</text><text x="1662.7" y="2539">4</text><text x="1786.8" y="2539">6</text><text x="1910.9" y="2539">8</text><text x="2035" y="2539">10</text><text x="2159.2" y="2539">12</text><text x="2283.3" y="2539">14</text></g>
<path d="M1351.4 2480h-12M1351.4 2313.2h-12M1351.4 2146.4h-12M1351.4 1979.6h-12M1351.4 1812.8h-12M1351.4 2396.6h-6M1351.4 2229.8h-6M1351.4 2063h-6M1351.4 1896.2h-6" stroke="#2a2a2a" stroke-width="3.4" fill="none"/>
<g font-family="Liberation Sans, Arial, Helvetica, sans-serif" font-size="42" fill="#222" text-anchor="end"><text x="1326.4" y="2492.9">0</text><text x="1326.4" y="2326.1">2</text><text x="1326.4" y="2159.3">4</text><text x="1326.4" y="1992.5">6</text><text x="1326.4" y="1825.7">8</text></g>
<text x="1196" y="1744" font-family="Liberation Sans, Arial, Helvetica, sans-serif" font-size="80" fill="#111" text-anchor="start" >f</text>
<text transform="translate(1276 2100) rotate(-90)" font-family="Liberation Sans, Arial, Helvetica, sans-serif" font-size="42" fill="#222" text-anchor="middle">I<tspan dy="9.2" font-size="29.4">0</tspan><tspan dy="-9.2">&#8203;</tspan>/I</text>
<text x="1818" y="2627" font-family="Liberation Sans, Arial, Helvetica, sans-serif" font-size="42.5" fill="#222" text-anchor="middle" >DCN concentration (×10<tspan dy="-15.3" font-size="28.5">−4</tspan><tspan dy="15.3"> </tspan>M)</text>
<text x="1888" y="1831" font-family="Liberation Sans, Arial, Helvetica, sans-serif" font-size="32" fill="#222" text-anchor="start" >y=1.20×10<tspan dy="-12.2" font-size="19.8">4</tspan><tspan dy="12.2">&#8203;</tspan>x+0.895</text>
<text x="1888" y="1884" font-family="Liberation Sans, Arial, Helvetica, sans-serif" font-size="32" fill="#222" text-anchor="start" >R<tspan dy="-12.2" font-size="19.8">2</tspan><tspan dy="12.2">&#8203;</tspan>=0.999</text>
<text x="1984" y="2156" font-family="Liberation Sans, Arial, Helvetica, sans-serif" font-size="32" fill="#222" text-anchor="start" >y=3.55×10<tspan dy="-12.2" font-size="19.8">3</tspan><tspan dy="12.2">&#8203;</tspan>x+0.972</text>
<text x="1984" y="2209" font-family="Liberation Sans, Arial, Helvetica, sans-serif" font-size="32" fill="#222" text-anchor="start" >R<tspan dy="-12.2" font-size="19.8">2</tspan><tspan dy="12.2">&#8203;</tspan>=0.998</text>
<rect x="1947" y="2369.2" width="17" height="17" fill="#ff0000"/><path d="M2001 2377.7H2099.5" stroke="#ff0000" stroke-width="3"/>
<circle cx="1955.4" cy="2429.8" r="9.2" fill="#000000"/><path d="M2001 2429.8H2099.5" stroke="#000000" stroke-width="3"/>
<text x="2110" y="2392.4" font-family="Liberation Sans, Arial, Helvetica, sans-serif" font-size="41.7" fill="#222" text-anchor="start" >LNU-45</text>
<text x="2110" y="2444.5" font-family="Liberation Sans, Arial, Helvetica, sans-serif" font-size="41.7" fill="#222" text-anchor="start" >LNU-47</text>
<path d="M260.9 3355.9 266.9 3325.2 272.9 3297.6 278.9 3273.2 284.9 3251.6 290.9 3232.8 296.9 3216.0 302.9 3200.7 308.9 3186.7 314.9 3173.7 320.9 3161.6 326.9 3150.3 332.9 3139.7 338.9 3129.2 344.9 3118.6 350.9 3108.6 356.9 3099.2 362.9 3090.2 368.9 3081.7 374.9 3073.6 380.9 3065.9 386.9 3058.4 392.9 3051.3 398.9 3044.3 404.9 3037.6 410.9 3031.0 416.9 3024.6 422.9 3018.3 428.9 3012.0 434.9 3005.8 440.9 2999.7 446.9 2993.5 452.9 2987.4 458.9 2981.4 464.9 2975.3 470.9 2969.3 476.9 2963.3 482.9 2957.5 488.9 2951.6 494.9 2945.9 500.9 2940.3 506.9 2934.8 512.9 2929.4 518.9 2924.1 524.9 2918.9 530.9 2913.9 536.9 2909.0 542.9 2904.3 548.9 2899.6 554.9 2895.1 560.9 2890.6 566.9 2886.3 572.9 2882.0 578.9 2877.9 584.9 2873.8 590.9 2869.7 596.9 2865.8 602.9 2861.9 608.9 2858.0 614.9 2854.3 620.9 2850.5 626.9 2846.9 632.9 2843.4 638.9 2839.9 644.9 2836.5 650.9 2833.2 656.9 2830.0 662.9 2826.9 668.9 2823.9 674.9 2821.1 680.9 2818.3 686.9 2815.7 692.9 2813.2 698.9 2810.8 704.9 2808.5 710.9 2806.3 716.9 2804.1 722.9 2802.1 728.9 2800.2 734.9 2798.3 740.9 2796.5 746.9 2794.7 752.9 2793.0 758.9 2791.4 764.9 2789.8 770.9 2788.2 776.9 2786.7 782.9 2785.3 788.9 2783.8 794.9 2782.4 800.9 2781.0 806.9 2779.6 812.9 2778.3 818.9 2777.0 824.9 2775.7 830.9 2774.4 836.9 2773.1 842.9 2771.9 848.9 2770.7 854.9 2769.6 860.9 2768.5 866.9 2767.3 872.9 2766.2 878.9 2765.1 884.9 2764.0 890.9 2762.9 890.9 2762.9" fill="none" stroke="#ff0000" stroke-width="3.3" stroke-linejoin="round"/>
<path d="M274.7 3324.2 280.7 3313.2 286.7 3301.8 292.7 3289.8 298.7 3277.2 304.7 3264.4 310.7 3251.8 316.7 3239.5 322.7 3227.7 328.7 3216.4 334.7 3205.2 340.7 3194.2 346.7 3183.7 352.7 3173.5 358.7 3163.6 364.7 3154.1 370.7 3145.0 376.7 3136.1 382.7 3127.5 388.7 3119.2 394.7 3111.1 400.7 3103.2 406.7 3095.6 412.7 3088.1 418.7 3080.9 424.7 3073.8 430.7 3066.9 436.7 3060.2 442.7 3053.7 448.7 3047.3 454.7 3041.2 460.7 3035.1 466.7 3029.3 472.7 3023.6 478.7 3018.0 484.7 3012.7 490.7 3007.5 496.7 3002.5 502.7 2997.8 508.7 2993.2 514.7 2988.8 520.7 2984.6 526.7 2980.6 532.7 2976.7 538.7 2973.1 544.7 2969.5 550.7 2966.1 556.7 2962.9 562.7 2959.7 568.7 2956.6 574.7 2953.5 580.7 2950.6 586.7 2947.7 592.7 2944.9 598.7 2942.1 604.7 2939.4 610.7 2936.7 616.7 2934.0 622.7 2931.4 628.7 2928.9 634.7 2926.4 640.7 2923.9 646.7 2921.4 652.7 2919.0 658.7 2916.7 664.7 2914.3 670.7 2912.0 676.7 2909.7 682.7 2907.5 688.7 2905.3 694.7 2903.1 700.7 2900.9 706.7 2898.7 712.7 2896.6 718.7 2894.5 724.7 2892.4 730.7 2890.3 736.7 2888.3 742.7 2886.2 748.7 2884.2 754.7 2882.3 760.7 2880.3 766.7 2878.4 772.7 2876.6 778.7 2874.7 784.7 2872.9 790.7 2871.1 796.7 2869.4 802.7 2867.7 808.7 2866.1 814.7 2864.5 820.7 2862.9 826.7 2861.4 832.7 2859.9 838.7 2858.4 844.7 2856.9 850.7 2855.4 856.7 2853.9 862.7 2852.4 868.7 2850.9 874.7 2849.4 880.7 2847.8 886.7 2846.2 892.7 2844.5 898.7 2842.9 904.7 2841.2 910.7 2839.5 916.7 2837.8 922.7 2836.1 928.7 2834.4 934.7 2832.8 940.7 2831.1 946.7 2829.4 952.7 2827.7 958.7 2826.1 964.7 2824.5 970.7 2822.9 976.7 2821.3 982.7 2819.8 988.7 2818.2 994.7 2816.7 1000.7 2815.2 1006.7 2813.7 1012.7 2812.2 1018.7 2810.7 1024.7 2809.3 1030.7 2807.8 1036.7 2806.4 1042.7 2804.9 1048.7 2803.5 1054.7 2802.0 1060.7 2800.6 1066.7 2799.1 1072.7 2797.6 1072.7 2797.6" fill="none" stroke="#000000" stroke-width="3.3" stroke-linejoin="round"/>
<path d="M260.9 3376.3V3335.5M252.9 3376.3h16M252.9 3335.5h16M295.1 3253.3V3164.4M287.1 3253.3h16M287.1 3164.4h16M355.7 3126.7V3039.2M347.7 3126.7h16M347.7 3039.2h16M452.6 3024.9V2954M444.6 3024.9h16M444.6 2954h16M517.1 2928.4V2907.3M509.1 2928.4h16M509.1 2907.3h16M578.8 2911.8V2853M570.8 2911.8h16M570.8 2853h16M697.2 2824.3V2774.6M689.2 2824.3h16M689.2 2774.6h16M811.3 2793.4V2763.2M803.3 2793.4h16M803.3 2763.2h16M892.8 2779.8V2740.6M884.8 2779.8h16M884.8 2740.6h16" stroke="#ff3030" stroke-width="2.4" fill="none"/>
<g fill="#ff0000"><rect x="253.2" y="3348.1" width="15.5" height="15.5"/><rect x="287.3" y="3201.1" width="15.5" height="15.5"/><rect x="347.9" y="3075.2" width="15.5" height="15.5"/><rect x="444.9" y="2981.7" width="15.5" height="15.5"/><rect x="509.3" y="2910.1" width="15.5" height="15.5"/><rect x="571" y="2874.6" width="15.5" height="15.5"/><rect x="689.5" y="2791.7" width="15.5" height="15.5"/><rect x="803.5" y="2770.6" width="15.5" height="15.5"/><rect x="885.1" y="2752.5" width="15.5" height="15.5"/></g>
<path d="M274.7 3352.9V3295.6M266.7 3352.9h16M266.7 3295.6h16M288.5 3315.2V3269.9M280.5 3315.2h16M280.5 3269.9h16M388.7 3132V3080.7M380.7 3132h16M380.7 3080.7h16M452.6 3095V3001.5M444.6 3095h16M444.6 3001.5h16M517.1 2987.2V2957M509.1 2987.2h16M509.1 2957h16M697.2 2941.9V2862M689.2 2941.9h16M689.2 2862h16M811.3 2889.9V2831.1M803.3 2889.9h16M803.3 2831.1h16M867.5 2889.2V2819.8M859.5 2889.2h16M859.5 2819.8h16M973.2 2856.7V2787.4M965.2 2856.7h16M965.2 2787.4h16M1074.6 2822.1V2772.3M1066.6 2822.1h16M1066.6 2772.3h16" stroke="#222" stroke-width="2.4" fill="none"/>
<g fill="#000000"><circle cx="274.7" cy="3324.2" r="8.8"/><circle cx="288.5" cy="3292.6" r="8.8"/><circle cx="388.7" cy="3106.3" r="8.8"/><circle cx="452.6" cy="3048.3" r="8.8"/><circle cx="517.1" cy="2972.1" r="8.8"/><circle cx="697.2" cy="2902" r="8.8"/><circle cx="811.3" cy="2860.5" r="8.8"/><circle cx="867.5" cy="2854.5" r="8.8"/><circle cx="973.2" cy="2822.1" r="8.8"/><circle cx="1074.6" cy="2797.2" r="8.8"/></g>
<rect x="199.5" y="2669" width="936.8" height="754" fill="none" stroke="#111" stroke-width="3.4"/>
<path d="M254.9 3423v14M365 3423v14M475.2 3423v14M585.4 3423v14M695.6 3423v14M805.8 3423v14M915.9 3423v14M1026.1 3423v14M1136.3 3423v14M199.8 3423v7M310 3423v7M420.1 3423v7M530.3 3423v7M640.5 3423v7M750.7 3423v7M860.9 3423v7M971 3423v7M1081.2 3423v7" stroke="#111" stroke-width="3.4" fill="none"/>
<g font-family="Liberation Serif, Times New Roman, serif" font-size="42.5" fill="#222" text-anchor="middle"><text x="254.9" y="3483">0</text><text x="365" y="3483">2</text><text x="475.2" y="3483">4</text><text x="585.4" y="3483">6</text><text x="695.6" y="3483">8</text><text x="805.8" y="3483">10</text><text x="915.9" y="3483">12</text><text x="1026.1" y="3483">14</text><text x="1136.3" y="3483">16</text></g>
<path d="M199.5 3423h-14M199.5 3272.2h-14M199.5 3121.4h-14M199.5 2970.6h-14M199.5 2819.8h-14M199.5 2669h-14M199.5 3347.6h-7M199.5 3196.8h-7M199.5 3046h-7M199.5 2895.2h-7M199.5 2744.4h-7" stroke="#111" stroke-width="3.4" fill="none"/>
<g font-family="Liberation Serif, Times New Roman, serif" font-size="42.5" fill="#222" text-anchor="end"><text x="171.5" y="3437">0</text><text x="171.5" y="3286.2">20</text><text x="171.5" y="3135.4">40</text><text x="171.5" y="2984.6">60</text><text x="171.5" y="2833.8">80</text><text x="171.5" y="2683">100</text></g>
<text x="16" y="2688" font-family="Liberation Sans, Arial, Helvetica, sans-serif" font-size="79" fill="#111" text-anchor="start" >g</text>
<text transform="translate(94 3044.5) rotate(-90)" font-family="Liberation Sans, Arial, Helvetica, sans-serif" font-size="43.4" fill="#222" text-anchor="middle">Quenching efficiency (%)</text>
<text x="669" y="3572.5" font-family="Liberation Sans, Arial, Helvetica, sans-serif" font-size="42.6" fill="#222" text-anchor="middle" >TFL concentration (×10<tspan dy="-15.3" font-size="28.5">−4</tspan><tspan dy="15.3"> </tspan>M)</text>
<path d="M853.5 3324.4H952" stroke="#ff0000" stroke-width="3"/><rect x="894.5" y="3316" width="17" height="17" fill="#ff0000"/>
<path d="M853.5 3377H952" stroke="#000000" stroke-width="3"/><circle cx="903" cy="3377" r="9.2" fill="#000000"/>
<text x="963" y="3338.5" font-family="Liberation Sans, Arial, Helvetica, sans-serif" font-size="42" fill="#222" text-anchor="start" >LNU-45</text>
<text x="963" y="3391" font-family="Liberation Sans, Arial, Helvetica, sans-serif" font-size="42" fill="#222" text-anchor="start" >LNU-47</text>
<path d="M1413.5 3353.0 1419.5 3300.3 1425.5 3252.1 1431.5 3208.2 1437.5 3170.9 1443.5 3140.3 1449.5 3114.6 1455.5 3092.4 1461.5 3072.9 1467.5 3055.4 1473.5 3037.4 1479.5 3020.7 1485.5 3005.4 1491.5 2991.4 1497.5 2978.4 1503.5 2966.2 1509.5 2954.8 1515.5 2943.9 1521.5 2933.7 1527.5 2923.9 1533.5 2914.5 1539.5 2905.5 1545.5 2896.8 1551.5 2888.5 1557.5 2880.4 1563.5 2872.6 1569.5 2865.2 1575.5 2857.9 1581.5 2851.0 1587.5 2844.3 1593.5 2838.0 1599.5 2832.0 1605.5 2826.2 1611.5 2820.8 1617.5 2815.7 1623.5 2811.0 1629.5 2806.6 1635.5 2802.5 1641.5 2798.7 1647.5 2795.2 1653.5 2792.1 1659.5 2789.1 1665.5 2786.5 1671.5 2784.0 1677.5 2781.7 1683.5 2779.4 1689.5 2777.3 1695.5 2775.2 1701.5 2773.2 1707.5 2771.2 1713.5 2769.1 1719.5 2767.1 1725.5 2765.1 1731.5 2763.1 1737.5 2761.2 1743.5 2759.2 1749.5 2757.2 1755.5 2755.3 1761.5 2753.4 1767.5 2751.4 1773.5 2749.6 1779.5 2747.7 1785.5 2745.9 1791.5 2744.1 1797.5 2742.4 1803.5 2740.6 1809.5 2739.0 1815.5 2737.3 1821.5 2735.8 1827.5 2734.2 1833.5 2732.8 1839.5 2731.3 1845.5 2730.0 1851.5 2728.7 1857.5 2727.5 1863.5 2726.3 1869.5 2725.2 1875.5 2724.1 1881.5 2723.1 1887.5 2722.2 1893.5 2721.2 1899.5 2720.4 1905.5 2719.6 1911.5 2718.9 1917.5 2718.2 1923.5 2717.5 1929.5 2716.8 1935.5 2716.1 1935.5 2716.1" fill="none" stroke="#ff0000" stroke-width="3.3" stroke-linejoin="round"/>
<path d="M1413.5 3345.4 1419.5 3333.3 1425.5 3320.8 1431.5 3308.1 1437.5 3295.0 1443.5 3281.5 1449.5 3267.7 1455.5 3254.0 1461.5 3240.6 1467.5 3227.7 1473.5 3214.9 1479.5 3202.3 1485.5 3190.0 1491.5 3178.1 1497.5 3166.6 1503.5 3155.5 1509.5 3144.8 1515.5 3134.5 1521.5 3124.6 1527.5 3115.1 1533.5 3106.0 1539.5 3097.3 1545.5 3089.1 1551.5 3081.2 1557.5 3073.8 1563.5 3066.7 1569.5 3059.9 1575.5 3053.5 1581.5 3047.2 1587.5 3041.3 1593.5 3035.4 1599.5 3029.8 1605.5 3024.2 1611.5 3018.8 1617.5 3013.4 1623.5 3008.1 1629.5 3002.9 1635.5 2997.8 1641.5 2992.7 1647.5 2987.7 1653.5 2982.8 1659.5 2978.0 1665.5 2973.3 1671.5 2968.7 1677.5 2964.2 1683.5 2959.8 1689.5 2955.5 1695.5 2951.3 1701.5 2947.2 1707.5 2943.1 1713.5 2939.2 1719.5 2935.3 1725.5 2931.5 1731.5 2927.7 1737.5 2924.1 1743.5 2920.5 1749.5 2917.0 1755.5 2913.6 1761.5 2910.3 1767.5 2907.0 1773.5 2903.9 1779.5 2900.8 1785.5 2897.8 1791.5 2894.9 1797.5 2892.0 1803.5 2889.2 1809.5 2886.5 1815.5 2883.9 1821.5 2881.3 1827.5 2878.7 1833.5 2876.3 1839.5 2873.9 1845.5 2871.5 1851.5 2869.2 1857.5 2866.9 1863.5 2864.7 1869.5 2862.6 1875.5 2860.5 1881.5 2858.4 1887.5 2856.4 1893.5 2854.4 1899.5 2852.4 1905.5 2850.5 1911.5 2848.6 1917.5 2846.8 1923.5 2845.0 1929.5 2843.2 1935.5 2841.5 1941.5 2839.8 1947.5 2838.1 1953.5 2836.5 1959.5 2834.9 1965.5 2833.4 1971.5 2831.9 1977.5 2830.4 1983.5 2829.0 1989.5 2827.7 1995.5 2826.4 2001.5 2825.1 2007.5 2823.9 2013.5 2822.8 2019.5 2821.7 2025.5 2820.6 2031.5 2819.6 2037.5 2818.6 2043.5 2817.6 2049.5 2816.6 2055.5 2815.7 2061.5 2814.7 2067.5 2813.7 2073.5 2812.8 2079.5 2811.8 2085.5 2810.8 2091.5 2809.8 2097.5 2808.7 2103.5 2807.7 2109.5 2806.6 2115.5 2805.4 2121.5 2804.2 2127.5 2803.0 2133.5 2801.8 2139.5 2800.5 2145.5 2799.3 2151.5 2797.9 2157.5 2796.6 2163.5 2795.3 2169.5 2793.9 2175.5 2792.5 2181.5 2791.1 2187.5 2789.7 2193.5 2788.3 2199.5 2786.9 2205.5 2785.5 2211.5 2784.1 2217.5 2782.7 2223.5 2781.2 2229.5 2779.8 2235.5 2778.4 2241.5 2777.0 2247.5 2775.7 2247.5 2775.7" fill="none" stroke="#000000" stroke-width="3.3" stroke-linejoin="round"/>
<path d="M1413.5 3379.3V3326.6M1405.5 3379.3h16M1405.5 3326.6h16M1429.8 3257.3V3179M1421.8 3257.3h16M1421.8 3179h16M1443.2 3136.1V3106M1435.2 3136.1h16M1435.2 3106h16M1479.4 3005.8V2984.8M1471.4 3005.8h16M1471.4 2984.8h16M1618.1 2810.1V2779.9M1610.1 2810.1h16M1610.1 2779.9h16M1685.7 2798V2758.9M1677.7 2798h16M1677.7 2758.9h16M1876.8 2734V2712.9M1868.8 2734h16M1868.8 2712.9h16M1936.9 2731V2700.9M1928.9 2731h16M1928.9 2700.9h16" stroke="#ff3030" stroke-width="2.4" fill="none"/>
<g fill="#ff0000"><rect x="1405.8" y="3345.2" width="15.5" height="15.5"/><rect x="1422.1" y="3210.4" width="15.5" height="15.5"/><rect x="1435.5" y="3113.3" width="15.5" height="15.5"/><rect x="1471.6" y="2987.5" width="15.5" height="15.5"/><rect x="1610.3" y="2787.2" width="15.5" height="15.5"/><rect x="1677.9" y="2770.7" width="15.5" height="15.5"/><rect x="1869.1" y="2715.7" width="15.5" height="15.5"/><rect x="1929.1" y="2708.2" width="15.5" height="15.5"/></g>
<path d="M1413.5 3364.3V3326.6M1405.5 3364.3h16M1405.5 3326.6h16M1443.2 3315.3V3250.6M1435.2 3315.3h16M1435.2 3250.6h16M1479.4 3205.4V3193.3M1471.4 3205.4h16M1471.4 3193.3h16M1549.9 3080.4V3059.3M1541.9 3080.4h16M1541.9 3059.3h16M1618.1 3039.7V2997.6M1610.1 3039.7h16M1610.1 2997.6h16M1685.7 2978.7V2918.5M1677.7 2978.7h16M1677.7 2918.5h16M1876.8 2900.4V2816.1M1868.8 2900.4h16M1868.8 2816.1h16M1996.3 2862V2789.7M1988.3 2862h16M1988.3 2789.7h16M2112.3 2841.7V2770.9M2104.3 2841.7h16M2104.3 2770.9h16M2248.6 2808.6V2742.3M2240.6 2808.6h16M2240.6 2742.3h16" stroke="#222" stroke-width="2.4" fill="none"/>
<g fill="#000000"><circle cx="1413.5" cy="3345.4" r="8.8"/><circle cx="1443.2" cy="3282.9" r="8.8"/><circle cx="1479.4" cy="3199.4" r="8.8"/><circle cx="1549.9" cy="3069.8" r="8.8"/><circle cx="1618.1" cy="3018.6" r="8.8"/><circle cx="1685.7" cy="2948.6" r="8.8"/><circle cx="1876.8" cy="2858.2" r="8.8"/><circle cx="1996.3" cy="2825.9" r="8.8"/><circle cx="2112.3" cy="2806.3" r="8.8"/><circle cx="2248.6" cy="2775.4" r="8.8"/></g>
<rect x="1350" y="2670" width="933.6" height="753" fill="none" stroke="#000" stroke-width="3.4"/>
<path d="M1407.7 3423v13M1524.2 3423v13M1640.8 3423v13M1757.4 3423v13M1873.9 3423v13M1990.5 3423v13M2107 3423v13M2223.6 3423v13M1349.4 3423v6M1466 3423v6M1582.5 3423v6M1699.1 3423v6M1815.6 3423v6M1932.2 3423v6M2048.7 3423v6M2165.3 3423v6M2281.9 3423v6" stroke="#000" stroke-width="3.4" fill="none"/>
<g font-family="Liberation Sans, Arial, Helvetica, sans-serif" font-size="41.5" fill="#222" text-anchor="middle"><text x="1407.7" y="3480.5">0</text><text x="1524.2" y="3480.5">2</text><text x="1640.8" y="3480.5">4</text><text x="1757.4" y="3480.5">6</text><text x="1873.9" y="3480.5">8</text><text x="1990.5" y="3480.5">10</text><text x="2107" y="3480.5">12</text><text x="2223.6" y="3480.5">14</text></g>
<path d="M1350 3423h-13M1350 3272.4h-13M1350 3121.8h-13M1350 2971.2h-13M1350 2820.6h-13M1350 2670h-13M1350 3347.7h-6M1350 3197.1h-6M1350 3046.5h-6M1350 2895.9h-6M1350 2745.3h-6" stroke="#000" stroke-width="3.4" fill="none"/>
<g font-family="Liberation Sans, Arial, Helvetica, sans-serif" font-size="41.5" fill="#222" text-anchor="end"><text x="1325" y="3434.7">0</text><text x="1325" y="3284.1">20</text><text x="1325" y="3133.5">40</text><text x="1325" y="2982.9">60</text><text x="1325" y="2832.3">80</text><text x="1325" y="2681.7">100</text></g>
<text x="1186" y="2697" font-family="Liberation Sans, Arial, Helvetica, sans-serif" font-size="80" fill="#111" text-anchor="start" >h</text>
<text transform="translate(1238.5 3044.5) rotate(-90)" font-family="Liberation Sans, Arial, Helvetica, sans-serif" font-size="43.4" fill="#222" text-anchor="middle">Quenching efficiency (%)</text>
<text x="1817" y="3569.5" font-family="Liberation Sans, Arial, Helvetica, sans-serif" font-size="42.5" fill="#222" text-anchor="middle" >DCN concentration (×10<tspan dy="-15.3" font-size="28.5">−4</tspan><tspan dy="15.3"> </tspan>M)</text>
<path d="M2001 3325H2099" stroke="#ff0000" stroke-width="3"/><rect x="2041.5" y="3317" width="16" height="16" fill="#ff0000"/>
<path d="M2001 3377H2099" stroke="#000000" stroke-width="3"/><circle cx="2050" cy="3377" r="9" fill="#000000"/>
<text x="2110" y="3338.5" font-family="Liberation Sans, Arial, Helvetica, sans-serif" font-size="41.8" fill="#222" text-anchor="start" >LNU-45</text>
<text x="2110" y="3391" font-family="Liberation Sans, Arial, Helvetica, sans-serif" font-size="41.8" fill="#222" text-anchor="start" >LNU-47</text>
</svg></body></html>
